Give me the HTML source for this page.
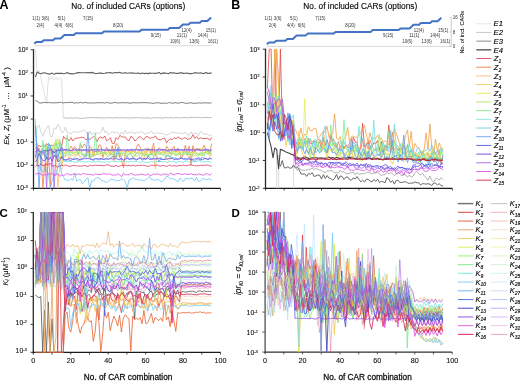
<!DOCTYPE html>
<html><head><meta charset="utf-8"><style>
html,body{margin:0;padding:0;background:#fff;width:520px;height:381px;overflow:hidden}
svg{display:block;will-change:transform}
text{font-family:"Liberation Sans", sans-serif;stroke:#000;stroke-width:0.3px;stroke-opacity:0.8}
</style></head><body>
<svg width="520" height="381" viewBox="0 0 520 381">
<text x="-0.60" y="8.80" font-size="12.5" font-weight="bold" style="stroke:none">A</text>
<text x="231.20" y="8.80" font-size="12.5" font-weight="bold" style="stroke:none">B</text>
<text x="-0.60" y="216.60" font-size="11.5" font-weight="bold" style="stroke:none">C</text>
<text x="231.50" y="216.60" font-size="11.5" font-weight="bold" style="stroke:none">D</text>
<text x="128.25" y="8.60" font-size="8.3" text-anchor="middle" style="stroke-width:0.15px">No. of included CARs (options)</text>
<text x="360.30" y="8.60" font-size="8.3" text-anchor="middle" style="stroke-width:0.15px">No. of included CARs (options)</text>
<line x1="34.60" y1="45.70" x2="212.50" y2="45.70" stroke="#d9d9d9" stroke-width="1" />
<polyline points="34.3,43.8 36.2,42.0 38.1,42.0 39.9,42.0 41.8,42.0 43.7,40.3 45.6,40.3 47.5,40.3 49.3,40.3 51.2,40.3 53.1,40.3 55.0,38.5 56.9,38.5 58.8,38.5 60.6,38.5 62.5,36.8 64.4,35.0 66.3,35.0 68.2,35.0 70.0,35.0 71.9,35.0 73.8,35.0 75.7,33.2 77.6,33.2 79.4,33.2 81.3,33.2 83.2,33.2 85.1,33.2 87.0,33.2 88.8,33.2 90.7,33.2 92.6,33.2 94.5,33.2 96.4,33.2 98.3,33.2 100.1,33.2 102.0,33.2 103.9,31.5 105.8,31.5 107.7,31.5 109.5,31.5 111.4,31.5 113.3,31.5 115.2,31.5 117.1,31.5 118.9,31.5 120.8,31.5 122.7,31.5 124.6,31.5 126.5,31.5 128.3,31.5 130.2,31.5 132.1,31.5 134.0,31.5 135.9,31.5 137.8,31.5 139.6,31.5 141.5,29.7 143.4,29.7 145.3,29.7 147.2,29.7 149.0,29.7 150.9,29.7 152.8,29.7 154.7,29.7 156.6,29.7 158.4,29.7 160.3,29.7 162.2,29.7 164.1,29.7 166.0,29.7 167.9,29.7 169.7,28.0 171.6,28.0 173.5,28.0 175.4,28.0 177.3,28.0 179.1,28.0 181.0,26.2 182.9,24.4 184.8,24.4 186.7,24.4 188.5,24.4 190.4,22.7 192.3,22.7 194.2,22.7 196.1,22.7 197.9,22.7 199.8,22.7 201.7,20.9 203.6,20.9 205.5,20.9 207.4,20.9 209.2,19.2 211.1,17.4" fill="none" stroke="#4472c4" stroke-width="2.0" stroke-opacity="1" stroke-linejoin="round" />
<text x="32.30" y="19.70" font-size="4.6" fill="#333" font-family='"Liberation Serif", serif' style="stroke:none" textLength="7.7" lengthAdjust="spacingAndGlyphs">1(1)</text>
<text x="41.50" y="19.70" font-size="4.6" fill="#333" font-family='"Liberation Serif", serif' style="stroke:none" textLength="7.7" lengthAdjust="spacingAndGlyphs">3(6)</text>
<text x="57.70" y="19.70" font-size="4.6" fill="#333" font-family='"Liberation Serif", serif' style="stroke:none" textLength="7.7" lengthAdjust="spacingAndGlyphs">5(1)</text>
<text x="83.00" y="19.70" font-size="4.6" fill="#333" font-family='"Liberation Serif", serif' style="stroke:none" textLength="10.2" lengthAdjust="spacingAndGlyphs">7(15)</text>
<text x="36.50" y="26.60" font-size="4.6" fill="#333" font-family='"Liberation Serif", serif' style="stroke:none" textLength="7.7" lengthAdjust="spacingAndGlyphs">2(4)</text>
<text x="54.60" y="26.60" font-size="4.6" fill="#333" font-family='"Liberation Serif", serif' style="stroke:none" textLength="7.7" lengthAdjust="spacingAndGlyphs">4(4)</text>
<text x="65.40" y="26.60" font-size="4.6" fill="#333" font-family='"Liberation Serif", serif' style="stroke:none" textLength="7.7" lengthAdjust="spacingAndGlyphs">6(6)</text>
<text x="113.00" y="26.60" font-size="4.6" fill="#333" font-family='"Liberation Serif", serif' style="stroke:none" textLength="10.2" lengthAdjust="spacingAndGlyphs">8(20)</text>
<text x="150.80" y="37.10" font-size="4.6" fill="#333" font-family='"Liberation Serif", serif' style="stroke:none" textLength="10.2" lengthAdjust="spacingAndGlyphs">9(15)</text>
<text x="181.50" y="31.90" font-size="4.6" fill="#333" font-family='"Liberation Serif", serif' style="stroke:none" textLength="10.2" lengthAdjust="spacingAndGlyphs">12(4)</text>
<text x="205.80" y="31.90" font-size="4.6" fill="#333" font-family='"Liberation Serif", serif' style="stroke:none" textLength="10.2" lengthAdjust="spacingAndGlyphs">15(1)</text>
<text x="176.80" y="37.30" font-size="4.6" fill="#333" font-family='"Liberation Serif", serif' style="stroke:none" textLength="10.2" lengthAdjust="spacingAndGlyphs">11(1)</text>
<text x="197.70" y="36.60" font-size="4.6" fill="#333" font-family='"Liberation Serif", serif' style="stroke:none" textLength="10.2" lengthAdjust="spacingAndGlyphs">14(4)</text>
<text x="170.00" y="42.70" font-size="4.6" fill="#333" font-family='"Liberation Serif", serif' style="stroke:none" textLength="10.2" lengthAdjust="spacingAndGlyphs">10(6)</text>
<text x="189.30" y="42.70" font-size="4.6" fill="#333" font-family='"Liberation Serif", serif' style="stroke:none" textLength="10.2" lengthAdjust="spacingAndGlyphs">13(6)</text>
<text x="207.80" y="42.70" font-size="4.6" fill="#333" font-family='"Liberation Serif", serif' style="stroke:none" textLength="10.2" lengthAdjust="spacingAndGlyphs">16(1)</text>
<line x1="266.00" y1="46.40" x2="451.20" y2="46.40" stroke="#d9d9d9" stroke-width="1" />
<polyline points="266.9,44.2 268.8,42.4 270.6,42.4 272.5,42.4 274.3,42.4 276.2,40.7 278.0,40.7 279.9,40.7 281.7,40.7 283.6,40.7 285.4,40.7 287.3,38.9 289.2,38.9 291.0,38.9 292.9,38.9 294.7,37.2 296.6,35.4 298.4,35.4 300.3,35.4 302.1,35.4 304.0,35.4 305.9,35.4 307.7,33.6 309.6,33.6 311.4,33.6 313.3,33.6 315.1,33.6 317.0,33.6 318.8,33.6 320.7,33.6 322.5,33.6 324.4,33.6 326.3,33.6 328.1,33.6 330.0,33.6 331.8,33.6 333.7,33.6 335.5,31.9 337.4,31.9 339.2,31.9 341.1,31.9 343.0,31.9 344.8,31.9 346.7,31.9 348.5,31.9 350.4,31.9 352.2,31.9 354.1,31.9 355.9,31.9 357.8,31.9 359.6,31.9 361.5,31.9 363.4,31.9 365.2,31.9 367.1,31.9 368.9,31.9 370.8,31.9 372.6,30.1 374.5,30.1 376.3,30.1 378.2,30.1 380.1,30.1 381.9,30.1 383.8,30.1 385.6,30.1 387.5,30.1 389.3,30.1 391.2,30.1 393.0,30.1 394.9,30.1 396.8,30.1 398.6,30.1 400.5,28.4 402.3,28.4 404.2,28.4 406.0,28.4 407.9,28.4 409.7,28.4 411.6,26.6 413.4,24.8 415.3,24.8 417.2,24.8 419.0,24.8 420.9,23.1 422.7,23.1 424.6,23.1 426.4,23.1 428.3,23.1 430.1,23.1 432.0,21.3 433.8,21.3 435.7,21.3 437.6,21.3 439.4,19.6 441.3,17.8" fill="none" stroke="#4472c4" stroke-width="2.0" stroke-opacity="1" stroke-linejoin="round" />
<text x="264.60" y="19.70" font-size="4.6" fill="#333" font-family='"Liberation Serif", serif' style="stroke:none" textLength="7.7" lengthAdjust="spacingAndGlyphs">1(1)</text>
<text x="273.80" y="19.70" font-size="4.6" fill="#333" font-family='"Liberation Serif", serif' style="stroke:none" textLength="7.7" lengthAdjust="spacingAndGlyphs">3(6)</text>
<text x="290.00" y="19.70" font-size="4.6" fill="#333" font-family='"Liberation Serif", serif' style="stroke:none" textLength="7.7" lengthAdjust="spacingAndGlyphs">5(1)</text>
<text x="315.30" y="19.70" font-size="4.6" fill="#333" font-family='"Liberation Serif", serif' style="stroke:none" textLength="10.2" lengthAdjust="spacingAndGlyphs">7(15)</text>
<text x="268.80" y="26.60" font-size="4.6" fill="#333" font-family='"Liberation Serif", serif' style="stroke:none" textLength="7.7" lengthAdjust="spacingAndGlyphs">2(4)</text>
<text x="286.90" y="26.60" font-size="4.6" fill="#333" font-family='"Liberation Serif", serif' style="stroke:none" textLength="7.7" lengthAdjust="spacingAndGlyphs">4(4)</text>
<text x="297.70" y="26.60" font-size="4.6" fill="#333" font-family='"Liberation Serif", serif' style="stroke:none" textLength="7.7" lengthAdjust="spacingAndGlyphs">6(6)</text>
<text x="345.30" y="26.60" font-size="4.6" fill="#333" font-family='"Liberation Serif", serif' style="stroke:none" textLength="10.2" lengthAdjust="spacingAndGlyphs">8(20)</text>
<text x="383.10" y="37.10" font-size="4.6" fill="#333" font-family='"Liberation Serif", serif' style="stroke:none" textLength="10.2" lengthAdjust="spacingAndGlyphs">9(15)</text>
<text x="413.80" y="31.90" font-size="4.6" fill="#333" font-family='"Liberation Serif", serif' style="stroke:none" textLength="10.2" lengthAdjust="spacingAndGlyphs">12(4)</text>
<text x="438.10" y="31.90" font-size="4.6" fill="#333" font-family='"Liberation Serif", serif' style="stroke:none" textLength="10.2" lengthAdjust="spacingAndGlyphs">15(1)</text>
<text x="409.10" y="37.30" font-size="4.6" fill="#333" font-family='"Liberation Serif", serif' style="stroke:none" textLength="10.2" lengthAdjust="spacingAndGlyphs">11(1)</text>
<text x="430.00" y="36.60" font-size="4.6" fill="#333" font-family='"Liberation Serif", serif' style="stroke:none" textLength="10.2" lengthAdjust="spacingAndGlyphs">14(4)</text>
<text x="402.30" y="42.70" font-size="4.6" fill="#333" font-family='"Liberation Serif", serif' style="stroke:none" textLength="10.2" lengthAdjust="spacingAndGlyphs">10(6)</text>
<text x="421.60" y="42.70" font-size="4.6" fill="#333" font-family='"Liberation Serif", serif' style="stroke:none" textLength="10.2" lengthAdjust="spacingAndGlyphs">13(6)</text>
<text x="440.10" y="42.70" font-size="4.6" fill="#333" font-family='"Liberation Serif", serif' style="stroke:none" textLength="10.2" lengthAdjust="spacingAndGlyphs">16(1)</text>
<line x1="451.20" y1="17.20" x2="451.20" y2="46.40" stroke="#bfbfbf" stroke-width="0.8" />
<line x1="449.10" y1="17.20" x2="451.20" y2="17.20" stroke="#bfbfbf" stroke-width="0.8" />
<text x="452.80" y="18.80" font-size="4.6" fill="#333" font-family='"Liberation Serif", serif' style="stroke:none">16</text>
<line x1="449.10" y1="32.00" x2="451.20" y2="32.00" stroke="#bfbfbf" stroke-width="0.8" />
<text x="452.80" y="33.60" font-size="4.6" fill="#333" font-family='"Liberation Serif", serif' style="stroke:none">8</text>
<line x1="449.10" y1="46.10" x2="451.20" y2="46.10" stroke="#bfbfbf" stroke-width="0.8" />
<text x="452.80" y="47.70" font-size="4.6" fill="#333" font-family='"Liberation Serif", serif' style="stroke:none">0</text>
<text x="0.00" y="0.00" font-size="5.6" text-anchor="middle" fill="#222" style="stroke-width:0.1px" transform="translate(464.3,32.3) rotate(-90)">No. of incl. CARs</text>
<line x1="33.50" y1="49.30" x2="33.50" y2="189.20" stroke="#2a2a2a" stroke-width="1.3" />
<line x1="30.70" y1="49.80" x2="33.50" y2="49.80" stroke="#2a2a2a" stroke-width="0.9" />
<text x="27.90" y="51.60" font-size="6.8" text-anchor="end" fill="#111" style="stroke-width:0.12px">10<tspan dy="-1.9" font-size="4.3">3</tspan></text>
<line x1="30.70" y1="72.88" x2="33.50" y2="72.88" stroke="#2a2a2a" stroke-width="0.9" />
<text x="27.90" y="74.68" font-size="6.8" text-anchor="end" fill="#111" style="stroke-width:0.12px">10<tspan dy="-1.9" font-size="4.3">2</tspan></text>
<line x1="30.70" y1="95.96" x2="33.50" y2="95.96" stroke="#2a2a2a" stroke-width="0.9" />
<text x="27.90" y="97.76" font-size="6.8" text-anchor="end" fill="#111" style="stroke-width:0.12px">10<tspan dy="-1.9" font-size="4.3">1</tspan></text>
<line x1="30.70" y1="119.04" x2="33.50" y2="119.04" stroke="#2a2a2a" stroke-width="0.9" />
<text x="27.90" y="120.84" font-size="6.8" text-anchor="end" fill="#111" style="stroke-width:0.12px">10<tspan dy="-1.9" font-size="4.3">0</tspan></text>
<line x1="30.70" y1="142.12" x2="33.50" y2="142.12" stroke="#2a2a2a" stroke-width="0.9" />
<text x="27.90" y="143.92" font-size="6.8" text-anchor="end" fill="#111" style="stroke-width:0.12px">10<tspan dy="-1.9" font-size="4.3">-1</tspan></text>
<line x1="30.70" y1="165.20" x2="33.50" y2="165.20" stroke="#2a2a2a" stroke-width="0.9" />
<text x="27.90" y="167.00" font-size="6.8" text-anchor="end" fill="#111" style="stroke-width:0.12px">10<tspan dy="-1.9" font-size="4.3">-2</tspan></text>
<line x1="30.70" y1="188.28" x2="33.50" y2="188.28" stroke="#2a2a2a" stroke-width="0.9" />
<text x="27.90" y="190.08" font-size="6.8" text-anchor="end" fill="#111" style="stroke-width:0.12px">10<tspan dy="-1.9" font-size="4.3">-3</tspan></text>
<line x1="32.90" y1="188.30" x2="220.50" y2="188.30" stroke="#1a1a1a" stroke-width="1.2" />
<line x1="33.50" y1="188.30" x2="33.50" y2="190.60" stroke="#1a1a1a" stroke-width="0.8" />
<line x1="52.20" y1="188.30" x2="52.20" y2="190.60" stroke="#1a1a1a" stroke-width="0.8" />
<line x1="70.90" y1="188.30" x2="70.90" y2="190.60" stroke="#1a1a1a" stroke-width="0.8" />
<line x1="89.60" y1="188.30" x2="89.60" y2="190.60" stroke="#1a1a1a" stroke-width="0.8" />
<line x1="108.30" y1="188.30" x2="108.30" y2="190.60" stroke="#1a1a1a" stroke-width="0.8" />
<line x1="127.00" y1="188.30" x2="127.00" y2="190.60" stroke="#1a1a1a" stroke-width="0.8" />
<line x1="145.70" y1="188.30" x2="145.70" y2="190.60" stroke="#1a1a1a" stroke-width="0.8" />
<line x1="164.40" y1="188.30" x2="164.40" y2="190.60" stroke="#1a1a1a" stroke-width="0.8" />
<line x1="183.10" y1="188.30" x2="183.10" y2="190.60" stroke="#1a1a1a" stroke-width="0.8" />
<line x1="201.80" y1="188.30" x2="201.80" y2="190.60" stroke="#1a1a1a" stroke-width="0.8" />
<line x1="220.50" y1="188.30" x2="220.50" y2="190.60" stroke="#1a1a1a" stroke-width="0.8" />
<line x1="265.50" y1="48.70" x2="265.50" y2="189.20" stroke="#2a2a2a" stroke-width="1.3" />
<line x1="262.70" y1="49.20" x2="265.50" y2="49.20" stroke="#2a2a2a" stroke-width="0.9" />
<text x="259.60" y="51.50" font-size="6.8" text-anchor="end" fill="#111" style="stroke-width:0.12px">10<tspan dy="-1.9" font-size="4.3">3</tspan></text>
<line x1="262.70" y1="77.02" x2="265.50" y2="77.02" stroke="#2a2a2a" stroke-width="0.9" />
<text x="259.60" y="79.32" font-size="6.8" text-anchor="end" fill="#111" style="stroke-width:0.12px">10<tspan dy="-1.9" font-size="4.3">2</tspan></text>
<line x1="262.70" y1="104.84" x2="265.50" y2="104.84" stroke="#2a2a2a" stroke-width="0.9" />
<text x="259.60" y="107.14" font-size="6.8" text-anchor="end" fill="#111" style="stroke-width:0.12px">10<tspan dy="-1.9" font-size="4.3">1</tspan></text>
<line x1="262.70" y1="132.66" x2="265.50" y2="132.66" stroke="#2a2a2a" stroke-width="0.9" />
<text x="259.60" y="134.96" font-size="6.8" text-anchor="end" fill="#111" style="stroke-width:0.12px">10<tspan dy="-1.9" font-size="4.3">0</tspan></text>
<line x1="262.70" y1="160.48" x2="265.50" y2="160.48" stroke="#2a2a2a" stroke-width="0.9" />
<text x="259.60" y="162.78" font-size="6.8" text-anchor="end" fill="#111" style="stroke-width:0.12px">10<tspan dy="-1.9" font-size="4.3">-1</tspan></text>
<line x1="262.70" y1="188.30" x2="265.50" y2="188.30" stroke="#2a2a2a" stroke-width="0.9" />
<text x="259.60" y="190.60" font-size="6.8" text-anchor="end" fill="#111" style="stroke-width:0.12px">10<tspan dy="-1.9" font-size="4.3">-2</tspan></text>
<line x1="264.90" y1="188.30" x2="452.30" y2="188.30" stroke="#1a1a1a" stroke-width="1.2" />
<line x1="265.50" y1="188.30" x2="265.50" y2="190.60" stroke="#1a1a1a" stroke-width="0.8" />
<line x1="284.18" y1="188.30" x2="284.18" y2="190.60" stroke="#1a1a1a" stroke-width="0.8" />
<line x1="302.86" y1="188.30" x2="302.86" y2="190.60" stroke="#1a1a1a" stroke-width="0.8" />
<line x1="321.54" y1="188.30" x2="321.54" y2="190.60" stroke="#1a1a1a" stroke-width="0.8" />
<line x1="340.22" y1="188.30" x2="340.22" y2="190.60" stroke="#1a1a1a" stroke-width="0.8" />
<line x1="358.90" y1="188.30" x2="358.90" y2="190.60" stroke="#1a1a1a" stroke-width="0.8" />
<line x1="377.58" y1="188.30" x2="377.58" y2="190.60" stroke="#1a1a1a" stroke-width="0.8" />
<line x1="396.26" y1="188.30" x2="396.26" y2="190.60" stroke="#1a1a1a" stroke-width="0.8" />
<line x1="414.94" y1="188.30" x2="414.94" y2="190.60" stroke="#1a1a1a" stroke-width="0.8" />
<line x1="433.62" y1="188.30" x2="433.62" y2="190.60" stroke="#1a1a1a" stroke-width="0.8" />
<line x1="452.30" y1="188.30" x2="452.30" y2="190.60" stroke="#1a1a1a" stroke-width="0.8" />
<line x1="33.30" y1="212.10" x2="33.30" y2="353.20" stroke="#2a2a2a" stroke-width="1.3" />
<line x1="30.50" y1="212.60" x2="33.30" y2="212.60" stroke="#2a2a2a" stroke-width="0.9" />
<text x="27.00" y="213.40" font-size="6.8" text-anchor="end" fill="#111" style="stroke-width:0.12px">10<tspan dy="-1.9" font-size="4.3">2</tspan></text>
<line x1="30.50" y1="240.54" x2="33.30" y2="240.54" stroke="#2a2a2a" stroke-width="0.9" />
<text x="27.00" y="241.34" font-size="6.8" text-anchor="end" fill="#111" style="stroke-width:0.12px">10<tspan dy="-1.9" font-size="4.3">1</tspan></text>
<line x1="30.50" y1="268.48" x2="33.30" y2="268.48" stroke="#2a2a2a" stroke-width="0.9" />
<text x="27.00" y="269.28" font-size="6.8" text-anchor="end" fill="#111" style="stroke-width:0.12px">10<tspan dy="-1.9" font-size="4.3">0</tspan></text>
<line x1="30.50" y1="296.42" x2="33.30" y2="296.42" stroke="#2a2a2a" stroke-width="0.9" />
<text x="27.00" y="297.22" font-size="6.8" text-anchor="end" fill="#111" style="stroke-width:0.12px">10<tspan dy="-1.9" font-size="4.3">-1</tspan></text>
<line x1="30.50" y1="324.36" x2="33.30" y2="324.36" stroke="#2a2a2a" stroke-width="0.9" />
<text x="27.00" y="325.16" font-size="6.8" text-anchor="end" fill="#111" style="stroke-width:0.12px">10<tspan dy="-1.9" font-size="4.3">-2</tspan></text>
<line x1="30.50" y1="352.30" x2="33.30" y2="352.30" stroke="#2a2a2a" stroke-width="0.9" />
<text x="27.00" y="353.10" font-size="6.8" text-anchor="end" fill="#111" style="stroke-width:0.12px">10<tspan dy="-1.9" font-size="4.3">-3</tspan></text>
<line x1="32.70" y1="352.30" x2="220.50" y2="352.30" stroke="#1a1a1a" stroke-width="1.2" />
<line x1="33.30" y1="352.30" x2="33.30" y2="354.60" stroke="#1a1a1a" stroke-width="0.8" />
<text x="33.30" y="362.70" font-size="7.2" text-anchor="middle" fill="#111" style="stroke-width:0.12px">0</text>
<line x1="52.02" y1="352.30" x2="52.02" y2="354.60" stroke="#1a1a1a" stroke-width="0.8" />
<line x1="70.74" y1="352.30" x2="70.74" y2="354.60" stroke="#1a1a1a" stroke-width="0.8" />
<text x="70.74" y="362.70" font-size="7.2" text-anchor="middle" fill="#111" style="stroke-width:0.12px">20</text>
<line x1="89.46" y1="352.30" x2="89.46" y2="354.60" stroke="#1a1a1a" stroke-width="0.8" />
<line x1="108.18" y1="352.30" x2="108.18" y2="354.60" stroke="#1a1a1a" stroke-width="0.8" />
<text x="108.18" y="362.70" font-size="7.2" text-anchor="middle" fill="#111" style="stroke-width:0.12px">40</text>
<line x1="126.90" y1="352.30" x2="126.90" y2="354.60" stroke="#1a1a1a" stroke-width="0.8" />
<line x1="145.62" y1="352.30" x2="145.62" y2="354.60" stroke="#1a1a1a" stroke-width="0.8" />
<text x="145.62" y="362.70" font-size="7.2" text-anchor="middle" fill="#111" style="stroke-width:0.12px">60</text>
<line x1="164.34" y1="352.30" x2="164.34" y2="354.60" stroke="#1a1a1a" stroke-width="0.8" />
<line x1="183.06" y1="352.30" x2="183.06" y2="354.60" stroke="#1a1a1a" stroke-width="0.8" />
<text x="183.06" y="362.70" font-size="7.2" text-anchor="middle" fill="#111" style="stroke-width:0.12px">80</text>
<line x1="201.78" y1="352.30" x2="201.78" y2="354.60" stroke="#1a1a1a" stroke-width="0.8" />
<line x1="220.50" y1="352.30" x2="220.50" y2="354.60" stroke="#1a1a1a" stroke-width="0.8" />
<text x="220.50" y="362.70" font-size="7.2" text-anchor="middle" fill="#111" style="stroke-width:0.12px">100</text>
<line x1="265.10" y1="211.60" x2="265.10" y2="353.00" stroke="#505050" stroke-width="1.3" />
<line x1="262.30" y1="212.10" x2="265.10" y2="212.10" stroke="#505050" stroke-width="0.9" />
<text x="258.00" y="215.30" font-size="6.8" text-anchor="end" fill="#111" style="stroke-width:0.12px">10<tspan dy="-1.9" font-size="4.3">4</tspan></text>
<line x1="262.30" y1="232.10" x2="265.10" y2="232.10" stroke="#505050" stroke-width="0.9" />
<text x="258.00" y="235.30" font-size="6.8" text-anchor="end" fill="#111" style="stroke-width:0.12px">10<tspan dy="-1.9" font-size="4.3">3</tspan></text>
<line x1="262.30" y1="252.10" x2="265.10" y2="252.10" stroke="#505050" stroke-width="0.9" />
<text x="258.00" y="255.30" font-size="6.8" text-anchor="end" fill="#111" style="stroke-width:0.12px">10<tspan dy="-1.9" font-size="4.3">2</tspan></text>
<line x1="262.30" y1="272.10" x2="265.10" y2="272.10" stroke="#505050" stroke-width="0.9" />
<text x="258.00" y="275.30" font-size="6.8" text-anchor="end" fill="#111" style="stroke-width:0.12px">10<tspan dy="-1.9" font-size="4.3">1</tspan></text>
<line x1="262.30" y1="292.10" x2="265.10" y2="292.10" stroke="#505050" stroke-width="0.9" />
<text x="258.00" y="295.30" font-size="6.8" text-anchor="end" fill="#111" style="stroke-width:0.12px">10<tspan dy="-1.9" font-size="4.3">0</tspan></text>
<line x1="262.30" y1="312.10" x2="265.10" y2="312.10" stroke="#505050" stroke-width="0.9" />
<text x="258.00" y="315.30" font-size="6.8" text-anchor="end" fill="#111" style="stroke-width:0.12px">10<tspan dy="-1.9" font-size="4.3">-1</tspan></text>
<line x1="262.30" y1="332.10" x2="265.10" y2="332.10" stroke="#505050" stroke-width="0.9" />
<text x="258.00" y="335.30" font-size="6.8" text-anchor="end" fill="#111" style="stroke-width:0.12px">10<tspan dy="-1.9" font-size="4.3">-2</tspan></text>
<line x1="262.30" y1="352.10" x2="265.10" y2="352.10" stroke="#505050" stroke-width="0.9" />
<text x="258.00" y="355.30" font-size="6.8" text-anchor="end" fill="#111" style="stroke-width:0.12px">10<tspan dy="-1.9" font-size="4.3">-3</tspan></text>
<line x1="264.50" y1="352.10" x2="452.20" y2="352.10" stroke="#303030" stroke-width="1.2" />
<line x1="265.10" y1="352.10" x2="265.10" y2="354.40" stroke="#303030" stroke-width="0.8" />
<text x="265.10" y="362.70" font-size="7.2" text-anchor="middle" fill="#111" style="stroke-width:0.12px">0</text>
<line x1="283.81" y1="352.10" x2="283.81" y2="354.40" stroke="#303030" stroke-width="0.8" />
<line x1="302.52" y1="352.10" x2="302.52" y2="354.40" stroke="#303030" stroke-width="0.8" />
<text x="302.52" y="362.70" font-size="7.2" text-anchor="middle" fill="#111" style="stroke-width:0.12px">20</text>
<line x1="321.23" y1="352.10" x2="321.23" y2="354.40" stroke="#303030" stroke-width="0.8" />
<line x1="339.94" y1="352.10" x2="339.94" y2="354.40" stroke="#303030" stroke-width="0.8" />
<text x="339.94" y="362.70" font-size="7.2" text-anchor="middle" fill="#111" style="stroke-width:0.12px">40</text>
<line x1="358.65" y1="352.10" x2="358.65" y2="354.40" stroke="#303030" stroke-width="0.8" />
<line x1="377.36" y1="352.10" x2="377.36" y2="354.40" stroke="#303030" stroke-width="0.8" />
<text x="377.36" y="362.70" font-size="7.2" text-anchor="middle" fill="#111" style="stroke-width:0.12px">60</text>
<line x1="396.07" y1="352.10" x2="396.07" y2="354.40" stroke="#303030" stroke-width="0.8" />
<line x1="414.78" y1="352.10" x2="414.78" y2="354.40" stroke="#303030" stroke-width="0.8" />
<text x="414.78" y="362.70" font-size="7.2" text-anchor="middle" fill="#111" style="stroke-width:0.12px">80</text>
<line x1="433.49" y1="352.10" x2="433.49" y2="354.40" stroke="#303030" stroke-width="0.8" />
<line x1="452.20" y1="352.10" x2="452.20" y2="354.40" stroke="#303030" stroke-width="0.8" />
<text x="452.20" y="362.70" font-size="7.2" text-anchor="middle" fill="#111" style="stroke-width:0.12px">100</text>
<text x="128.10" y="379.60" font-size="8.25" text-anchor="middle" fill="#111">No. of CAR combination</text>
<text x="367.50" y="379.60" font-size="8.25" text-anchor="middle" fill="#111">No. of CAR combination</text>
<text x="0.00" y="0.00" font-size="8.0" text-anchor="middle" fill="#111" style="stroke-width:0.12px" transform="translate(8.9,106) rotate(-90)"><tspan font-style="italic">Ex</tspan>, <tspan font-style="italic">Z<tspan font-size="5.4" dy="1.6">i</tspan></tspan><tspan dy="-1.6"> (μM</tspan><tspan font-size="4.8" dy="-2.8">-1</tspan><tspan dy="2.8">&#160;&#160;…&#160;&#160;μM</tspan><tspan font-size="4.8" dy="-2.8">-4</tspan><tspan dy="2.8"> )</tspan></text>
<text x="0.00" y="0.00" font-size="8.4" text-anchor="middle" fill="#111" style="stroke-width:0.12px" transform="translate(241.6,111.7) rotate(-90)"><tspan font-style="italic">ipr<tspan font-size="5.2" dy="1.6">i,rel</tspan><tspan dy="-1.6"> = σ</tspan><tspan font-size="5.2" dy="1.6">i,rel</tspan></tspan></text>
<text x="0.00" y="0.00" font-size="7.6" text-anchor="middle" fill="#111" style="stroke-width:0.12px" transform="translate(7.6,271.4) rotate(-90)"><tspan font-style="italic">K<tspan font-size="5" dy="1.6">i</tspan></tspan><tspan dy="-1.6"> (μM</tspan><tspan font-size="4.6" dy="-2.6">-1</tspan><tspan dy="2.6">)</tspan></text>
<text x="0.00" y="0.00" font-size="8.4" text-anchor="middle" fill="#111" style="stroke-width:0.12px" transform="translate(241.2,274.8) rotate(-90)"><tspan font-style="italic">ipr<tspan font-size="5.2" dy="1.6">Ki</tspan><tspan dy="-1.6"> = σ</tspan><tspan font-size="5.2" dy="1.6">Ki,rel</tspan></tspan></text>
<line x1="476.30" y1="23.75" x2="491.30" y2="23.75" stroke="#e6e6e6" stroke-width="1.0" />
<text x="493.60" y="26.45" font-size="7.6" font-style="italic" style="stroke-width:0.18px">E1</text>
<line x1="476.30" y1="32.44" x2="491.30" y2="32.44" stroke="#c8c8c8" stroke-width="1.0" />
<text x="493.60" y="35.14" font-size="7.6" font-style="italic" style="stroke-width:0.18px">E2</text>
<line x1="476.30" y1="41.13" x2="491.30" y2="41.13" stroke="#8c8c8c" stroke-width="1.0" />
<text x="493.60" y="43.83" font-size="7.6" font-style="italic" style="stroke-width:0.18px">E3</text>
<line x1="476.30" y1="49.82" x2="491.30" y2="49.82" stroke="#6e6e6e" stroke-width="1.6" />
<text x="493.60" y="52.52" font-size="7.6" font-style="italic" style="stroke-width:0.18px">E4</text>
<line x1="476.30" y1="58.51" x2="491.30" y2="58.51" stroke="#e05a6a" stroke-width="1.0" />
<text x="493.80" y="61.21" font-size="7.6" font-style="italic" style="stroke-width:0.18px">Z<tspan font-size="5" dy="1.8">1</tspan></text>
<line x1="476.30" y1="67.20" x2="491.30" y2="67.20" stroke="#ec8a5c" stroke-width="1.0" />
<text x="493.80" y="69.90" font-size="7.6" font-style="italic" style="stroke-width:0.18px">Z<tspan font-size="5" dy="1.8">2</tspan></text>
<line x1="476.30" y1="75.89" x2="491.30" y2="75.89" stroke="#f5c68a" stroke-width="1.0" />
<text x="493.80" y="78.59" font-size="7.6" font-style="italic" style="stroke-width:0.18px">Z<tspan font-size="5" dy="1.8">3</tspan></text>
<line x1="476.30" y1="84.58" x2="491.30" y2="84.58" stroke="#f2d060" stroke-width="1.0" />
<text x="493.80" y="87.28" font-size="7.6" font-style="italic" style="stroke-width:0.18px">Z<tspan font-size="5" dy="1.8">4</tspan></text>
<line x1="476.30" y1="93.27" x2="491.30" y2="93.27" stroke="#e8ec60" stroke-width="1.0" />
<text x="493.80" y="95.97" font-size="7.6" font-style="italic" style="stroke-width:0.18px">Z<tspan font-size="5" dy="1.8">5</tspan></text>
<line x1="476.30" y1="101.96" x2="491.30" y2="101.96" stroke="#b0ea70" stroke-width="1.0" />
<text x="493.80" y="104.66" font-size="7.6" font-style="italic" style="stroke-width:0.18px">Z<tspan font-size="5" dy="1.8">6</tspan></text>
<line x1="476.30" y1="110.65" x2="491.30" y2="110.65" stroke="#96ec9a" stroke-width="1.0" />
<text x="493.80" y="113.35" font-size="7.6" font-style="italic" style="stroke-width:0.18px">Z<tspan font-size="5" dy="1.8">7</tspan></text>
<line x1="476.30" y1="119.34" x2="491.30" y2="119.34" stroke="#8ee8e0" stroke-width="1.0" />
<text x="493.80" y="122.04" font-size="7.6" font-style="italic" style="stroke-width:0.18px">Z<tspan font-size="5" dy="1.8">8</tspan></text>
<line x1="476.30" y1="128.03" x2="491.30" y2="128.03" stroke="#80d0f4" stroke-width="1.0" />
<text x="493.80" y="130.73" font-size="7.6" font-style="italic" style="stroke-width:0.18px">Z<tspan font-size="5" dy="1.8">9</tspan></text>
<line x1="476.30" y1="136.72" x2="491.30" y2="136.72" stroke="#7aa8f0" stroke-width="1.0" />
<text x="493.80" y="139.42" font-size="7.6" font-style="italic" style="stroke-width:0.18px">Z<tspan font-size="5" dy="1.8">10</tspan></text>
<line x1="476.30" y1="145.41" x2="491.30" y2="145.41" stroke="#5c6ce8" stroke-width="1.0" />
<text x="493.80" y="148.11" font-size="7.6" font-style="italic" style="stroke-width:0.18px">Z<tspan font-size="5" dy="1.8">11</tspan></text>
<line x1="476.30" y1="154.10" x2="491.30" y2="154.10" stroke="#7a50e0" stroke-width="1.0" />
<text x="493.80" y="156.80" font-size="7.6" font-style="italic" style="stroke-width:0.18px">Z<tspan font-size="5" dy="1.8">12</tspan></text>
<line x1="476.30" y1="162.79" x2="491.30" y2="162.79" stroke="#b070f0" stroke-width="1.0" />
<text x="493.80" y="165.49" font-size="7.6" font-style="italic" style="stroke-width:0.18px">Z<tspan font-size="5" dy="1.8">13</tspan></text>
<line x1="476.30" y1="171.48" x2="491.30" y2="171.48" stroke="#e060ec" stroke-width="1.0" />
<text x="493.80" y="174.18" font-size="7.6" font-style="italic" style="stroke-width:0.18px">Z<tspan font-size="5" dy="1.8">14</tspan></text>
<line x1="476.30" y1="180.17" x2="491.30" y2="180.17" stroke="#d83a5a" stroke-width="1.0" />
<text x="493.80" y="182.87" font-size="7.6" font-style="italic" style="stroke-width:0.18px">Z<tspan font-size="5" dy="1.8">15</tspan></text>
<line x1="457.80" y1="203.60" x2="473.40" y2="203.60" stroke="#767676" stroke-width="1.5" />
<text x="475.60" y="206.20" font-size="7.4" font-style="italic" style="stroke-width:0.18px">K<tspan font-size="5" dy="1.8">1</tspan></text>
<line x1="490.80" y1="203.60" x2="507.30" y2="203.60" stroke="#767676" stroke-width="0.8" stroke-opacity="0.55"/>
<text x="509.70" y="206.20" font-size="7.4" font-style="italic" style="stroke-width:0.18px">K<tspan font-size="5" dy="1.8">17</tspan></text>
<line x1="457.80" y1="212.32" x2="473.40" y2="212.32" stroke="#e05060" stroke-width="1.1" />
<text x="475.60" y="214.92" font-size="7.4" font-style="italic" style="stroke-width:0.18px">K<tspan font-size="5" dy="1.8">2</tspan></text>
<line x1="490.80" y1="212.32" x2="507.30" y2="212.32" stroke="#e05060" stroke-width="0.8" stroke-opacity="0.55"/>
<text x="509.70" y="214.92" font-size="7.4" font-style="italic" style="stroke-width:0.18px">K<tspan font-size="5" dy="1.8">18</tspan></text>
<line x1="457.80" y1="221.04" x2="473.40" y2="221.04" stroke="#ec7050" stroke-width="1.1" />
<text x="475.60" y="223.64" font-size="7.4" font-style="italic" style="stroke-width:0.18px">K<tspan font-size="5" dy="1.8">3</tspan></text>
<line x1="490.80" y1="221.04" x2="507.30" y2="221.04" stroke="#ec7050" stroke-width="0.8" stroke-opacity="0.55"/>
<text x="509.70" y="223.64" font-size="7.4" font-style="italic" style="stroke-width:0.18px">K<tspan font-size="5" dy="1.8">19</tspan></text>
<line x1="457.80" y1="229.76" x2="473.40" y2="229.76" stroke="#eeb070" stroke-width="1.1" />
<text x="475.60" y="232.36" font-size="7.4" font-style="italic" style="stroke-width:0.18px">K<tspan font-size="5" dy="1.8">4</tspan></text>
<line x1="490.80" y1="229.76" x2="507.30" y2="229.76" stroke="#eeb070" stroke-width="0.8" stroke-opacity="0.55"/>
<text x="509.70" y="232.36" font-size="7.4" font-style="italic" style="stroke-width:0.18px">K<tspan font-size="5" dy="1.8">20</tspan></text>
<line x1="457.80" y1="238.48" x2="473.40" y2="238.48" stroke="#f2d070" stroke-width="1.1" />
<text x="475.60" y="241.08" font-size="7.4" font-style="italic" style="stroke-width:0.18px">K<tspan font-size="5" dy="1.8">5</tspan></text>
<line x1="490.80" y1="238.48" x2="507.30" y2="238.48" stroke="#f2d070" stroke-width="0.8" stroke-opacity="0.55"/>
<text x="509.70" y="241.08" font-size="7.4" font-style="italic" style="stroke-width:0.18px">K<tspan font-size="5" dy="1.8">21</tspan></text>
<line x1="457.80" y1="247.20" x2="473.40" y2="247.20" stroke="#e0f070" stroke-width="1.1" />
<text x="475.60" y="249.80" font-size="7.4" font-style="italic" style="stroke-width:0.18px">K<tspan font-size="5" dy="1.8">6</tspan></text>
<line x1="490.80" y1="247.20" x2="507.30" y2="247.20" stroke="#e0f070" stroke-width="0.8" stroke-opacity="0.55"/>
<text x="509.70" y="249.80" font-size="7.4" font-style="italic" style="stroke-width:0.18px">K<tspan font-size="5" dy="1.8">22</tspan></text>
<line x1="457.80" y1="255.92" x2="473.40" y2="255.92" stroke="#a8f080" stroke-width="1.1" />
<text x="475.60" y="258.52" font-size="7.4" font-style="italic" style="stroke-width:0.18px">K<tspan font-size="5" dy="1.8">7</tspan></text>
<line x1="490.80" y1="255.92" x2="507.30" y2="255.92" stroke="#a8f080" stroke-width="0.8" stroke-opacity="0.55"/>
<text x="509.70" y="258.52" font-size="7.4" font-style="italic" style="stroke-width:0.18px">K<tspan font-size="5" dy="1.8">23</tspan></text>
<line x1="457.80" y1="264.64" x2="473.40" y2="264.64" stroke="#90e8a0" stroke-width="1.1" />
<text x="475.60" y="267.24" font-size="7.4" font-style="italic" style="stroke-width:0.18px">K<tspan font-size="5" dy="1.8">8</tspan></text>
<line x1="490.80" y1="264.64" x2="507.30" y2="264.64" stroke="#90e8a0" stroke-width="0.8" stroke-opacity="0.55"/>
<text x="509.70" y="267.24" font-size="7.4" font-style="italic" style="stroke-width:0.18px">K<tspan font-size="5" dy="1.8">24</tspan></text>
<line x1="457.80" y1="273.36" x2="473.40" y2="273.36" stroke="#90ece0" stroke-width="1.1" />
<text x="475.60" y="275.96" font-size="7.4" font-style="italic" style="stroke-width:0.18px">K<tspan font-size="5" dy="1.8">9</tspan></text>
<line x1="490.80" y1="273.36" x2="507.30" y2="273.36" stroke="#90ece0" stroke-width="0.8" stroke-opacity="0.55"/>
<text x="509.70" y="275.96" font-size="7.4" font-style="italic" style="stroke-width:0.18px">K<tspan font-size="5" dy="1.8">25</tspan></text>
<line x1="457.80" y1="282.08" x2="473.40" y2="282.08" stroke="#8cd4f4" stroke-width="1.1" />
<text x="475.60" y="284.68" font-size="7.4" font-style="italic" style="stroke-width:0.18px">K<tspan font-size="5" dy="1.8">10</tspan></text>
<line x1="490.80" y1="282.08" x2="507.30" y2="282.08" stroke="#8cd4f4" stroke-width="0.8" stroke-opacity="0.55"/>
<text x="509.70" y="284.68" font-size="7.4" font-style="italic" style="stroke-width:0.18px">K<tspan font-size="5" dy="1.8">26</tspan></text>
<line x1="457.80" y1="290.80" x2="473.40" y2="290.80" stroke="#8cb8f0" stroke-width="1.1" />
<text x="475.60" y="293.40" font-size="7.4" font-style="italic" style="stroke-width:0.18px">K<tspan font-size="5" dy="1.8">11</tspan></text>
<line x1="490.80" y1="290.80" x2="507.30" y2="290.80" stroke="#8cb8f0" stroke-width="0.8" stroke-opacity="0.55"/>
<text x="509.70" y="293.40" font-size="7.4" font-style="italic" style="stroke-width:0.18px">K<tspan font-size="5" dy="1.8">27</tspan></text>
<line x1="457.80" y1="299.52" x2="473.40" y2="299.52" stroke="#6878ec" stroke-width="1.1" />
<text x="475.60" y="302.12" font-size="7.4" font-style="italic" style="stroke-width:0.18px">K<tspan font-size="5" dy="1.8">12</tspan></text>
<line x1="490.80" y1="299.52" x2="507.30" y2="299.52" stroke="#6878ec" stroke-width="0.8" stroke-opacity="0.55"/>
<text x="509.70" y="302.12" font-size="7.4" font-style="italic" style="stroke-width:0.18px">K<tspan font-size="5" dy="1.8">28</tspan></text>
<line x1="457.80" y1="308.24" x2="473.40" y2="308.24" stroke="#5858e0" stroke-width="1.1" />
<text x="475.60" y="310.84" font-size="7.4" font-style="italic" style="stroke-width:0.18px">K<tspan font-size="5" dy="1.8">13</tspan></text>
<line x1="490.80" y1="308.24" x2="507.30" y2="308.24" stroke="#5858e0" stroke-width="0.8" stroke-opacity="0.55"/>
<text x="509.70" y="310.84" font-size="7.4" font-style="italic" style="stroke-width:0.18px">K<tspan font-size="5" dy="1.8">29</tspan></text>
<line x1="457.80" y1="316.96" x2="473.40" y2="316.96" stroke="#a060f0" stroke-width="1.1" />
<text x="475.60" y="319.56" font-size="7.4" font-style="italic" style="stroke-width:0.18px">K<tspan font-size="5" dy="1.8">14</tspan></text>
<line x1="490.80" y1="316.96" x2="507.30" y2="316.96" stroke="#a060f0" stroke-width="0.8" stroke-opacity="0.55"/>
<text x="509.70" y="319.56" font-size="7.4" font-style="italic" style="stroke-width:0.18px">K<tspan font-size="5" dy="1.8">30</tspan></text>
<line x1="457.80" y1="325.68" x2="473.40" y2="325.68" stroke="#e070e8" stroke-width="1.1" />
<text x="475.60" y="328.28" font-size="7.4" font-style="italic" style="stroke-width:0.18px">K<tspan font-size="5" dy="1.8">15</tspan></text>
<line x1="490.80" y1="325.68" x2="507.30" y2="325.68" stroke="#e070e8" stroke-width="0.8" stroke-opacity="0.55"/>
<text x="509.70" y="328.28" font-size="7.4" font-style="italic" style="stroke-width:0.18px">K<tspan font-size="5" dy="1.8">31</tspan></text>
<line x1="457.80" y1="334.40" x2="473.40" y2="334.40" stroke="#d83a60" stroke-width="1.1" />
<text x="475.60" y="337.00" font-size="7.4" font-style="italic" style="stroke-width:0.18px">K<tspan font-size="5" dy="1.8">16</tspan></text>
<line x1="490.80" y1="334.40" x2="507.30" y2="334.40" stroke="#d83a60" stroke-width="0.8" stroke-opacity="0.55"/>
<text x="509.70" y="337.00" font-size="7.4" font-style="italic" style="stroke-width:0.18px">K<tspan font-size="5" dy="1.8">32</tspan></text>
<polyline points="35.4,135.1 37.2,127.8 39.1,125.2 41.0,132.3 42.9,136.2 44.8,130.6 46.6,128.2 48.5,125.5 50.4,136.4 52.2,136.9 54.1,127.8 56.0,129.1 57.9,124.3 59.8,127.0 61.6,132.2 63.5,132.2 65.4,127.0 67.2,132.3 69.1,133.3 71.0,133.9 72.9,131.8 74.8,131.7 76.6,132.6 78.5,132.1 80.4,131.6 82.2,130.9 84.1,130.2 86.0,131.8 87.9,135.3 89.8,131.1 91.6,134.7 93.5,132.6 95.4,134.9 97.2,132.4 99.1,133.8 101.0,132.1 102.9,127.0 104.8,132.6 106.6,131.2 108.5,134.8 110.4,133.2 112.2,131.6 114.1,132.9 116.0,132.2 117.9,132.7 119.8,134.5 121.6,132.0 123.5,134.2 125.4,130.1 127.2,133.8 129.1,132.0 131.0,133.1 132.9,131.7 134.8,134.1 136.6,131.7 138.5,133.4 140.4,131.4 142.2,132.4 144.1,133.2 146.0,134.5 147.9,132.3 149.8,132.8 151.6,131.2 153.5,134.1 155.4,132.8 157.2,132.9 159.1,133.3 161.0,133.4 162.9,133.5 164.8,134.6 166.6,135.2 168.5,134.4 170.4,133.1 172.2,131.9 174.1,132.7 176.0,132.6 177.9,133.0 179.8,133.2 181.6,133.9 183.5,133.2 185.4,131.9 187.2,134.7 189.1,135.2 191.0,131.9 192.9,134.1 194.8,133.2 196.6,133.4 198.5,135.8 200.4,131.6 202.2,132.4 204.1,134.4 206.0,133.7 207.9,134.5 209.8,135.7 211.6,134.9" fill="none" stroke="#d0d0d0" stroke-width="0.9" stroke-linejoin="round"/>
<polyline points="35.4,49.8 37.2,72.9 39.1,70.1 41.0,78.4 42.9,87.0 44.8,95.3 46.6,103.8 48.5,76.6 50.4,79.8 52.2,76.3 54.1,80.3 56.0,77.0 57.9,79.8 59.8,78.0 61.6,79.6 63.5,118.1" fill="none" stroke="#dcdcdc" stroke-width="0.9" stroke-linejoin="round"/>
<polyline points="63.5,118.1 65.4,118.0 67.2,118.2 69.1,118.2 71.0,117.8 72.9,118.1 74.8,118.2 76.6,117.6 78.5,118.2 80.4,118.4 82.2,118.4 84.1,118.2 86.0,117.9 87.9,117.8 89.8,117.7 91.6,117.5 93.5,117.5 95.4,117.8 97.2,117.6 99.1,117.8 101.0,118.1 102.9,117.8 104.8,118.0 106.6,118.0 108.5,117.4 110.4,117.7 112.2,118.1 114.1,118.0 116.0,117.3 117.9,118.0 119.8,117.7 121.6,117.7 123.5,117.8 125.4,117.7 127.2,118.0 129.1,118.0 131.0,117.9 132.9,118.0 134.8,117.7 136.6,117.4 138.5,118.1 140.4,117.7 142.2,118.1 144.1,118.0 146.0,117.9 147.9,117.8 149.8,118.0 151.6,118.6 153.5,117.4 155.4,117.9 157.2,118.0 159.1,117.6 161.0,118.0 162.9,118.2 164.8,117.6 166.6,117.7 168.5,118.0 170.4,117.5 172.2,117.7 174.1,118.1 176.0,117.3 177.9,117.7 179.8,118.1 181.6,117.6 183.5,117.7 185.4,117.4 187.2,118.1 189.1,117.4 191.0,117.4 192.9,117.5 194.8,117.5 196.6,117.3 198.5,117.5 200.4,117.6 202.2,117.9 204.1,117.4 206.0,117.4 207.9,117.6 209.8,117.6 211.6,117.4" fill="none" stroke="#b4b4b4" stroke-width="0.9" stroke-linejoin="round"/>
<polyline points="35.4,100.6 37.2,101.2 39.1,102.9 41.0,103.1 42.9,102.6 44.8,102.5 46.6,102.6 48.5,102.5 50.4,102.7 52.2,102.8 54.1,102.9 56.0,102.7 57.9,102.8 59.8,102.4 61.6,102.5 63.5,103.0 65.4,102.5 67.2,102.7 69.1,102.4 71.0,102.3 72.9,102.6 74.8,103.2 76.6,102.6 78.5,103.1 80.4,102.3 82.2,102.9 84.1,102.8 86.0,102.3 87.9,103.2 89.8,102.8 91.6,103.0 93.5,102.9 95.4,103.0 97.2,102.6 99.1,102.9 101.0,102.7 102.9,102.6 104.8,103.2 106.6,102.4 108.5,102.9 110.4,103.2 112.2,103.0 114.1,102.6 116.0,102.6 117.9,103.0 119.8,102.8 121.6,102.8 123.5,102.6 125.4,102.9 127.2,102.6 129.1,103.1 131.0,103.1 132.9,102.7 134.8,102.7 136.6,102.9 138.5,102.7 140.4,102.8 142.2,102.7 144.1,102.6 146.0,102.8 147.9,102.7 149.8,103.0 151.6,103.1 153.5,103.5 155.4,102.8 157.2,102.9 159.1,102.8 161.0,103.4 162.9,103.1 164.8,103.1 166.6,103.4 168.5,102.7 170.4,102.7 172.2,103.3 174.1,102.9 176.0,102.6 177.9,103.3 179.8,102.8 181.6,102.6 183.5,102.6 185.4,103.3 187.2,103.3 189.1,103.0 191.0,102.7 192.9,103.3 194.8,103.2 196.6,103.3 198.5,102.8 200.4,103.2 202.2,102.9 204.1,102.9 206.0,102.8 207.9,103.0 209.8,103.0 211.6,102.8" fill="none" stroke="#7c7c7c" stroke-width="1.0" stroke-linejoin="round"/>
<polyline points="35.4,77.0 37.2,72.0 39.1,73.2 41.0,73.7 42.9,73.0 44.8,72.8 46.6,73.4 48.5,74.1 50.4,73.9 52.2,73.1 54.1,74.4 56.0,73.2 57.9,73.4 59.8,73.4 61.6,73.2 63.5,73.8 65.4,73.5 67.2,72.6 69.1,73.6 71.0,73.5 72.9,73.9 74.8,73.5 76.6,72.9 78.5,72.6 80.4,72.8 82.2,72.8 84.1,72.8 86.0,72.8 87.9,72.5 89.8,72.9 91.6,72.4 93.5,72.9 95.4,73.6 97.2,73.5 99.1,73.0 101.0,73.1 102.9,73.5 104.8,73.3 106.6,72.9 108.5,72.8 110.4,72.6 112.2,73.3 114.1,72.8 116.0,72.5 117.9,72.8 119.8,72.2 121.6,73.2 123.5,73.0 125.4,72.9 127.2,73.2 129.1,73.0 131.0,72.9 132.9,73.1 134.8,73.3 136.6,73.2 138.5,73.1 140.4,73.7 142.2,73.0 144.1,73.6 146.0,73.2 147.9,73.6 149.8,73.1 151.6,73.3 153.5,73.2 155.4,73.4 157.2,73.1 159.1,72.5 161.0,73.9 162.9,72.9 164.8,73.1 166.6,73.3 168.5,73.7 170.4,72.5 172.2,73.1 174.1,72.8 176.0,73.4 177.9,73.5 179.8,72.8 181.6,72.9 183.5,73.4 185.4,73.3 187.2,73.0 189.1,73.6 191.0,73.6 192.9,73.3 194.8,72.9 196.6,72.9 198.5,73.2 200.4,72.7 202.2,73.4 204.1,73.5 206.0,72.4 207.9,73.5 209.8,73.1 211.6,73.1" fill="none" stroke="#5e5e5e" stroke-width="1.1" stroke-linejoin="round"/>
<polyline points="35.4,144.4 37.2,145.2 39.1,145.8 41.0,146.6 42.9,144.7 44.8,146.7 46.6,143.6 48.5,145.4 50.4,145.4 52.2,145.3 54.1,145.9 56.0,143.6 57.9,144.3 59.8,142.2 61.6,146.5 63.5,136.3 65.4,139.1 67.2,138.1 69.1,140.9 71.0,137.7 72.9,141.0 74.8,138.5 76.6,138.0 78.5,138.0 80.4,137.4 82.2,137.3 84.1,137.6 86.0,139.9 87.9,138.3 89.8,139.4 91.6,138.3 93.5,136.3 95.4,138.0 97.2,141.5 99.1,137.4 101.0,137.1 102.9,138.4 104.8,136.0 106.6,140.8 108.5,139.8 110.4,137.7 112.2,143.3 114.1,143.8 116.0,137.6 117.9,139.5 119.8,135.4 121.6,136.6 123.5,137.1 125.4,137.0 127.2,139.9 129.1,140.6 131.0,136.3 132.9,137.7 134.8,141.0 136.6,139.8 138.5,137.1 140.4,136.7 142.2,138.6 144.1,139.5 146.0,136.4 147.9,136.9 149.8,138.4 151.6,137.6 153.5,137.7 155.4,136.0 157.2,139.0 159.1,139.6 161.0,139.9 162.9,138.3 164.8,138.4 166.6,143.1 168.5,140.0 170.4,138.8 172.2,139.8 174.1,137.5 176.0,138.9 177.9,136.8 179.8,138.1 181.6,139.2 183.5,138.5 185.4,137.5 187.2,139.3 189.1,139.0 191.0,138.4 192.9,134.7 194.8,138.3 196.6,136.5 198.5,139.1 200.4,137.8 202.2,138.4 204.1,138.5 206.0,138.5 207.9,138.1 209.8,140.4 211.6,137.4" fill="none" stroke="#e04848" stroke-width="0.8" stroke-linejoin="round"/>
<polyline points="35.4,148.1 37.2,151.1 39.1,148.0 41.0,153.5 42.9,188.3 44.8,164.3 46.6,165.0 48.5,151.5 50.4,188.3 52.2,149.5 54.1,156.6 56.0,156.1 57.9,160.9 59.8,156.9 61.6,158.4 63.5,149.7 65.4,149.9 67.2,151.6 69.1,150.0 71.0,146.1 72.9,149.3 74.8,146.4 76.6,148.9 78.5,155.2 80.4,143.7 82.2,148.0 84.1,143.8 86.0,146.2 87.9,153.4 89.8,146.2 91.6,148.5 93.5,156.2 95.4,150.5 97.2,152.2 99.1,144.5 101.0,146.0 102.9,157.6 104.8,150.9 106.6,147.1 108.5,150.9 110.4,154.6 112.2,145.6 114.1,158.5 116.0,143.8 117.9,144.8 119.8,148.7 121.6,160.4 123.5,167.7 125.4,152.2 127.2,149.2 129.1,152.1 131.0,151.0 132.9,150.3 134.8,152.6 136.6,147.1 138.5,143.9 140.4,148.4 142.2,153.8 144.1,153.6 146.0,152.0 147.9,149.5 149.8,149.1 151.6,154.9 153.5,143.0 155.4,156.3 157.2,149.6 159.1,147.9 161.0,149.4 162.9,149.7 164.8,153.8 166.6,146.1 168.5,149.0 170.4,153.7 172.2,148.9 174.1,146.4 176.0,151.9 177.9,148.0 179.8,153.2 181.6,158.6 183.5,153.0 185.4,145.0 187.2,155.3 189.1,146.2 191.0,164.9 192.9,145.7 194.8,152.0 196.6,148.6 198.5,149.0 200.4,151.0 202.2,149.7 204.1,145.3 206.0,149.9 207.9,151.2 209.8,154.1 211.6,143.7" fill="none" stroke="#f08048" stroke-width="0.8" stroke-linejoin="round"/>
<polyline points="35.4,155.1 37.2,165.9 39.1,159.8 41.0,153.5 42.9,164.1 44.8,172.3 46.6,168.1 48.5,150.0 50.4,147.7 52.2,154.1 54.1,153.5 56.0,148.3 57.9,188.3 59.8,164.7 61.6,169.8 63.5,156.2 65.4,156.1 67.2,154.4 69.1,159.1 71.0,154.7 72.9,155.7 74.8,156.1 76.6,155.5 78.5,153.7 80.4,158.2 82.2,154.7 84.1,155.6 86.0,154.8 87.9,151.8 89.8,158.3 91.6,155.4 93.5,156.1 95.4,155.6 97.2,154.1 99.1,154.5 101.0,156.1 102.9,154.4 104.8,153.4 106.6,155.1 108.5,157.0 110.4,153.5 112.2,155.7 114.1,160.8 116.0,156.7 117.9,156.7 119.8,151.0 121.6,153.8 123.5,155.5 125.4,156.0 127.2,154.9 129.1,154.7 131.0,153.4 132.9,158.5 134.8,155.9 136.6,156.3 138.5,154.4 140.4,157.5 142.2,156.2 144.1,159.0 146.0,150.4 147.9,155.9 149.8,155.7 151.6,149.6 153.5,157.1 155.4,168.9 157.2,151.4 159.1,151.4 161.0,152.3 162.9,153.3 164.8,151.5 166.6,158.1 168.5,160.7 170.4,156.6 172.2,153.4 174.1,154.4 176.0,155.9 177.9,154.3 179.8,152.8 181.6,155.0 183.5,154.9 185.4,153.4 187.2,155.3 189.1,157.0 191.0,157.6 192.9,155.9 194.8,155.8 196.6,153.1 198.5,153.7 200.4,155.3 202.2,155.2 204.1,152.4 206.0,154.2 207.9,152.9 209.8,156.2 211.6,154.0" fill="none" stroke="#f8c070" stroke-width="0.8" stroke-linejoin="round"/>
<polyline points="35.4,139.7 37.2,143.1 39.1,152.3 41.0,151.4 42.9,147.6 44.8,156.7 46.6,145.3 48.5,156.0 50.4,150.7 52.2,158.9 54.1,150.5 56.0,146.9 57.9,146.7 59.8,150.8 61.6,165.7 63.5,153.3 65.4,152.5 67.2,150.9 69.1,152.5 71.0,151.2 72.9,151.8 74.8,153.0 76.6,150.1 78.5,151.0 80.4,151.9 82.2,150.9 84.1,149.2 86.0,151.5 87.9,153.2 89.8,150.5 91.6,154.6 93.5,151.5 95.4,150.0 97.2,151.0 99.1,151.3 101.0,152.8 102.9,153.0 104.8,151.3 106.6,153.3 108.5,148.8 110.4,151.5 112.2,149.6 114.1,149.5 116.0,151.2 117.9,149.7 119.8,150.6 121.6,150.9 123.5,151.4 125.4,151.9 127.2,150.7 129.1,151.5 131.0,153.4 132.9,151.0 134.8,151.6 136.6,153.7 138.5,150.8 140.4,152.8 142.2,153.0 144.1,150.6 146.0,154.9 147.9,147.8 149.8,153.1 151.6,148.3 153.5,153.8 155.4,152.3 157.2,153.9 159.1,153.0 161.0,152.5 162.9,151.1 164.8,153.0 166.6,150.6 168.5,152.6 170.4,149.2 172.2,151.4 174.1,151.9 176.0,151.8 177.9,150.8 179.8,154.1 181.6,150.7 183.5,152.9 185.4,151.3 187.2,151.0 189.1,153.8 191.0,152.3 192.9,152.8 194.8,152.2 196.6,149.6 198.5,148.8 200.4,148.5 202.2,151.9 204.1,152.4 206.0,151.9 207.9,151.5 209.8,150.1 211.6,150.3" fill="none" stroke="#f0cc40" stroke-width="0.8" stroke-linejoin="round"/>
<polyline points="35.4,152.1 37.2,148.7 39.1,152.9 41.0,151.7 42.9,155.3 44.8,149.6 46.6,151.3 48.5,153.4 50.4,148.0 52.2,150.7 54.1,142.3 56.0,146.6 57.9,138.8 59.8,151.3 61.6,148.7 63.5,153.3 65.4,152.4 67.2,151.8 69.1,152.7 71.0,152.0 72.9,153.1 74.8,151.7 76.6,153.7 78.5,150.9 80.4,152.4 82.2,153.3 84.1,154.6 86.0,153.0 87.9,150.0 89.8,152.1 91.6,153.9 93.5,153.2 95.4,154.8 97.2,151.3 99.1,154.0 101.0,153.0 102.9,152.0 104.8,152.9 106.6,155.3 108.5,152.2 110.4,151.7 112.2,154.4 114.1,152.3 116.0,153.3 117.9,153.4 119.8,153.9 121.6,149.6 123.5,152.8 125.4,154.4 127.2,151.5 129.1,153.5 131.0,151.8 132.9,153.2 134.8,155.1 136.6,152.6 138.5,153.5 140.4,150.2 142.2,151.6 144.1,154.2 146.0,153.1 147.9,153.6 149.8,155.4 151.6,153.0 153.5,154.3 155.4,154.4 157.2,152.2 159.1,152.9 161.0,154.2 162.9,151.7 164.8,153.0 166.6,149.6 168.5,155.1 170.4,152.8 172.2,153.9 174.1,153.8 176.0,152.9 177.9,152.1 179.8,154.6 181.6,152.3 183.5,151.7 185.4,152.7 187.2,153.4 189.1,152.7 191.0,154.2 192.9,152.2 194.8,151.8 196.6,152.3 198.5,153.1 200.4,156.1 202.2,152.2 204.1,153.2 206.0,150.8 207.9,155.0 209.8,151.3 211.6,151.0" fill="none" stroke="#e4ee58" stroke-width="0.8" stroke-linejoin="round"/>
<polyline points="35.4,158.1 37.2,148.4 39.1,156.6 41.0,152.6 42.9,149.8 44.8,154.3 46.6,145.8 48.5,152.2 50.4,145.2 52.2,147.0 54.1,149.7 56.0,139.1 57.9,152.6 59.8,154.2 61.6,147.4 63.5,153.9 65.4,153.5 67.2,153.7 69.1,154.2 71.0,151.8 72.9,153.9 74.8,152.4 76.6,152.2 78.5,152.5 80.4,153.0 82.2,154.6 84.1,154.5 86.0,155.2 87.9,155.1 89.8,158.0 91.6,154.9 93.5,154.0 95.4,155.8 97.2,153.4 99.1,149.7 101.0,153.7 102.9,153.9 104.8,153.1 106.6,152.8 108.5,154.0 110.4,154.0 112.2,154.4 114.1,155.9 116.0,153.7 117.9,152.4 119.8,154.0 121.6,155.9 123.5,152.5 125.4,154.3 127.2,153.7 129.1,154.2 131.0,152.8 132.9,153.6 134.8,155.7 136.6,152.3 138.5,152.8 140.4,153.3 142.2,156.3 144.1,154.0 146.0,155.5 147.9,157.1 149.8,153.4 151.6,154.7 153.5,153.4 155.4,154.1 157.2,152.4 159.1,154.6 161.0,153.0 162.9,155.6 164.8,151.7 166.6,153.2 168.5,153.1 170.4,153.5 172.2,152.8 174.1,151.1 176.0,153.9 177.9,153.6 179.8,153.7 181.6,154.7 183.5,155.6 185.4,153.3 187.2,152.6 189.1,155.1 191.0,153.8 192.9,155.1 194.8,152.7 196.6,153.1 198.5,156.0 200.4,151.9 202.2,155.5 204.1,152.9 206.0,151.9 207.9,153.6 209.8,151.9 211.6,155.8" fill="none" stroke="#a8e868" stroke-width="0.8" stroke-linejoin="round"/>
<polyline points="35.4,146.3 37.2,150.0 39.1,151.0 41.0,159.0 42.9,140.4 44.8,157.7 46.6,148.8 48.5,146.9 50.4,156.8 52.2,151.3 54.1,147.5 56.0,143.1 57.9,151.3 59.8,143.3 61.6,152.6 63.5,155.2 65.4,156.3 67.2,134.5 69.1,155.4 71.0,154.6 72.9,152.7 74.8,154.7 76.6,154.4 78.5,153.4 80.4,142.5 82.2,154.9 84.1,155.1 86.0,155.8 87.9,154.0 89.8,153.9 91.6,156.9 93.5,155.2 95.4,132.6 97.2,154.2 99.1,153.6 101.0,153.9 102.9,152.6 104.8,151.9 106.6,155.5 108.5,156.8 110.4,154.9 112.2,153.5 114.1,150.5 116.0,158.1 117.9,153.7 119.8,153.7 121.6,153.0 123.5,153.2 125.4,155.5 127.2,156.2 129.1,153.9 131.0,153.1 132.9,158.5 134.8,155.1 136.6,153.6 138.5,154.2 140.4,153.8 142.2,153.8 144.1,155.8 146.0,154.6 147.9,154.2 149.8,155.6 151.6,152.6 153.5,156.4 155.4,155.0 157.2,150.4 159.1,154.2 161.0,154.2 162.9,154.1 164.8,156.5 166.6,154.5 168.5,156.2 170.4,156.2 172.2,152.5 174.1,154.4 176.0,154.5 177.9,155.7 179.8,153.3 181.6,154.7 183.5,151.8 185.4,154.0 187.2,150.4 189.1,154.8 191.0,154.9 192.9,154.7 194.8,153.3 196.6,155.8 198.5,154.1 200.4,154.0 202.2,152.8 204.1,156.2 206.0,150.0 207.9,151.6 209.8,150.8 211.6,154.2" fill="none" stroke="#80ec98" stroke-width="0.8" stroke-linejoin="round"/>
<polyline points="35.4,119.0 37.2,154.0 39.1,150.7 41.0,157.6 42.9,148.1 44.8,144.9 46.6,159.7 48.5,144.9 50.4,152.3 52.2,155.6 54.1,156.6 56.0,150.4 57.9,160.9 59.8,139.3 61.6,151.6 63.5,161.3 65.4,161.6 67.2,161.5 69.1,161.6 71.0,161.7 72.9,161.6 74.8,162.4 76.6,162.2 78.5,161.1 80.4,161.4 82.2,161.9 84.1,161.9 86.0,161.9 87.9,161.9 89.8,161.3 91.6,162.4 93.5,161.6 95.4,162.0 97.2,161.4 99.1,161.6 101.0,162.2 102.9,162.0 104.8,162.5 106.6,161.5 108.5,161.9 110.4,161.7 112.2,161.0 114.1,161.9 116.0,161.2 117.9,162.1 119.8,160.8 121.6,162.0 123.5,161.7 125.4,161.7 127.2,161.8 129.1,161.9 131.0,161.1 132.9,162.2 134.8,161.1 136.6,161.2 138.5,161.8 140.4,162.9 142.2,161.7 144.1,162.2 146.0,162.3 147.9,162.5 149.8,162.0 151.6,161.6 153.5,161.9 155.4,161.7 157.2,161.6 159.1,161.7 161.0,161.4 162.9,162.1 164.8,161.4 166.6,162.4 168.5,162.0 170.4,161.5 172.2,161.7 174.1,160.9 176.0,163.1 177.9,161.4 179.8,161.6 181.6,162.2 183.5,162.0 185.4,161.2 187.2,161.0 189.1,162.1 191.0,162.0 192.9,161.8 194.8,161.5 196.6,161.5 198.5,160.5 200.4,161.3 202.2,161.9 204.1,161.8 206.0,161.8 207.9,161.5 209.8,161.9 211.6,162.1" fill="none" stroke="#70e0dc" stroke-width="0.8" stroke-linejoin="round"/>
<polyline points="35.4,123.7 37.2,166.2 39.1,166.3 41.0,170.0 42.9,172.2 44.8,167.7 46.6,170.9 48.5,174.5 50.4,188.3 52.2,180.3 54.1,174.3 56.0,174.5 57.9,167.0 59.8,161.6 61.6,174.3 63.5,176.9 65.4,180.3 67.2,179.8 69.1,180.6 71.0,178.7 72.9,180.3 74.8,173.2 76.6,181.2 78.5,179.9 80.4,179.5 82.2,183.8 84.1,182.1 86.0,179.3 87.9,177.7 89.8,188.3 91.6,180.8 93.5,181.2 95.4,178.3 97.2,177.7 99.1,177.6 101.0,180.3 102.9,180.8 104.8,181.7 106.6,182.5 108.5,181.2 110.4,179.3 112.2,179.8 114.1,179.6 116.0,181.2 117.9,180.4 119.8,180.5 121.6,178.6 123.5,179.9 125.4,181.4 127.2,188.3 129.1,179.8 131.0,179.4 132.9,177.8 134.8,179.1 136.6,179.4 138.5,180.2 140.4,179.7 142.2,180.3 144.1,180.8 146.0,179.7 147.9,177.9 149.8,176.4 151.6,179.9 153.5,179.6 155.4,180.3 157.2,179.3 159.1,179.9 161.0,181.9 162.9,180.8 164.8,179.1 166.6,176.0 168.5,177.1 170.4,179.4 172.2,178.0 174.1,179.4 176.0,180.2 177.9,181.9 179.8,178.2 181.6,179.2 183.5,181.6 185.4,178.5 187.2,178.8 189.1,178.9 191.0,178.0 192.9,178.7 194.8,180.9 196.6,177.2 198.5,181.7 200.4,181.0 202.2,178.9 204.1,178.7 206.0,179.8 207.9,179.3 209.8,178.6 211.6,180.9" fill="none" stroke="#70c4f8" stroke-width="0.8" stroke-linejoin="round"/>
<polyline points="35.4,126.0 37.2,151.9 39.1,188.3 41.0,152.6 42.9,154.1 44.8,154.8 46.6,158.6 48.5,143.2 50.4,145.9 52.2,154.0 54.1,150.6 56.0,148.9 57.9,157.4 59.8,151.0 61.6,147.7 63.5,158.6 65.4,160.9 67.2,159.7 69.1,160.2 71.0,160.9 72.9,158.9 74.8,157.9 76.6,159.4 78.5,160.8 80.4,159.1 82.2,159.0 84.1,156.5 86.0,157.1 87.9,132.2 89.8,157.6 91.6,159.5 93.5,160.7 95.4,158.8 97.2,158.9 99.1,160.0 101.0,159.0 102.9,159.3 104.8,159.9 106.6,157.6 108.5,159.7 110.4,158.2 112.2,156.7 114.1,156.7 116.0,156.7 117.9,147.4 119.8,158.2 121.6,158.9 123.5,160.1 125.4,159.1 127.2,156.1 129.1,159.7 131.0,159.1 132.9,157.3 134.8,159.6 136.6,160.0 138.5,157.9 140.4,157.9 142.2,160.4 144.1,158.7 146.0,159.9 147.9,155.5 149.8,157.9 151.6,158.8 153.5,157.8 155.4,159.0 157.2,157.4 159.1,162.1 161.0,157.5 162.9,159.6 164.8,159.3 166.6,155.8 168.5,155.7 170.4,157.2 172.2,157.6 174.1,158.5 176.0,157.8 177.9,159.9 179.8,157.5 181.6,157.8 183.5,159.4 185.4,159.9 187.2,158.9 189.1,157.1 191.0,160.2 192.9,160.0 194.8,161.7 196.6,159.5 198.5,157.0 200.4,160.7 202.2,157.0 204.1,158.0 206.0,158.9 207.9,159.1 209.8,157.6 211.6,159.4" fill="none" stroke="#5c9cf0" stroke-width="0.8" stroke-linejoin="round"/>
<polyline points="35.4,152.2 37.2,149.7 39.1,151.1 41.0,152.1 42.9,150.8 44.8,150.7 46.6,151.0 48.5,150.6 50.4,149.9 52.2,149.8 54.1,153.1 56.0,150.7 57.9,150.6 59.8,150.6 61.6,150.1 63.5,149.5 65.4,149.4 67.2,149.3 69.1,150.8 71.0,150.4 72.9,149.9 74.8,148.9 76.6,150.0 78.5,149.2 80.4,149.6 82.2,150.0 84.1,149.8 86.0,149.7 87.9,150.0 89.8,150.1 91.6,149.8 93.5,149.8 95.4,149.2 97.2,149.7 99.1,150.0 101.0,148.8 102.9,149.8 104.8,149.9 106.6,149.6 108.5,150.3 110.4,150.6 112.2,150.0 114.1,149.2 116.0,150.1 117.9,149.5 119.8,150.2 121.6,150.0 123.5,149.8 125.4,150.1 127.2,149.8 129.1,150.0 131.0,149.2 132.9,149.6 134.8,149.9 136.6,149.3 138.5,149.5 140.4,149.9 142.2,149.8 144.1,149.7 146.0,149.9 147.9,149.2 149.8,149.8 151.6,149.3 153.5,149.7 155.4,150.0 157.2,150.0 159.1,149.2 161.0,150.0 162.9,149.4 164.8,149.7 166.6,150.2 168.5,150.3 170.4,150.0 172.2,149.8 174.1,149.7 176.0,149.9 177.9,149.1 179.8,149.6 181.6,149.6 183.5,149.6 185.4,149.6 187.2,149.2 189.1,150.2 191.0,149.5 192.9,149.7 194.8,149.8 196.6,149.2 198.5,149.7 200.4,149.8 202.2,150.5 204.1,149.2 206.0,149.7 207.9,149.2 209.8,150.4 211.6,149.8" fill="none" stroke="#4a5ce6" stroke-width="0.8" stroke-linejoin="round"/>
<polyline points="35.4,161.8 37.2,159.8 39.1,153.5 41.0,157.6 42.9,160.5 44.8,160.8 46.6,157.1 48.5,160.0 50.4,157.2 52.2,161.6 54.1,155.8 56.0,155.6 57.9,161.8 59.8,160.7 61.6,156.6 63.5,159.6 65.4,159.8 67.2,159.6 69.1,158.8 71.0,158.7 72.9,159.4 74.8,159.5 76.6,158.3 78.5,159.1 80.4,159.9 82.2,159.2 84.1,158.7 86.0,158.7 87.9,158.2 89.8,159.1 91.6,159.3 93.5,159.4 95.4,158.6 97.2,158.8 99.1,158.9 101.0,158.6 102.9,159.2 104.8,158.9 106.6,158.9 108.5,159.2 110.4,158.4 112.2,159.0 114.1,159.0 116.0,158.6 117.9,159.1 119.8,159.6 121.6,158.3 123.5,160.0 125.4,159.1 127.2,158.4 129.1,159.2 131.0,158.7 132.9,159.0 134.8,158.5 136.6,159.7 138.5,158.9 140.4,158.0 142.2,159.1 144.1,158.7 146.0,158.8 147.9,158.0 149.8,159.5 151.6,159.3 153.5,159.0 155.4,158.9 157.2,158.9 159.1,158.2 161.0,159.2 162.9,159.6 164.8,159.2 166.6,159.3 168.5,158.5 170.4,158.8 172.2,158.2 174.1,159.4 176.0,159.4 177.9,158.9 179.8,158.9 181.6,158.2 183.5,158.9 185.4,158.4 187.2,159.3 189.1,159.0 191.0,159.4 192.9,159.3 194.8,158.9 196.6,158.9 198.5,159.0 200.4,158.7 202.2,159.9 204.1,158.8 206.0,158.3 207.9,159.8 209.8,158.6 211.6,158.7" fill="none" stroke="#6a44e0" stroke-width="0.8" stroke-linejoin="round"/>
<polyline points="35.4,157.6 37.2,146.6 39.1,151.6 41.0,152.3 42.9,152.9 44.8,151.9 46.6,188.3 48.5,149.9 50.4,148.0 52.2,151.6 54.1,188.3 56.0,152.5 57.9,149.4 59.8,150.1 61.6,147.0 63.5,150.1 65.4,150.2 67.2,150.0 69.1,150.1 71.0,150.3 72.9,150.7 74.8,150.0 76.6,150.6 78.5,149.9 80.4,150.6 82.2,150.6 84.1,150.6 86.0,150.5 87.9,150.9 89.8,151.1 91.6,149.6 93.5,150.8 95.4,151.4 97.2,151.0 99.1,150.6 101.0,151.1 102.9,150.3 104.8,150.4 106.6,150.5 108.5,149.5 110.4,149.7 112.2,150.9 114.1,150.7 116.0,150.4 117.9,151.2 119.8,149.6 121.6,150.4 123.5,149.5 125.4,150.9 127.2,150.8 129.1,150.4 131.0,150.1 132.9,150.4 134.8,149.6 136.6,150.0 138.5,150.3 140.4,150.6 142.2,150.7 144.1,149.5 146.0,148.6 147.9,150.9 149.8,149.2 151.6,151.1 153.5,150.7 155.4,150.9 157.2,150.1 159.1,151.2 161.0,150.0 162.9,150.1 164.8,150.1 166.6,150.9 168.5,151.3 170.4,149.4 172.2,149.9 174.1,150.1 176.0,150.2 177.9,150.7 179.8,150.2 181.6,150.3 183.5,150.6 185.4,150.8 187.2,150.0 189.1,150.4 191.0,150.6 192.9,151.2 194.8,150.9 196.6,150.0 198.5,150.4 200.4,150.2 202.2,150.5 204.1,150.6 206.0,149.9 207.9,150.5 209.8,151.0 211.6,150.1" fill="none" stroke="#a860f0" stroke-width="0.8" stroke-linejoin="round"/>
<polyline points="35.4,174.0 37.2,173.8 39.1,173.2 41.0,174.3 42.9,175.4 44.8,174.5 46.6,175.2 48.5,173.3 50.4,174.2 52.2,173.4 54.1,175.7 56.0,174.8 57.9,173.8 59.8,176.4 61.6,175.1 63.5,175.3 65.4,174.8 67.2,173.3 69.1,174.5 71.0,175.0 72.9,174.2 74.8,173.7 76.6,174.8 78.5,173.9 80.4,174.9 82.2,173.9 84.1,173.6 86.0,174.3 87.9,174.2 89.8,174.6 91.6,174.7 93.5,175.4 95.4,173.9 97.2,174.6 99.1,174.6 101.0,174.6 102.9,173.8 104.8,173.7 106.6,174.3 108.5,174.1 110.4,174.1 112.2,175.3 114.1,174.9 116.0,175.1 117.9,173.8 119.8,175.1 121.6,176.7 123.5,173.1 125.4,174.9 127.2,174.6 129.1,175.0 131.0,173.1 132.9,174.4 134.8,175.2 136.6,174.8 138.5,174.9 140.4,174.4 142.2,174.2 144.1,174.8 146.0,175.2 147.9,173.8 149.8,175.3 151.6,175.3 153.5,173.9 155.4,174.6 157.2,173.7 159.1,174.5 161.0,175.3 162.9,174.1 164.8,174.3 166.6,174.1 168.5,175.4 170.4,173.0 172.2,174.0 174.1,174.8 176.0,173.8 177.9,173.4 179.8,173.9 181.6,174.6 183.5,174.1 185.4,173.9 187.2,174.4 189.1,174.4 191.0,173.7 192.9,174.5 194.8,174.4 196.6,175.2 198.5,173.7 200.4,174.4 202.2,175.0 204.1,175.0 206.0,173.8 207.9,173.8 209.8,175.3 211.6,173.4" fill="none" stroke="#e048e4" stroke-width="0.8" stroke-linejoin="round"/>
<polyline points="35.4,166.3 37.2,165.3 39.1,165.6 41.0,163.8 42.9,166.0 44.8,164.9 46.6,164.4 48.5,165.0 50.4,163.0 52.2,166.5 54.1,165.6 56.0,166.0 57.9,167.2 59.8,165.8 61.6,165.1 63.5,165.8 65.4,164.8 67.2,165.7 69.1,166.4 71.0,166.2 72.9,165.4 74.8,165.6 76.6,165.9 78.5,166.0 80.4,166.1 82.2,166.2 84.1,165.4 86.0,165.9 87.9,166.7 89.8,165.2 91.6,165.7 93.5,165.6 95.4,165.2 97.2,165.4 99.1,165.6 101.0,165.2 102.9,165.8 104.8,165.6 106.6,164.8 108.5,164.9 110.4,166.1 112.2,166.1 114.1,166.5 116.0,165.3 117.9,166.5 119.8,166.1 121.6,165.2 123.5,165.5 125.4,165.2 127.2,165.7 129.1,165.3 131.0,166.0 132.9,165.1 134.8,166.1 136.6,165.6 138.5,165.5 140.4,165.4 142.2,165.3 144.1,165.2 146.0,166.0 147.9,166.4 149.8,166.0 151.6,164.8 153.5,165.7 155.4,165.2 157.2,165.1 159.1,165.9 161.0,166.1 162.9,165.3 164.8,165.9 166.6,166.5 168.5,165.5 170.4,165.2 172.2,166.2 174.1,165.6 176.0,166.0 177.9,166.0 179.8,165.4 181.6,165.7 183.5,165.0 185.4,165.8 187.2,165.6 189.1,165.0 191.0,164.9 192.9,165.4 194.8,165.7 196.6,165.6 198.5,166.0 200.4,165.2 202.2,165.5 204.1,165.3 206.0,165.2 207.9,165.1 209.8,165.9 211.6,166.1" fill="none" stroke="#e03868" stroke-width="0.8" stroke-linejoin="round"/>
<polyline points="276.7,154.9 276.7,188.3" fill="none" stroke="#d8d8d8" stroke-width="0.9" stroke-linejoin="round"/>
<polyline points="278.6,154.9 278.6,188.3" fill="none" stroke="#d8d8d8" stroke-width="0.9" stroke-linejoin="round"/>
<polyline points="293.5,154.9 293.5,188.3" fill="none" stroke="#d8d8d8" stroke-width="0.9" stroke-linejoin="round"/>
<polyline points="267.4,132.7 269.2,139.6 271.1,146.6 273.0,157.7 274.8,148.0 276.7,149.4 278.6,168.8 280.4,149.4 282.3,149.9 284.2,151.0 286.0,152.1 287.9,152.7 289.8,153.5 291.7,154.4 293.5,154.9 295.4,157.3 297.3,157.0 299.1,158.2 301.0,158.2 302.9,157.6 304.7,156.8 306.6,157.6 308.5,158.4 310.3,158.2 312.2,157.9 314.1,157.3 315.9,157.9 317.8,158.1 319.7,158.0 321.5,157.8 323.4,158.4 325.3,158.0 327.1,157.8 329.0,157.1 330.9,158.0 332.7,157.5 334.6,158.6 336.5,157.6 338.4,158.0 340.2,158.4 342.1,158.1 344.0,157.6 345.8,158.3 347.7,157.6 349.6,157.4 351.4,157.3 353.3,157.3 355.2,158.9 357.0,158.1 358.9,158.6 360.8,157.8 362.6,158.3 364.5,158.2 366.4,158.1 368.2,158.7 370.1,158.3 372.0,158.8 373.8,157.3 375.7,158.7 377.6,158.4 379.4,159.4 381.3,159.3 383.2,159.0 385.1,158.1 386.9,158.1 388.8,158.4 390.7,158.9 392.5,157.6 394.4,159.2 396.3,159.1 398.1,158.4 400.0,159.2 401.9,158.5 403.7,158.2 405.6,158.8 407.5,158.5 409.3,158.7 411.2,159.1 413.1,160.5 414.9,159.5 416.8,158.8 418.7,159.7 420.5,159.2 422.4,158.8 424.3,158.2 426.1,159.7 428.0,159.2 429.9,158.8 431.8,158.7 433.6,159.7 435.5,158.0 437.4,159.5 439.2,158.4 441.1,159.2 443.0,158.8" fill="none" stroke="#444444" stroke-width="1.1" stroke-linejoin="round"/>
<polyline points="278.6,163.6 280.4,166.3 282.3,160.5 284.2,167.8 286.0,167.9 287.9,166.8 289.8,168.2 291.7,168.0 293.5,165.0 295.4,168.0 297.3,166.7 299.1,169.8 301.0,173.9 302.9,174.1 304.7,173.8 306.6,176.4 308.5,173.4 310.3,174.4 312.2,172.7 314.1,176.5 315.9,175.9 317.8,175.0 319.7,175.3 321.5,179.0 323.4,174.6 325.3,178.5 327.1,175.5 329.0,178.2 330.9,178.6 332.7,180.1 334.6,178.4 336.5,174.3 338.4,179.5 340.2,176.0 342.1,176.5 344.0,179.5 345.8,177.2 347.7,176.9 349.6,179.7 351.4,180.2 353.3,177.8 355.2,179.1 357.0,176.5 358.9,179.3 360.8,181.8 362.6,180.2 364.5,182.0 366.4,179.2 368.2,179.4 370.1,181.1 372.0,181.9 373.8,179.4 375.7,181.3 377.6,179.1 379.4,182.4 381.3,181.4 383.2,181.9 385.1,182.7 386.9,177.6 388.8,179.1 390.7,182.4 392.5,180.6 394.4,184.1 396.3,180.2 398.1,180.5 400.0,182.4 401.9,182.5 403.7,181.9 405.6,181.7 407.5,182.8 409.3,183.5 411.2,182.9 413.1,183.2 414.9,181.8 416.8,182.8 418.7,182.7 420.5,185.0 422.4,183.7 424.3,183.8 426.1,184.1 428.0,183.8 429.9,184.1 431.8,185.6 433.6,183.0 435.5,183.2 437.4,184.8 439.2,183.8 441.1,185.5 443.0,186.0" fill="none" stroke="#666666" stroke-width="1.0" stroke-linejoin="round"/>
<polyline points="295.4,165.8 297.3,170.5 299.1,168.6 301.0,169.5 302.9,170.4 304.7,170.1 306.6,170.1 308.5,169.7 310.3,169.1 312.2,168.3 314.1,169.5 315.9,168.4 317.8,169.4 319.7,170.0 321.5,170.6 323.4,171.8 325.3,172.8 327.1,170.8 329.0,171.1 330.9,170.5 332.7,170.7 334.6,173.0 336.5,172.4 338.4,173.1 340.2,170.3 342.1,172.0 344.0,171.8 345.8,173.4 347.7,174.0 349.6,173.2 351.4,172.7 353.3,172.0 355.2,174.9 357.0,172.5 358.9,174.3 360.8,173.9 362.6,173.6 364.5,173.8 366.4,172.7 368.2,172.1 370.1,172.9 372.0,174.2 373.8,172.9 375.7,173.0 377.6,172.4 379.4,173.2 381.3,175.9 383.2,174.7 385.1,174.3 386.9,172.5 388.8,174.0 390.7,172.6 392.5,173.5 394.4,175.6 396.3,174.0 398.1,173.3 400.0,173.6 401.9,176.2 403.7,173.6 405.6,175.1 407.5,177.2 409.3,175.1 411.2,177.1 413.1,176.2 414.9,172.5 416.8,171.4 418.7,173.7 420.5,174.9 422.4,173.2 424.3,175.7 426.1,177.8 428.0,180.2 429.9,175.9 431.8,180.6 433.6,181.8 435.5,179.1 437.4,178.4 439.2,180.0 441.1,177.7 443.0,179.6" fill="none" stroke="#a8a8a8" stroke-width="0.9" stroke-linejoin="round"/>
<polyline points="267.4,88.1 269.2,49.2 271.1,49.2 273.0,127.1 274.8,49.2 276.7,110.4 278.6,128.8 280.4,49.2 282.3,121.5 284.2,139.4 286.0,124.9 287.9,131.8 289.8,138.4 291.7,128.4 293.5,129.9 295.4,141.8 297.3,144.3 299.1,140.2 301.0,140.2 302.9,140.1 304.7,138.9 306.6,144.2 308.5,138.7 310.3,143.9 312.2,143.5 314.1,140.3 315.9,142.1 317.8,142.4 319.7,141.9 321.5,150.8 323.4,137.5 325.3,145.3 327.1,139.6 329.0,146.8 330.9,134.8 332.7,142.5 334.6,146.0 336.5,144.7 338.4,150.8 340.2,147.6 342.1,144.3 344.0,149.0 345.8,144.9 347.7,147.7 349.6,147.1 351.4,149.5 353.3,137.2 355.2,142.1 357.0,142.0 358.9,150.8 360.8,146.4 362.6,123.3 364.5,146.8 366.4,145.2 368.2,141.8 370.1,149.6 372.0,146.8 373.8,142.8 375.7,143.9 377.6,140.4 379.4,150.3 381.3,141.4 383.2,151.3 385.1,145.3 386.9,147.7 388.8,124.9 390.7,145.8 392.5,147.7 394.4,149.2 396.3,147.5 398.1,150.9 400.0,148.2 401.9,149.1 403.7,145.6 405.6,149.8 407.5,145.5 409.3,152.9 411.2,151.4 413.1,157.0 414.9,158.8 416.8,155.5 418.7,157.0 420.5,161.8 422.4,158.5 424.3,160.4 426.1,157.9 428.0,161.7 429.9,155.8 431.8,157.0 433.6,161.9 435.5,159.2 437.4,159.8 439.2,159.0 441.1,162.6 443.0,164.1" fill="none" stroke="#e04848" stroke-width="0.8" stroke-linejoin="round"/>
<polyline points="267.4,116.6 269.2,119.5 271.1,109.2 273.0,94.3 274.8,117.2 276.7,49.2 278.6,82.6 280.4,104.8 282.3,109.2 284.2,124.1 286.0,124.5 287.9,124.4 289.8,127.7 291.7,136.2 293.5,144.7 295.4,142.2 297.3,153.3 299.1,142.1 301.0,147.1 302.9,142.1 304.7,143.7 306.6,144.1 308.5,141.1 310.3,141.5 312.2,141.7 314.1,142.2 315.9,141.3 317.8,140.0 319.7,139.2 321.5,144.2 323.4,137.5 325.3,149.6 327.1,152.7 329.0,144.8 330.9,141.9 332.7,138.3 334.6,140.8 336.5,147.6 338.4,141.9 340.2,148.0 342.1,143.6 344.0,147.9 345.8,145.3 347.7,146.4 349.6,143.1 351.4,153.0 353.3,142.2 355.2,144.3 357.0,145.6 358.9,150.3 360.8,149.6 362.6,138.5 364.5,154.2 366.4,143.0 368.2,149.3 370.1,140.2 372.0,146.2 373.8,148.7 375.7,150.7 377.6,149.3 379.4,146.7 381.3,157.5 383.2,154.6 385.1,147.5 386.9,150.7 388.8,129.8 390.7,152.7 392.5,132.3 394.4,142.7 396.3,145.0 398.1,146.6 400.0,151.6 401.9,148.8 403.7,153.0 405.6,156.0 407.5,149.9 409.3,151.1 411.2,151.7 413.1,156.0 414.9,154.0 416.8,153.8 418.7,158.4 420.5,156.9 422.4,151.8 424.3,154.4 426.1,155.4 428.0,152.9 429.9,159.8 431.8,153.3 433.6,152.2 435.5,153.7 437.4,158.4 439.2,150.5 441.1,164.9 443.0,155.3" fill="none" stroke="#f08048" stroke-width="0.8" stroke-linejoin="round"/>
<polyline points="267.4,111.7 269.2,107.2 271.1,118.6 273.0,95.7 274.8,112.4 276.7,117.1 278.6,99.3 280.4,125.9 282.3,104.4 284.2,116.2 286.0,124.7 287.9,122.3 289.8,132.5 291.7,119.0 293.5,126.9 295.4,129.6 297.3,134.3 299.1,136.7 301.0,128.0 302.9,138.3 304.7,134.4 306.6,134.6 308.5,126.8 310.3,130.6 312.2,130.8 314.1,128.1 315.9,128.4 317.8,138.6 319.7,136.7 321.5,133.7 323.4,131.8 325.3,132.0 327.1,126.4 329.0,137.6 330.9,134.4 332.7,133.9 334.6,113.6 336.5,138.0 338.4,139.9 340.2,136.7 342.1,146.8 344.0,138.6 345.8,136.4 347.7,127.4 349.6,143.1 351.4,136.5 353.3,136.1 355.2,137.3 357.0,137.8 358.9,135.0 360.8,132.6 362.6,128.6 364.5,125.4 366.4,135.2 368.2,142.1 370.1,132.7 372.0,140.6 373.8,138.2 375.7,138.4 377.6,135.3 379.4,139.0 381.3,138.3 383.2,142.2 385.1,140.8 386.9,141.8 388.8,145.0 390.7,132.9 392.5,149.9 394.4,128.7 396.3,133.7 398.1,139.2 400.0,144.2 401.9,146.7 403.7,144.9 405.6,135.4 407.5,129.9 409.3,146.4 411.2,131.3 413.1,152.9 414.9,143.4 416.8,147.0 418.7,148.1 420.5,151.0 422.4,154.7 424.3,148.7 426.1,132.9 428.0,149.2 429.9,123.9 431.8,147.5 433.6,154.8 435.5,139.1 437.4,151.5 439.2,143.1 441.1,147.6 443.0,150.4" fill="none" stroke="#f0a040" stroke-width="0.8" stroke-linejoin="round"/>
<polyline points="267.4,113.5 269.2,111.1 271.1,117.3 273.0,113.8 274.8,49.2 276.7,49.2 278.6,90.9 280.4,139.8 282.3,124.8 284.2,127.6 286.0,146.4 287.9,136.4 289.8,142.9 291.7,125.2 293.5,120.1 295.4,159.2 297.3,151.4 299.1,130.7 301.0,149.2 302.9,154.6 304.7,156.8 306.6,148.5 308.5,154.7 310.3,147.4 312.2,152.0 314.1,157.8 315.9,145.7 317.8,145.2 319.7,149.4 321.5,151.6 323.4,131.3 325.3,146.6 327.1,158.3 329.0,148.0 330.9,150.9 332.7,151.3 334.6,148.3 336.5,156.4 338.4,155.0 340.2,151.7 342.1,159.9 344.0,154.1 345.8,152.8 347.7,156.8 349.6,150.8 351.4,150.4 353.3,158.8 355.2,151.9 357.0,149.0 358.9,157.3 360.8,152.7 362.6,160.7 364.5,155.9 366.4,154.8 368.2,150.6 370.1,156.1 372.0,151.0 373.8,158.0 375.7,158.4 377.6,156.6 379.4,153.7 381.3,149.3 383.2,151.9 385.1,152.3 386.9,154.5 388.8,153.8 390.7,161.0 392.5,164.1 394.4,157.8 396.3,159.2 398.1,158.0 400.0,150.7 401.9,144.7 403.7,161.9 405.6,154.6 407.5,158.1 409.3,153.9 411.2,158.1 413.1,152.8 414.9,152.3 416.8,157.0 418.7,156.0 420.5,152.4 422.4,150.8 424.3,157.4 426.1,152.9 428.0,152.5 429.9,149.5 431.8,149.4 433.6,148.8 435.5,153.5 437.4,154.7 439.2,148.9 441.1,154.3 443.0,147.7" fill="none" stroke="#f0cc40" stroke-width="0.8" stroke-linejoin="round"/>
<polyline points="267.4,108.2 269.2,94.2 271.1,92.8 273.0,114.3 274.8,98.7 276.7,96.9 278.6,103.4 280.4,118.0 282.3,127.0 284.2,128.8 286.0,123.5 287.9,122.5 289.8,125.6 291.7,126.7 293.5,129.7 295.4,151.2 297.3,149.8 299.1,148.0 301.0,144.4 302.9,149.9 304.7,98.7 306.6,146.1 308.5,148.3 310.3,150.2 312.2,149.8 314.1,150.8 315.9,146.8 317.8,140.8 319.7,147.9 321.5,149.9 323.4,146.4 325.3,147.4 327.1,146.9 329.0,144.5 330.9,147.7 332.7,148.6 334.6,152.1 336.5,154.0 338.4,152.2 340.2,153.2 342.1,146.7 344.0,155.0 345.8,156.1 347.7,149.5 349.6,154.6 351.4,154.2 353.3,145.3 355.2,152.8 357.0,154.6 358.9,159.2 360.8,161.1 362.6,149.4 364.5,156.1 366.4,150.2 368.2,154.9 370.1,156.0 372.0,153.9 373.8,148.9 375.7,149.7 377.6,151.2 379.4,151.7 381.3,157.4 383.2,161.1 385.1,152.6 386.9,150.5 388.8,155.2 390.7,153.1 392.5,156.4 394.4,155.7 396.3,146.3 398.1,157.0 400.0,157.5 401.9,142.7 403.7,148.5 405.6,160.5 407.5,157.4 409.3,159.2 411.2,151.8 413.1,158.9 414.9,159.9 416.8,154.3 418.7,163.0 420.5,155.9 422.4,157.4 424.3,157.8 426.1,153.4 428.0,157.4 429.9,155.5 431.8,155.8 433.6,159.4 435.5,154.0 437.4,155.4 439.2,158.1 441.1,160.1 443.0,157.3" fill="none" stroke="#e4ee58" stroke-width="0.8" stroke-linejoin="round"/>
<polyline points="267.4,92.2 269.2,89.4 271.1,108.5 273.0,92.4 274.8,112.5 276.7,93.4 278.6,112.4 280.4,114.1 282.3,98.0 284.2,121.9 286.0,129.6 287.9,117.6 289.8,129.1 291.7,143.4 293.5,120.7 295.4,155.4 297.3,144.3 299.1,136.9 301.0,144.1 302.9,147.0 304.7,146.0 306.6,141.3 308.5,146.4 310.3,158.3 312.2,143.9 314.1,153.3 315.9,142.1 317.8,148.8 319.7,153.5 321.5,144.2 323.4,147.4 325.3,151.9 327.1,149.0 329.0,146.9 330.9,144.0 332.7,146.9 334.6,143.0 336.5,149.9 338.4,156.9 340.2,153.9 342.1,153.1 344.0,148.3 345.8,148.2 347.7,150.5 349.6,152.4 351.4,154.2 353.3,150.5 355.2,151.2 357.0,146.8 358.9,156.2 360.8,155.0 362.6,155.1 364.5,152.6 366.4,152.9 368.2,159.1 370.1,146.6 372.0,154.0 373.8,152.5 375.7,154.0 377.6,152.3 379.4,133.9 381.3,155.8 383.2,145.2 385.1,154.2 386.9,155.2 388.8,154.2 390.7,159.6 392.5,153.8 394.4,142.0 396.3,152.3 398.1,158.7 400.0,150.3 401.9,153.3 403.7,152.2 405.6,153.3 407.5,157.1 409.3,155.2 411.2,156.4 413.1,158.1 414.9,156.3 416.8,158.3 418.7,157.0 420.5,150.9 422.4,151.8 424.3,157.0 426.1,160.2 428.0,153.0 429.9,155.1 431.8,150.5 433.6,156.4 435.5,158.1 437.4,156.4 439.2,162.1 441.1,154.3 443.0,153.1" fill="none" stroke="#a8e868" stroke-width="0.8" stroke-linejoin="round"/>
<polyline points="267.4,117.5 269.2,130.3 271.1,127.7 273.0,115.0 274.8,123.6 276.7,117.2 278.6,139.2 280.4,128.5 282.3,124.6 284.2,137.1 286.0,124.4 287.9,131.2 289.8,115.6 291.7,132.2 293.5,130.0 295.4,145.0 297.3,148.0 299.1,147.9 301.0,139.8 302.9,149.0 304.7,139.0 306.6,143.2 308.5,138.2 310.3,139.3 312.2,143.0 314.1,148.6 315.9,143.4 317.8,145.9 319.7,147.0 321.5,145.2 323.4,144.6 325.3,153.0 327.1,151.8 329.0,146.6 330.9,124.8 332.7,145.5 334.6,142.9 336.5,144.2 338.4,151.5 340.2,152.5 342.1,149.4 344.0,119.6 345.8,147.7 347.7,149.9 349.6,150.3 351.4,147.4 353.3,151.0 355.2,144.3 357.0,152.5 358.9,147.0 360.8,154.9 362.6,149.5 364.5,151.0 366.4,152.8 368.2,153.4 370.1,146.6 372.0,149.3 373.8,150.7 375.7,148.4 377.6,149.2 379.4,152.4 381.3,150.6 383.2,142.1 385.1,148.4 386.9,147.1 388.8,131.3 390.7,147.9 392.5,152.6 394.4,152.1 396.3,152.0 398.1,152.0 400.0,155.2 401.9,154.9 403.7,152.8 405.6,150.9 407.5,143.8 409.3,154.9 411.2,149.4 413.1,157.0 414.9,162.0 416.8,157.7 418.7,152.0 420.5,157.9 422.4,156.7 424.3,153.7 426.1,160.0 428.0,164.1 429.9,157.7 431.8,158.4 433.6,157.1 435.5,152.5 437.4,157.2 439.2,159.0 441.1,149.9 443.0,155.9" fill="none" stroke="#80ec98" stroke-width="0.8" stroke-linejoin="round"/>
<polyline points="267.4,114.6 269.2,100.9 271.1,93.2 273.0,108.4 274.8,105.5 276.7,98.4 278.6,96.1 280.4,114.6 282.3,106.3 284.2,121.6 286.0,125.8 287.9,141.6 289.8,114.9 291.7,118.6 293.5,114.8 295.4,146.1 297.3,139.0 299.1,138.8 301.0,137.5 302.9,143.0 304.7,142.3 306.6,135.8 308.5,143.1 310.3,138.4 312.2,143.7 314.1,140.2 315.9,139.0 317.8,147.0 319.7,140.6 321.5,140.6 323.4,138.5 325.3,142.0 327.1,144.6 329.0,146.8 330.9,141.4 332.7,138.4 334.6,143.4 336.5,144.1 338.4,141.4 340.2,140.8 342.1,147.6 344.0,141.4 345.8,147.1 347.7,146.1 349.6,147.9 351.4,146.8 353.3,142.7 355.2,144.0 357.0,145.6 358.9,126.1 360.8,143.7 362.6,137.9 364.5,145.0 366.4,144.7 368.2,144.3 370.1,147.5 372.0,147.4 373.8,120.4 375.7,150.0 377.6,144.4 379.4,148.1 381.3,148.8 383.2,142.5 385.1,146.9 386.9,149.8 388.8,147.1 390.7,144.6 392.5,146.2 394.4,123.8 396.3,147.0 398.1,150.9 400.0,143.8 401.9,151.0 403.7,148.0 405.6,151.8 407.5,152.7 409.3,144.6 411.2,149.4 413.1,154.8 414.9,154.4 416.8,158.0 418.7,160.9 420.5,162.4 422.4,155.0 424.3,160.1 426.1,157.8 428.0,158.2 429.9,165.5 431.8,152.6 433.6,158.7 435.5,160.3 437.4,157.1 439.2,158.6 441.1,159.2 443.0,158.4" fill="none" stroke="#70e0dc" stroke-width="0.8" stroke-linejoin="round"/>
<polyline points="267.4,102.1 269.2,117.3 271.1,85.4 273.0,116.0 274.8,119.8 276.7,115.6 278.6,125.3 280.4,127.4 282.3,112.5 284.2,129.9 286.0,126.7 287.9,135.5 289.8,145.2 291.7,138.2 293.5,144.3 295.4,141.1 297.3,143.6 299.1,148.0 301.0,147.6 302.9,149.6 304.7,141.2 306.6,149.7 308.5,142.2 310.3,147.2 312.2,146.6 314.1,141.5 315.9,152.7 317.8,149.9 319.7,149.4 321.5,145.8 323.4,131.2 325.3,125.9 327.1,150.7 329.0,145.0 330.9,148.3 332.7,150.6 334.6,146.7 336.5,147.9 338.4,148.5 340.2,151.0 342.1,148.7 344.0,158.1 345.8,153.1 347.7,151.8 349.6,146.9 351.4,151.9 353.3,145.8 355.2,145.6 357.0,150.9 358.9,149.8 360.8,156.4 362.6,149.1 364.5,149.9 366.4,153.3 368.2,159.9 370.1,145.0 372.0,152.7 373.8,151.6 375.7,148.9 377.6,155.2 379.4,154.5 381.3,158.3 383.2,149.8 385.1,150.8 386.9,148.8 388.8,151.6 390.7,130.2 392.5,154.5 394.4,157.8 396.3,155.8 398.1,151.9 400.0,156.5 401.9,154.1 403.7,151.8 405.6,157.1 407.5,157.2 409.3,152.9 411.2,148.9 413.1,152.5 414.9,156.3 416.8,148.9 418.7,147.4 420.5,152.5 422.4,153.0 424.3,151.0 426.1,150.4 428.0,148.5 429.9,151.3 431.8,144.9 433.6,148.3 435.5,154.2 437.4,150.8 439.2,152.7 441.1,147.8 443.0,152.0" fill="none" stroke="#70c4f8" stroke-width="0.8" stroke-linejoin="round"/>
<polyline points="267.4,123.8 269.2,139.5 271.1,118.7 273.0,115.8 274.8,114.3 276.7,114.6 278.6,137.9 280.4,131.2 282.3,131.1 284.2,134.4 286.0,135.6 287.9,112.7 289.8,132.2 291.7,132.7 293.5,135.0 295.4,145.9 297.3,151.4 299.1,147.3 301.0,146.6 302.9,148.6 304.7,153.7 306.6,149.3 308.5,153.7 310.3,148.2 312.2,154.4 314.1,154.1 315.9,147.4 317.8,150.1 319.7,152.4 321.5,151.1 323.4,148.3 325.3,150.0 327.1,153.0 329.0,145.5 330.9,147.9 332.7,153.0 334.6,152.2 336.5,154.8 338.4,151.2 340.2,149.2 342.1,149.9 344.0,153.7 345.8,159.5 347.7,156.0 349.6,156.9 351.4,138.6 353.3,149.8 355.2,155.2 357.0,159.4 358.9,150.9 360.8,155.0 362.6,156.6 364.5,151.4 366.4,158.4 368.2,151.6 370.1,157.8 372.0,152.5 373.8,155.7 375.7,156.0 377.6,154.3 379.4,155.4 381.3,151.4 383.2,150.7 385.1,158.2 386.9,156.2 388.8,158.6 390.7,151.5 392.5,140.1 394.4,157.3 396.3,155.0 398.1,162.2 400.0,154.5 401.9,161.1 403.7,135.2 405.6,154.7 407.5,162.7 409.3,156.6 411.2,156.0 413.1,162.5 414.9,162.3 416.8,161.3 418.7,156.4 420.5,162.5 422.4,163.6 424.3,166.7 426.1,164.1 428.0,165.4 429.9,159.5 431.8,156.8 433.6,161.3 435.5,161.0 437.4,164.1 439.2,160.9 441.1,160.7 443.0,155.9" fill="none" stroke="#5c9cf0" stroke-width="0.8" stroke-linejoin="round"/>
<polyline points="267.4,122.9 269.2,130.4 271.1,119.5 273.0,131.2 274.8,121.7 276.7,129.2 278.6,112.6 280.4,141.3 282.3,134.8 284.2,136.6 286.0,121.4 287.9,118.4 289.8,113.7 291.7,148.6 293.5,138.1 295.4,159.8 297.3,159.9 299.1,162.2 301.0,162.4 302.9,160.2 304.7,159.0 306.6,159.8 308.5,160.4 310.3,162.5 312.2,163.5 314.1,162.2 315.9,161.2 317.8,164.7 319.7,163.1 321.5,163.5 323.4,163.9 325.3,163.1 327.1,164.6 329.0,162.1 330.9,163.0 332.7,162.7 334.6,162.8 336.5,162.5 338.4,163.0 340.2,162.8 342.1,163.4 344.0,163.4 345.8,164.0 347.7,165.5 349.6,163.2 351.4,164.3 353.3,165.1 355.2,164.7 357.0,162.9 358.9,166.0 360.8,164.9 362.6,164.9 364.5,164.4 366.4,167.2 368.2,164.9 370.1,164.7 372.0,166.4 373.8,166.2 375.7,167.4 377.6,166.5 379.4,168.8 381.3,166.5 383.2,169.1 385.1,168.6 386.9,167.7 388.8,167.4 390.7,166.4 392.5,169.4 394.4,167.7 396.3,169.7 398.1,167.9 400.0,167.8 401.9,167.3 403.7,168.1 405.6,168.7 407.5,168.1 409.3,170.0 411.2,169.6 413.1,165.2 414.9,164.7 416.8,162.8 418.7,163.4 420.5,164.2 422.4,163.3 424.3,165.2 426.1,166.4 428.0,164.3 429.9,165.0 431.8,163.4 433.6,165.1 435.5,165.0 437.4,164.5 439.2,167.7 441.1,163.3 443.0,163.0" fill="none" stroke="#4a5ce6" stroke-width="0.8" stroke-linejoin="round"/>
<polyline points="267.4,111.9 269.2,113.8 271.1,117.5 273.0,103.7 274.8,118.7 276.7,114.5 278.6,120.2 280.4,128.0 282.3,140.5 284.2,132.5 286.0,129.0 287.9,125.6 289.8,116.4 291.7,124.6 293.5,135.9 295.4,160.6 297.3,158.3 299.1,160.6 301.0,160.8 302.9,165.6 304.7,163.5 306.6,163.4 308.5,163.0 310.3,162.8 312.2,161.7 314.1,162.1 315.9,161.5 317.8,162.1 319.7,163.5 321.5,162.2 323.4,164.5 325.3,163.7 327.1,164.0 329.0,167.1 330.9,162.6 332.7,162.8 334.6,163.4 336.5,164.4 338.4,161.8 340.2,164.0 342.1,164.7 344.0,164.1 345.8,161.6 347.7,163.6 349.6,165.3 351.4,165.7 353.3,163.6 355.2,165.7 357.0,165.4 358.9,167.1 360.8,164.2 362.6,165.6 364.5,165.9 366.4,163.2 368.2,166.9 370.1,166.0 372.0,166.2 373.8,166.9 375.7,165.6 377.6,165.6 379.4,166.4 381.3,166.9 383.2,165.7 385.1,164.6 386.9,165.1 388.8,168.4 390.7,168.5 392.5,169.0 394.4,169.4 396.3,167.7 398.1,166.0 400.0,168.0 401.9,167.4 403.7,168.5 405.6,168.7 407.5,170.1 409.3,168.4 411.2,170.2 413.1,167.2 414.9,166.0 416.8,166.4 418.7,166.3 420.5,164.2 422.4,167.7 424.3,166.1 426.1,164.7 428.0,167.9 429.9,165.8 431.8,166.2 433.6,165.7 435.5,165.0 437.4,165.5 439.2,166.1 441.1,166.7 443.0,166.4" fill="none" stroke="#6a44e0" stroke-width="0.8" stroke-linejoin="round"/>
<polyline points="267.4,92.0 269.2,102.4 271.1,109.5 273.0,97.5 274.8,98.6 276.7,112.5 278.6,106.3 280.4,104.9 282.3,99.0 284.2,116.6 286.0,129.1 287.9,123.2 289.8,139.8 291.7,131.3 293.5,127.5 295.4,163.5 297.3,162.7 299.1,163.6 301.0,162.0 302.9,165.0 304.7,163.0 306.6,163.6 308.5,163.2 310.3,161.8 312.2,165.6 314.1,163.7 315.9,164.6 317.8,164.6 319.7,163.2 321.5,166.9 323.4,164.7 325.3,166.4 327.1,165.1 329.0,166.9 330.9,168.4 332.7,163.9 334.6,165.5 336.5,165.0 338.4,166.5 340.2,166.0 342.1,165.1 344.0,165.8 345.8,165.1 347.7,167.9 349.6,165.4 351.4,164.8 353.3,164.7 355.2,168.0 357.0,168.2 358.9,167.7 360.8,167.9 362.6,168.2 364.5,166.0 366.4,168.8 368.2,165.9 370.1,168.6 372.0,167.3 373.8,169.8 375.7,169.2 377.6,168.2 379.4,168.4 381.3,169.9 383.2,167.0 385.1,170.6 386.9,167.4 388.8,171.2 390.7,169.5 392.5,168.0 394.4,169.8 396.3,171.0 398.1,169.9 400.0,171.8 401.9,169.7 403.7,170.3 405.6,169.9 407.5,170.4 409.3,173.3 411.2,172.1 413.1,167.9 414.9,166.4 416.8,170.0 418.7,169.0 420.5,167.5 422.4,167.8 424.3,168.8 426.1,167.6 428.0,168.5 429.9,168.1 431.8,167.8 433.6,168.4 435.5,168.0 437.4,166.7 439.2,167.3 441.1,168.6 443.0,167.0" fill="none" stroke="#a860f0" stroke-width="0.8" stroke-linejoin="round"/>
<polyline points="267.4,86.8 269.2,92.6 271.1,104.8 273.0,104.9 274.8,103.2 276.7,102.0 278.6,98.8 280.4,100.4 282.3,108.9 284.2,124.2 286.0,121.7 287.9,138.2 289.8,133.1 291.7,131.1 293.5,124.9 295.4,164.8 297.3,163.5 299.1,166.5 301.0,164.6 302.9,164.7 304.7,164.3 306.6,164.9 308.5,164.5 310.3,165.1 312.2,167.1 314.1,166.7 315.9,166.1 317.8,166.8 319.7,165.4 321.5,167.4 323.4,167.5 325.3,166.5 327.1,165.5 329.0,167.4 330.9,166.9 332.7,167.4 334.6,167.8 336.5,167.0 338.4,167.0 340.2,167.7 342.1,167.3 344.0,169.2 345.8,169.0 347.7,165.6 349.6,170.1 351.4,170.2 353.3,170.5 355.2,169.3 357.0,169.2 358.9,169.5 360.8,170.2 362.6,170.5 364.5,170.7 366.4,169.1 368.2,170.1 370.1,171.2 372.0,167.9 373.8,171.8 375.7,172.6 377.6,170.8 379.4,171.2 381.3,169.8 383.2,172.3 385.1,171.0 386.9,171.7 388.8,170.3 390.7,170.2 392.5,171.2 394.4,169.5 396.3,173.8 398.1,172.5 400.0,173.0 401.9,171.2 403.7,175.3 405.6,170.8 407.5,173.1 409.3,173.3 411.2,172.6 413.1,169.7 414.9,169.4 416.8,169.6 418.7,170.3 420.5,168.4 422.4,168.6 424.3,171.3 426.1,171.1 428.0,171.0 429.9,168.5 431.8,170.6 433.6,170.5 435.5,170.5 437.4,169.5 439.2,166.7 441.1,168.4 443.0,170.0" fill="none" stroke="#e048e4" stroke-width="0.8" stroke-linejoin="round"/>
<polyline points="267.4,129.2 269.2,111.2 271.1,120.4 273.0,114.8 274.8,131.3 276.7,134.4 278.6,134.9 280.4,132.3 282.3,137.3 284.2,114.4 286.0,117.5 287.9,130.2 289.8,119.4 291.7,121.7 293.5,138.1 295.4,158.8" fill="none" stroke="#b82848" stroke-width="0.8" stroke-linejoin="round"/>
<polyline points="295.4,158.8 297.3,159.0 299.1,158.7 301.0,159.8 302.9,158.5 304.7,158.5 306.6,159.2 308.5,159.9 310.3,159.2 312.2,159.0 314.1,158.8 315.9,160.2 317.8,158.9 319.7,159.0 321.5,158.9 323.4,158.8 325.3,159.4 327.1,158.9 329.0,159.5 330.9,158.6 332.7,159.4 334.6,159.0 336.5,159.7 338.4,158.9 340.2,159.2 342.1,159.2 344.0,159.0 345.8,159.0 347.7,159.3 349.6,158.4 351.4,158.8 353.3,158.8 355.2,158.9 357.0,159.5 358.9,159.0 360.8,159.1 362.6,159.3 364.5,158.9 366.4,159.5 368.2,157.8 370.1,158.8 372.0,159.3 373.8,159.2 375.7,159.2 377.6,159.0 379.4,158.8 381.3,159.4 383.2,159.8 385.1,159.1 386.9,159.5 388.8,159.1 390.7,159.0 392.5,159.3 394.4,158.9 396.3,159.0 398.1,159.4 400.0,158.9 401.9,159.1 403.7,159.1 405.6,159.3 407.5,158.6 409.3,159.0 411.2,158.8 413.1,159.6 414.9,160.0 416.8,160.2 418.7,159.6 420.5,160.1 422.4,159.5 424.3,159.1 426.1,160.4 428.0,160.3 429.9,160.4 431.8,159.7 433.6,159.6 435.5,159.5 437.4,160.5 439.2,160.0 441.1,160.4 443.0,160.0" fill="none" stroke="#b82848" stroke-width="1.2" stroke-linejoin="round"/>
<polyline points="35.2,295.0 37.0,296.4 38.9,297.8 40.8,296.4 42.7,352.3 44.5,310.4 46.4,352.3 48.3,302.0 50.2,352.3 52.0,318.8 53.9,352.3 55.8,352.3 57.7,352.3 59.5,352.3 61.4,352.3 63.3,352.3 65.2,290.4 67.0,294.1 68.9,304.7 70.8,292.6 72.7,298.7 74.5,290.7 76.4,288.4 78.3,292.9 80.2,298.6 82.0,292.6 83.9,286.1 85.8,296.3 87.7,291.7 89.5,289.8 91.4,292.3 93.3,273.4 95.2,291.6 97.0,292.3 98.9,288.2 100.8,293.1 102.7,294.9 104.5,288.9 106.4,295.4 108.3,294.2 110.2,294.3 112.0,291.3 113.9,294.7 115.8,295.3 117.7,298.0 119.5,297.7 121.4,292.0 123.3,295.3 125.2,296.7 127.0,292.8 128.9,294.1 130.8,291.2 132.7,293.2 134.6,319.0 136.4,291.1 138.3,290.5 140.2,291.6 142.1,292.6 143.9,292.2 145.8,299.6 147.7,294.9 149.6,292.2 151.4,290.7 153.3,296.3 155.2,296.1 157.1,293.7 158.9,295.0 160.8,291.7 162.7,293.3 164.6,296.8 166.4,291.9 168.3,288.2 170.2,293.4 172.1,299.2 173.9,291.7 175.8,294.5 177.7,289.9 179.6,296.6 181.4,292.0 183.3,291.5 185.2,292.2 187.1,291.9 188.9,291.4 190.8,291.3 192.7,291.2 194.6,291.8 196.4,292.4 198.3,291.1 200.2,290.7 202.1,291.8 203.9,290.9 205.8,291.4 207.7,291.6 209.6,291.3 211.4,291.5" fill="none" stroke="#5a5a5a" stroke-width="0.85" stroke-linejoin="round"/>
<polyline points="35.2,276.9 37.0,272.3 38.9,276.3 40.8,225.7 42.7,212.6 44.5,261.4 46.4,212.6 48.3,250.3 50.2,254.3 52.0,212.6 53.9,212.6 55.8,212.6 57.7,352.3 59.5,212.6 61.4,352.3 63.3,324.4 65.2,294.7 67.0,303.7 68.9,304.4 70.8,306.3 72.7,298.7 74.5,296.0 76.4,309.5 78.3,289.7 80.2,292.1 82.0,311.6 83.9,303.4 85.8,303.8 87.7,294.9 89.5,294.5 91.4,300.7 93.3,295.0 95.2,295.9 97.0,298.2 98.9,320.0 100.8,298.4 102.7,300.0 104.5,299.6 106.4,296.6 108.3,304.7 110.2,295.1 112.0,300.4 113.9,300.3 115.8,303.4 117.7,293.3 119.5,304.1 121.4,312.7 123.3,303.6 125.2,300.4 127.0,299.5 128.9,302.4 130.8,298.7 132.7,298.7 134.6,301.3 136.4,305.6 138.3,293.9 140.2,298.9 142.1,300.1 143.9,304.5 145.8,301.1 147.7,294.4 149.6,299.8 151.4,299.8 153.3,301.8 155.2,299.1 157.1,299.1 158.9,306.6 160.8,299.7 162.7,301.3 164.6,292.8 166.4,293.2 168.3,295.5 170.2,300.3 172.1,298.6 173.9,299.0 175.8,295.5 177.7,299.0 179.6,301.8 181.4,285.1 183.3,285.0 185.2,285.4 187.1,284.6 188.9,284.7 190.8,283.8 192.7,284.9 194.6,284.3 196.4,285.2 198.3,284.7 200.2,284.9 202.1,285.4 203.9,284.5 205.8,284.8 207.7,284.4 209.6,284.0 211.4,284.6" fill="none" stroke="#e04850" stroke-width="0.85" stroke-linejoin="round"/>
<polyline points="35.2,352.3 37.0,352.3 38.9,352.3 40.8,352.3 42.7,352.3 44.5,352.3 46.4,352.3 48.3,352.3 50.2,352.3 52.0,352.3 53.9,352.3 55.8,352.3 57.7,352.3 59.5,352.3 61.4,352.3 63.3,352.3 65.2,314.7 67.0,312.1 68.9,328.1 70.8,332.1 72.7,321.7 74.5,304.0 76.4,313.8 78.3,325.7 80.2,333.2 82.0,326.5 83.9,324.1 85.8,316.7 87.7,317.8 89.5,321.9 91.4,320.7 93.3,341.4 95.2,331.6 97.0,308.3 98.9,321.9 100.8,352.3 102.7,333.8 104.5,310.1 106.4,318.0 108.3,312.3 110.2,330.7 112.0,322.6 113.9,316.2 115.8,320.2 117.7,326.0 119.5,315.2 121.4,332.1 123.3,318.2 125.2,314.7 127.0,317.1 128.9,318.7 130.8,351.0 132.7,315.9 134.6,319.8 136.4,318.3 138.3,319.7 140.2,317.5 142.1,323.7 143.9,310.2 145.8,323.7 147.7,322.8 149.6,318.1 151.4,313.4 153.3,323.2 155.2,317.2 157.1,319.3 158.9,320.6 160.8,317.9 162.7,321.5 164.6,301.5 166.4,319.9 168.3,316.9 170.2,326.6 172.1,311.0 173.9,321.2 175.8,331.4 177.7,312.6 179.6,313.2 181.4,313.0 183.3,312.4 185.2,312.8 187.1,312.7 188.9,312.1 190.8,313.2 192.7,312.9 194.6,312.8 196.4,312.1 198.3,312.5 200.2,311.6 202.1,312.9 203.9,312.0 205.8,313.5 207.7,312.7 209.6,313.0 211.4,312.6" fill="none" stroke="#ec6838" stroke-width="0.85" stroke-linejoin="round"/>
<polyline points="35.2,263.3 37.0,279.1 38.9,271.8 40.8,212.6 42.7,212.6 44.5,352.3 46.4,262.7 48.3,329.9 50.2,352.3 52.0,281.4 53.9,352.3 55.8,338.3 57.7,230.9 59.5,238.3 61.4,226.8 63.3,212.6 65.2,303.9 67.0,297.9 68.9,301.1 70.8,303.3 72.7,305.0 74.5,304.9 76.4,323.4 78.3,303.9 80.2,304.1 82.0,280.8 83.9,308.1 85.8,301.9 87.7,320.2 89.5,310.6 91.4,305.0 93.3,298.9 95.2,301.7 97.0,295.8 98.9,314.0 100.8,302.1 102.7,304.7 104.5,307.8 106.4,298.8 108.3,297.9 110.2,302.4 112.0,307.4 113.9,302.4 115.8,307.7 117.7,309.1 119.5,298.1 121.4,300.8 123.3,299.4 125.2,307.1 127.0,309.0 128.9,299.3 130.8,302.6 132.7,311.5 134.6,304.9 136.4,299.3 138.3,302.5 140.2,296.1 142.1,306.0 143.9,308.6 145.8,297.1 147.7,310.6 149.6,300.4 151.4,304.5 153.3,304.5 155.2,306.4 157.1,310.8 158.9,283.7 160.8,298.1 162.7,307.6 164.6,307.7 166.4,314.9 168.3,305.1 170.2,313.5 172.1,303.7 173.9,294.8 175.8,304.3 177.7,309.5 179.6,307.1 181.4,303.8 183.3,302.7 185.2,302.8 187.1,303.3 188.9,302.9 190.8,303.5 192.7,303.3 194.6,303.2 196.4,303.4 198.3,302.8 200.2,302.3 202.1,302.8 203.9,303.1 205.8,304.0 207.7,303.4 209.6,303.1 211.4,303.2" fill="none" stroke="#eea860" stroke-width="0.85" stroke-linejoin="round"/>
<polyline points="35.2,255.0 37.0,271.9 38.9,252.0 40.8,281.9 42.7,212.6 44.5,253.9 46.4,212.6 48.3,212.6 50.2,212.6 52.0,212.6 53.9,255.3 55.8,212.6 57.7,269.5 59.5,212.6 61.4,231.6 63.3,212.6 65.2,303.1 67.0,304.3 68.9,301.2 70.8,302.5 72.7,301.5 74.5,279.3 76.4,303.2 78.3,301.5 80.2,297.5 82.0,297.7 83.9,295.2 85.8,322.5 87.7,304.8 89.5,303.5 91.4,297.0 93.3,302.2 95.2,311.6 97.0,298.4 98.9,298.1 100.8,301.0 102.7,305.5 104.5,307.1 106.4,307.2 108.3,302.5 110.2,304.7 112.0,302.0 113.9,300.6 115.8,300.5 117.7,302.8 119.5,303.3 121.4,288.8 123.3,297.6 125.2,306.3 127.0,303.5 128.9,304.0 130.8,303.8 132.7,305.4 134.6,301.8 136.4,303.4 138.3,306.0 140.2,306.3 142.1,308.0 143.9,307.8 145.8,302.4 147.7,309.3 149.6,305.6 151.4,304.9 153.3,302.5 155.2,298.4 157.1,304.2 158.9,301.1 160.8,300.7 162.7,303.7 164.6,302.7 166.4,302.5 168.3,301.5 170.2,301.9 172.1,302.0 173.9,299.5 175.8,307.0 177.7,305.3 179.6,302.7 181.4,303.7 183.3,304.7 185.2,304.6 187.1,304.1 188.9,304.2 190.8,304.2 192.7,304.5 194.6,304.7 196.4,304.3 198.3,303.7 200.2,304.0 202.1,303.6 203.9,304.5 205.8,304.8 207.7,304.3 209.6,304.3 211.4,303.5" fill="none" stroke="#f2cc50" stroke-width="0.85" stroke-linejoin="round"/>
<polyline points="35.2,273.6 37.0,264.5 38.9,280.6 40.8,282.8 42.7,264.0 44.5,250.2 46.4,245.1 48.3,212.6 50.2,257.4 52.0,212.6 53.9,251.0 55.8,270.2 57.7,282.6 59.5,212.6 61.4,278.3 63.3,235.4 65.2,274.7 67.0,277.6 68.9,273.4 70.8,273.9 72.7,275.5 74.5,273.7 76.4,280.7 78.3,252.2 80.2,314.3 82.0,276.6 83.9,278.4 85.8,270.8 87.7,275.9 89.5,278.5 91.4,275.7 93.3,268.7 95.2,277.8 97.0,279.7 98.9,275.6 100.8,271.3 102.7,277.5 104.5,274.4 106.4,273.6 108.3,278.6 110.2,269.8 112.0,275.2 113.9,271.3 115.8,274.6 117.7,276.2 119.5,270.2 121.4,274.3 123.3,292.4 125.2,272.0 127.0,276.6 128.9,273.0 130.8,278.5 132.7,273.1 134.6,272.3 136.4,275.9 138.3,274.9 140.2,274.3 142.1,274.3 143.9,272.5 145.8,277.0 147.7,274.1 149.6,272.7 151.4,274.7 153.3,272.8 155.2,277.3 157.1,272.9 158.9,282.1 160.8,274.2 162.7,272.2 164.6,274.5 166.4,298.9 168.3,268.6 170.2,276.3 172.1,273.5 173.9,273.8 175.8,276.5 177.7,278.5 179.6,277.5 181.4,275.6 183.3,276.2 185.2,276.3 187.1,276.3 188.9,275.2 190.8,275.8 192.7,275.3 194.6,276.6 196.4,275.5 198.3,275.5 200.2,275.9 202.1,276.0 203.9,276.1 205.8,276.6 207.7,277.0 209.6,276.7 211.4,276.4" fill="none" stroke="#dcf050" stroke-width="0.85" stroke-linejoin="round"/>
<polyline points="35.2,251.9 37.0,282.7 38.9,275.8 40.8,212.6 42.7,212.6 44.5,212.6 46.4,212.6 48.3,212.6 50.2,212.6 52.0,244.9 53.9,212.6 55.8,212.6 57.7,242.1 59.5,252.6 61.4,212.6 63.3,240.8 65.2,272.0 67.0,276.4 68.9,271.7 70.8,272.4 72.7,269.9 74.5,279.8 76.4,256.4 78.3,257.7 80.2,276.1 82.0,275.7 83.9,270.8 85.8,274.2 87.7,273.4 89.5,269.4 91.4,274.5 93.3,272.1 95.2,274.2 97.0,274.7 98.9,272.2 100.8,274.7 102.7,268.3 104.5,272.8 106.4,281.2 108.3,272.9 110.2,269.7 112.0,274.9 113.9,280.5 115.8,273.2 117.7,272.9 119.5,270.5 121.4,272.4 123.3,270.7 125.2,267.8 127.0,277.7 128.9,270.8 130.8,271.1 132.7,287.4 134.6,271.1 136.4,273.1 138.3,272.2 140.2,269.3 142.1,273.2 143.9,268.7 145.8,270.8 147.7,272.7 149.6,271.2 151.4,273.1 153.3,270.2 155.2,272.7 157.1,269.0 158.9,270.3 160.8,269.2 162.7,271.5 164.6,273.6 166.4,272.6 168.3,272.0 170.2,275.7 172.1,271.4 173.9,271.9 175.8,273.8 177.7,272.1 179.6,268.2 181.4,271.4 183.3,271.4 185.2,271.3 187.1,271.1 188.9,271.3 190.8,271.5 192.7,270.5 194.6,271.5 196.4,271.4 198.3,270.6 200.2,270.8 202.1,271.1 203.9,271.2 205.8,271.8 207.7,270.9 209.6,270.8 211.4,271.5" fill="none" stroke="#a0ee70" stroke-width="0.85" stroke-linejoin="round"/>
<polyline points="35.2,283.4 37.0,275.7 38.9,261.9 40.8,212.6 42.7,212.6 44.5,212.6 46.4,271.7 48.3,212.6 50.2,212.6 52.0,253.7 53.9,212.6 55.8,252.7 57.7,212.6 59.5,212.6 61.4,212.6 63.3,232.3 65.2,276.1 67.0,284.2 68.9,276.9 70.8,277.2 72.7,285.4 74.5,285.8 76.4,277.7 78.3,282.9 80.2,282.0 82.0,279.5 83.9,277.9 85.8,280.9 87.7,275.2 89.5,261.5 91.4,276.6 93.3,275.0 95.2,279.4 97.0,279.5 98.9,281.3 100.8,283.7 102.7,279.3 104.5,281.0 106.4,277.5 108.3,272.4 110.2,280.7 112.0,279.7 113.9,284.7 115.8,281.8 117.7,286.1 119.5,285.2 121.4,280.8 123.3,284.6 125.2,280.7 127.0,280.8 128.9,281.6 130.8,281.2 132.7,285.3 134.6,282.0 136.4,281.5 138.3,277.6 140.2,283.0 142.1,280.2 143.9,279.9 145.8,283.1 147.7,277.6 149.6,278.8 151.4,281.8 153.3,282.3 155.2,298.5 157.1,278.0 158.9,281.5 160.8,278.8 162.7,280.1 164.6,280.9 166.4,284.2 168.3,280.7 170.2,283.4 172.1,281.0 173.9,283.1 175.8,283.1 177.7,285.0 179.6,285.4 181.4,276.0 183.3,276.1 185.2,276.3 187.1,276.1 188.9,276.3 190.8,275.9 192.7,276.3 194.6,275.6 196.4,276.1 198.3,276.2 200.2,275.4 202.1,275.9 203.9,276.0 205.8,275.7 207.7,276.2 209.6,276.7 211.4,276.5" fill="none" stroke="#80e890" stroke-width="0.85" stroke-linejoin="round"/>
<polyline points="35.2,256.9 37.0,283.7 38.9,263.8 40.8,225.9 42.7,228.7 44.5,212.6 46.4,212.6 48.3,212.6 50.2,276.3 52.0,212.6 53.9,212.6 55.8,212.6 57.7,212.6 59.5,247.6 61.4,267.8 63.3,212.6 65.2,277.6 67.0,277.4 68.9,277.2 70.8,277.0 72.7,277.7 74.5,275.5 76.4,277.0 78.3,279.2 80.2,277.7 82.0,276.0 83.9,277.4 85.8,309.8 87.7,280.9 89.5,276.9 91.4,281.3 93.3,273.0 95.2,288.1 97.0,276.9 98.9,269.6 100.8,279.7 102.7,281.4 104.5,283.2 106.4,280.6 108.3,282.0 110.2,280.2 112.0,275.3 113.9,278.0 115.8,276.5 117.7,275.0 119.5,276.9 121.4,280.1 123.3,273.7 125.2,281.2 127.0,277.8 128.9,284.0 130.8,279.5 132.7,274.6 134.6,280.9 136.4,274.2 138.3,275.2 140.2,278.2 142.1,276.9 143.9,276.5 145.8,277.5 147.7,281.7 149.6,276.4 151.4,277.8 153.3,272.1 155.2,282.2 157.1,278.6 158.9,275.7 160.8,274.0 162.7,279.2 164.6,275.4 166.4,274.2 168.3,277.5 170.2,279.3 172.1,281.4 173.9,276.4 175.8,275.9 177.7,276.6 179.6,272.9 181.4,274.0 183.3,272.6 185.2,273.6 187.1,274.2 188.9,273.8 190.8,273.7 192.7,273.9 194.6,274.7 196.4,273.9 198.3,272.9 200.2,273.5 202.1,272.8 203.9,273.5 205.8,272.8 207.7,273.3 209.6,273.9 211.4,272.9" fill="none" stroke="#80e8dc" stroke-width="0.85" stroke-linejoin="round"/>
<polyline points="35.2,271.9 37.0,277.3 38.9,275.5 40.8,212.6 42.7,253.6 44.5,212.6 46.4,236.0 48.3,281.3 50.2,261.3 52.0,212.6 53.9,252.8 55.8,212.6 57.7,249.7 59.5,212.6 61.4,212.6 63.3,268.8 65.2,309.6 67.0,308.1 68.9,308.2 70.8,327.3 72.7,312.9 74.5,310.9 76.4,304.0 78.3,303.5 80.2,311.4 82.0,305.5 83.9,311.2 85.8,288.4 87.7,309.0 89.5,306.1 91.4,307.1 93.3,303.9 95.2,304.7 97.0,308.3 98.9,290.9 100.8,306.0 102.7,304.8 104.5,301.7 106.4,304.3 108.3,304.2 110.2,307.7 112.0,309.0 113.9,305.8 115.8,311.3 117.7,306.9 119.5,307.1 121.4,306.5 123.3,312.1 125.2,304.4 127.0,308.5 128.9,307.3 130.8,305.0 132.7,307.6 134.6,312.1 136.4,304.0 138.3,304.7 140.2,307.8 142.1,305.6 143.9,303.8 145.8,308.6 147.7,311.3 149.6,304.3 151.4,303.8 153.3,310.4 155.2,305.6 157.1,307.8 158.9,307.4 160.8,309.5 162.7,308.5 164.6,303.3 166.4,304.9 168.3,307.4 170.2,306.4 172.1,304.3 173.9,305.8 175.8,307.1 177.7,307.7 179.6,306.9 181.4,305.5 183.3,305.6 185.2,305.2 187.1,305.4 188.9,306.7 190.8,305.9 192.7,306.1 194.6,305.5 196.4,305.7 198.3,305.5 200.2,305.9 202.1,305.1 203.9,305.6 205.8,305.7 207.7,305.1 209.6,305.9 211.4,305.5" fill="none" stroke="#78ccf4" stroke-width="0.85" stroke-linejoin="round"/>
<polyline points="35.2,270.1 37.0,264.6 38.9,281.2 40.8,277.2 42.7,212.6 44.5,212.6 46.4,281.4 48.3,278.2 50.2,212.6 52.0,233.0 53.9,261.8 55.8,212.6 57.7,212.6 59.5,212.6 61.4,247.8 63.3,212.6 65.2,258.5 67.0,261.5 68.9,298.6 70.8,257.3 72.7,300.1 74.5,259.6 76.4,259.3 78.3,260.4 80.2,265.0 82.0,259.1 83.9,253.9 85.8,258.9 87.7,254.3 89.5,258.9 91.4,257.8 93.3,256.1 95.2,259.0 97.0,259.4 98.9,254.9 100.8,263.8 102.7,255.4 104.5,258.3 106.4,261.7 108.3,261.1 110.2,253.5 112.0,257.0 113.9,258.7 115.8,257.9 117.7,260.4 119.5,241.0 121.4,258.6 123.3,255.4 125.2,258.4 127.0,257.4 128.9,257.7 130.8,259.2 132.7,266.1 134.6,258.0 136.4,257.2 138.3,258.4 140.2,262.1 142.1,262.1 143.9,255.5 145.8,263.4 147.7,258.0 149.6,238.0 151.4,259.9 153.3,259.8 155.2,253.8 157.1,264.5 158.9,256.0 160.8,264.1 162.7,252.5 164.6,256.8 166.4,261.9 168.3,258.6 170.2,258.2 172.1,259.3 173.9,259.0 175.8,260.2 177.7,254.7 179.6,258.9 181.4,255.6 183.3,255.9 185.2,257.0 187.1,256.6 188.9,256.0 190.8,256.4 192.7,256.2 194.6,256.4 196.4,256.3 198.3,255.9 200.2,256.2 202.1,257.4 203.9,256.7 205.8,256.0 207.7,256.5 209.6,256.0 211.4,256.0" fill="none" stroke="#78acf0" stroke-width="0.85" stroke-linejoin="round"/>
<polyline points="35.2,254.7 37.0,280.8 38.9,267.9 40.8,212.6 42.7,243.3 44.5,251.4 46.4,272.1 48.3,212.6 50.2,266.9 52.0,212.6 53.9,212.6 55.8,212.6 57.7,281.3 59.5,212.6 61.4,258.1 63.3,212.6 65.2,275.7 67.0,274.2 68.9,267.5 70.8,272.2 72.7,271.2 74.5,294.0 76.4,274.2 78.3,276.0 80.2,270.6 82.0,269.0 83.9,267.5 85.8,269.1 87.7,272.3 89.5,267.2 91.4,284.0 93.3,273.2 95.2,273.1 97.0,274.0 98.9,274.6 100.8,271.7 102.7,271.5 104.5,315.9 106.4,270.9 108.3,275.3 110.2,271.2 112.0,272.3 113.9,271.8 115.8,271.7 117.7,271.8 119.5,271.4 121.4,275.0 123.3,273.2 125.2,270.6 127.0,265.8 128.9,269.9 130.8,272.1 132.7,271.1 134.6,272.0 136.4,273.4 138.3,271.4 140.2,275.8 142.1,272.6 143.9,273.6 145.8,270.4 147.7,274.4 149.6,270.2 151.4,272.7 153.3,274.1 155.2,268.1 157.1,273.5 158.9,273.6 160.8,273.6 162.7,271.8 164.6,271.3 166.4,264.6 168.3,270.8 170.2,275.4 172.1,274.1 173.9,277.7 175.8,273.7 177.7,272.5 179.6,270.4 181.4,272.6 183.3,272.0 185.2,272.1 187.1,272.0 188.9,272.0 190.8,273.0 192.7,272.6 194.6,272.4 196.4,271.9 198.3,271.7 200.2,272.9 202.1,271.4 203.9,272.4 205.8,272.0 207.7,272.1 209.6,272.5 211.4,271.9" fill="none" stroke="#5068e8" stroke-width="0.85" stroke-linejoin="round"/>
<polyline points="35.2,255.4 37.0,266.5 38.9,267.4 40.8,212.6 42.7,246.8 44.5,253.3 46.4,212.6 48.3,265.8 50.2,231.2 52.0,212.6 53.9,212.6 55.8,212.6 57.7,212.6 59.5,212.6 61.4,212.6 63.3,212.6 65.2,287.2 67.0,284.9 68.9,296.3 70.8,289.9 72.7,287.5 74.5,286.7 76.4,288.4 78.3,288.8 80.2,285.5 82.0,281.7 83.9,280.8 85.8,286.2 87.7,280.4 89.5,287.9 91.4,283.3 93.3,287.9 95.2,285.6 97.0,282.9 98.9,275.1 100.8,284.8 102.7,289.0 104.5,288.7 106.4,285.7 108.3,291.0 110.2,291.8 112.0,286.3 113.9,288.8 115.8,288.3 117.7,283.6 119.5,288.6 121.4,287.3 123.3,288.4 125.2,289.0 127.0,286.4 128.9,282.1 130.8,283.4 132.7,287.3 134.6,287.3 136.4,284.9 138.3,290.3 140.2,281.8 142.1,285.4 143.9,284.5 145.8,287.2 147.7,287.8 149.6,291.3 151.4,280.2 153.3,284.9 155.2,290.7 157.1,287.4 158.9,289.4 160.8,289.2 162.7,288.0 164.6,293.1 166.4,287.2 168.3,286.2 170.2,289.7 172.1,288.1 173.9,275.7 175.8,288.5 177.7,284.6 179.6,284.5 181.4,282.8 183.3,282.7 185.2,283.6 187.1,283.4 188.9,282.4 190.8,283.1 192.7,282.7 194.6,283.1 196.4,282.7 198.3,283.2 200.2,283.3 202.1,282.9 203.9,283.8 205.8,282.0 207.7,282.8 209.6,283.2 211.4,284.4" fill="none" stroke="#4a48e0" stroke-width="0.85" stroke-linejoin="round"/>
<polyline points="35.2,269.2 37.0,251.9 38.9,274.0 40.8,261.6 42.7,239.6 44.5,212.6 46.4,228.3 48.3,212.6 50.2,212.6 52.0,273.2 53.9,212.6 55.8,212.6 57.7,212.6 59.5,282.4 61.4,212.6 63.3,212.6 65.2,278.9 67.0,277.2 68.9,279.5 70.8,281.1 72.7,277.1 74.5,280.2 76.4,275.2 78.3,281.0 80.2,283.3 82.0,275.5 83.9,281.7 85.8,277.6 87.7,276.6 89.5,280.9 91.4,279.7 93.3,280.5 95.2,281.1 97.0,283.4 98.9,259.8 100.8,276.0 102.7,277.8 104.5,281.1 106.4,281.1 108.3,282.3 110.2,282.5 112.0,279.4 113.9,281.9 115.8,279.9 117.7,280.0 119.5,276.2 121.4,280.5 123.3,279.3 125.2,279.9 127.0,277.8 128.9,279.7 130.8,274.9 132.7,276.0 134.6,278.8 136.4,282.1 138.3,278.1 140.2,277.9 142.1,278.7 143.9,277.2 145.8,280.5 147.7,277.4 149.6,280.5 151.4,278.4 153.3,274.9 155.2,282.4 157.1,276.4 158.9,279.9 160.8,272.9 162.7,284.7 164.6,280.9 166.4,280.2 168.3,273.7 170.2,282.3 172.1,306.2 173.9,278.9 175.8,276.5 177.7,277.6 179.6,276.3 181.4,277.7 183.3,276.8 185.2,277.2 187.1,277.2 188.9,277.3 190.8,277.3 192.7,277.4 194.6,275.9 196.4,276.7 198.3,277.8 200.2,276.4 202.1,276.6 203.9,277.3 205.8,276.6 207.7,277.2 209.6,277.2 211.4,277.3" fill="none" stroke="#9850f0" stroke-width="0.85" stroke-linejoin="round"/>
<polyline points="35.2,258.3 37.0,257.7 38.9,274.0 40.8,212.6 42.7,263.1 44.5,243.5 46.4,264.0 48.3,212.6 50.2,212.6 52.0,212.6 53.9,228.7 55.8,212.6 57.7,212.6 59.5,268.2 61.4,269.4 63.3,212.6 65.2,304.6 67.0,287.5 68.9,288.1 70.8,281.5 72.7,285.6 74.5,279.5 76.4,283.6 78.3,285.0 80.2,301.7 82.0,260.1 83.9,286.4 85.8,285.4 87.7,280.8 89.5,286.6 91.4,284.6 93.3,287.0 95.2,288.4 97.0,287.3 98.9,284.3 100.8,284.5 102.7,286.8 104.5,285.9 106.4,281.7 108.3,283.9 110.2,285.8 112.0,291.3 113.9,284.7 115.8,286.7 117.7,284.3 119.5,279.5 121.4,288.3 123.3,287.4 125.2,288.0 127.0,290.4 128.9,281.8 130.8,286.0 132.7,286.0 134.6,286.3 136.4,306.2 138.3,288.0 140.2,282.4 142.1,284.1 143.9,288.3 145.8,282.6 147.7,283.2 149.6,284.1 151.4,286.1 153.3,285.9 155.2,287.7 157.1,282.8 158.9,284.2 160.8,282.7 162.7,286.3 164.6,286.6 166.4,284.0 168.3,282.6 170.2,289.7 172.1,283.6 173.9,285.7 175.8,285.2 177.7,286.4 179.6,286.2 181.4,286.6 183.3,286.9 185.2,287.1 187.1,286.6 188.9,286.5 190.8,286.5 192.7,286.4 194.6,286.4 196.4,286.8 198.3,286.5 200.2,286.4 202.1,286.0 203.9,286.9 205.8,287.0 207.7,286.7 209.6,286.9 211.4,286.6" fill="none" stroke="#e050e0" stroke-width="0.85" stroke-linejoin="round"/>
<polyline points="35.2,240.5 37.0,257.4 38.9,271.0 40.8,212.6 42.7,212.6 44.5,256.3 46.4,212.6 48.3,279.8 50.2,247.5 52.0,242.6 53.9,259.2 55.8,258.8 57.7,236.7 59.5,212.6 61.4,212.6 63.3,274.3 65.2,311.6 67.0,295.4 68.9,291.0 70.8,291.9 72.7,295.2 74.5,293.5 76.4,291.8 78.3,294.4 80.2,292.1 82.0,297.0 83.9,292.8 85.8,294.3 87.7,307.5 89.5,298.5 91.4,297.7 93.3,296.7 95.2,293.6 97.0,289.0 98.9,294.1 100.8,294.4 102.7,298.9 104.5,296.0 106.4,295.8 108.3,295.2 110.2,295.1 112.0,293.4 113.9,294.1 115.8,300.1 117.7,294.6 119.5,295.9 121.4,294.6 123.3,292.4 125.2,298.9 127.0,297.1 128.9,291.5 130.8,291.3 132.7,296.2 134.6,295.6 136.4,296.0 138.3,298.4 140.2,292.9 142.1,303.6 143.9,296.2 145.8,294.1 147.7,298.3 149.6,299.2 151.4,298.9 153.3,293.7 155.2,292.7 157.1,290.4 158.9,293.4 160.8,291.2 162.7,293.0 164.6,295.3 166.4,296.5 168.3,297.1 170.2,293.7 172.1,323.0 173.9,289.8 175.8,293.8 177.7,293.4 179.6,291.9 181.4,294.5 183.3,294.4 185.2,294.6 187.1,294.0 188.9,294.2 190.8,294.0 192.7,294.5 194.6,294.4 196.4,294.9 198.3,294.3 200.2,293.9 202.1,294.1 203.9,293.7 205.8,294.0 207.7,294.6 209.6,294.6 211.4,294.2" fill="none" stroke="#d82858" stroke-width="0.85" stroke-linejoin="round"/>
<polyline points="35.2,248.1 37.0,255.2 38.9,265.9 40.8,263.2 42.7,267.2 44.5,285.0 46.4,275.5 48.3,269.2 50.2,212.6 52.0,258.6 53.9,282.5 55.8,247.8 57.7,212.6 59.5,267.1 61.4,212.6 63.3,261.1 65.2,290.2 67.0,288.0 68.9,288.4 70.8,290.5 72.7,290.1 74.5,287.2 76.4,288.4 78.3,292.0 80.2,290.1 82.0,290.3 83.9,285.6 85.8,287.3 87.7,291.1 89.5,287.1 91.4,288.5 93.3,288.3 95.2,288.8 97.0,291.0 98.9,288.1 100.8,291.0 102.7,288.2 104.5,291.3 106.4,289.4 108.3,290.6 110.2,290.1 112.0,289.8 113.9,285.8 115.8,287.6 117.7,291.0 119.5,288.2 121.4,290.4 123.3,289.1 125.2,289.0 127.0,288.6 128.9,289.5 130.8,289.9 132.7,288.1 134.6,290.4 136.4,287.6 138.3,289.6 140.2,289.2 142.1,290.1 143.9,292.4 145.8,288.9 147.7,287.8 149.6,290.3 151.4,289.0 153.3,289.6 155.2,290.7 157.1,288.8 158.9,291.9 160.8,288.5 162.7,289.3 164.6,289.0 166.4,288.4 168.3,291.0 170.2,290.6 172.1,292.5 173.9,290.0 175.8,288.2 177.7,287.5 179.6,289.7 181.4,285.2 183.3,285.7 185.2,284.9 187.1,284.9 188.9,285.7 190.8,285.6 192.7,285.0 194.6,285.8 196.4,285.1 198.3,285.2 200.2,285.5 202.1,285.6 203.9,285.5 205.8,285.8 207.7,285.4 209.6,285.5 211.4,285.1" fill="none" stroke="#5a5a5a" stroke-width="0.75" stroke-opacity="0.35" stroke-linejoin="round"/>
<polyline points="35.2,267.5 37.0,248.3 38.9,261.7 40.8,273.5 42.7,274.1 44.5,273.8 46.4,246.7 48.3,263.9 50.2,248.6 52.0,251.5 53.9,212.6 55.8,212.6 57.7,282.9 59.5,212.6 61.4,212.6 63.3,279.6 65.2,264.5 67.0,266.1 68.9,260.0 70.8,262.1 72.7,265.1 74.5,265.2 76.4,261.8 78.3,261.5 80.2,259.3 82.0,263.0 83.9,264.7 85.8,262.1 87.7,263.2 89.5,262.9 91.4,264.4 93.3,263.7 95.2,264.0 97.0,265.7 98.9,262.1 100.8,263.9 102.7,263.2 104.5,263.9 106.4,254.7 108.3,264.7 110.2,265.9 112.0,264.6 113.9,263.5 115.8,264.6 117.7,263.3 119.5,263.3 121.4,264.6 123.3,265.1 125.2,266.4 127.0,263.9 128.9,262.2 130.8,265.9 132.7,264.4 134.6,265.7 136.4,264.8 138.3,261.9 140.2,263.9 142.1,262.2 143.9,261.9 145.8,264.1 147.7,265.2 149.6,265.5 151.4,262.0 153.3,266.7 155.2,266.8 157.1,265.9 158.9,262.2 160.8,261.4 162.7,266.5 164.6,266.5 166.4,265.6 168.3,262.6 170.2,261.7 172.1,265.9 173.9,266.0 175.8,264.9 177.7,264.3 179.6,266.1 181.4,261.0 183.3,261.0 185.2,260.3 187.1,261.5 188.9,260.8 190.8,260.7 192.7,260.1 194.6,261.0 196.4,260.8 198.3,260.9 200.2,260.2 202.1,261.4 203.9,260.8 205.8,260.6 207.7,260.1 209.6,260.4 211.4,260.7" fill="none" stroke="#e04850" stroke-width="0.75" stroke-opacity="0.7" stroke-linejoin="round"/>
<polyline points="35.2,262.3 37.0,284.3 38.9,272.3 40.8,271.5 42.7,273.3 44.5,290.1 46.4,258.9 48.3,262.7 50.2,212.6 52.0,212.6 53.9,248.5 55.8,212.6 57.7,280.4 59.5,277.8 61.4,255.5 63.3,248.2 65.2,300.3 67.0,300.7 68.9,301.5 70.8,298.4 72.7,296.4 74.5,302.4 76.4,301.2 78.3,300.8 80.2,299.0 82.0,299.9 83.9,297.6 85.8,299.1 87.7,300.7 89.5,298.1 91.4,298.2 93.3,299.7 95.2,296.7 97.0,301.6 98.9,299.1 100.8,300.3 102.7,299.5 104.5,302.0 106.4,299.9 108.3,300.0 110.2,299.0 112.0,300.6 113.9,300.1 115.8,299.6 117.7,300.2 119.5,298.6 121.4,299.1 123.3,299.8 125.2,299.3 127.0,297.5 128.9,300.7 130.8,296.3 132.7,296.0 134.6,299.4 136.4,300.0 138.3,301.7 140.2,301.5 142.1,303.7 143.9,299.0 145.8,301.9 147.7,300.5 149.6,299.8 151.4,300.1 153.3,301.9 155.2,300.1 157.1,298.3 158.9,296.7 160.8,300.3 162.7,300.3 164.6,299.1 166.4,299.8 168.3,301.1 170.2,301.9 172.1,303.2 173.9,302.5 175.8,299.7 177.7,300.2 179.6,300.5 181.4,296.6 183.3,295.7 185.2,296.8 187.1,296.1 188.9,295.9 190.8,296.3 192.7,296.5 194.6,295.6 196.4,296.4 198.3,295.4 200.2,296.9 202.1,296.2 203.9,296.0 205.8,296.9 207.7,296.2 209.6,296.2 211.4,297.1" fill="none" stroke="#ec6838" stroke-width="0.75" stroke-opacity="0.35" stroke-linejoin="round"/>
<polyline points="35.2,257.9 37.0,265.8 38.9,284.4 40.8,269.7 42.7,273.0 44.5,212.6 46.4,250.3 48.3,212.6 50.2,286.8 52.0,279.8 53.9,251.6 55.8,212.6 57.7,212.6 59.5,248.6 61.4,212.6 63.3,276.4 65.2,248.1 67.0,244.2 68.9,246.3 70.8,246.8 72.7,244.2 74.5,246.9 76.4,246.1 78.3,245.9 80.2,253.8 82.0,245.5 83.9,247.0 85.8,245.2 87.7,244.6 89.5,245.7 91.4,245.4 93.3,244.5 95.2,247.5 97.0,243.1 98.9,247.7 100.8,245.3 102.7,243.0 104.5,243.5 106.4,244.4 108.3,231.7 110.2,245.7 112.0,243.4 113.9,247.2 115.8,244.4 117.7,244.0 119.5,246.8 121.4,243.0 123.3,243.0 125.2,245.0 127.0,246.1 128.9,245.8 130.8,245.1 132.7,243.3 134.6,246.6 136.4,245.7 138.3,245.0 140.2,245.5 142.1,248.6 143.9,243.7 145.8,245.4 147.7,247.0 149.6,246.9 151.4,249.2 153.3,244.6 155.2,244.3 157.1,247.5 158.9,246.3 160.8,244.7 162.7,243.9 164.6,245.4 166.4,245.1 168.3,247.1 170.2,243.3 172.1,246.1 173.9,246.3 175.8,246.0 177.7,247.8 179.6,244.8 181.4,242.1 183.3,242.2 185.2,242.8 187.1,242.5 188.9,243.1 190.8,241.9 192.7,241.4 194.6,241.4 196.4,242.0 198.3,241.3 200.2,242.0 202.1,241.5 203.9,241.7 205.8,241.6 207.7,242.2 209.6,241.1 211.4,243.0" fill="none" stroke="#eea860" stroke-width="0.75" stroke-opacity="0.85" stroke-linejoin="round"/>
<polyline points="35.2,272.6 37.0,282.5 38.9,267.6 40.8,212.6 42.7,287.0 44.5,251.5 46.4,280.2 48.3,212.6 50.2,283.3 52.0,262.1 53.9,282.1 55.8,212.6 57.7,287.2 59.5,212.6 61.4,264.3 63.3,284.4 65.2,297.9 67.0,297.9 68.9,298.1 70.8,300.5 72.7,298.5 74.5,298.5 76.4,299.4 78.3,297.9 80.2,295.8 82.0,296.3 83.9,297.1 85.8,302.0 87.7,298.4 89.5,302.2 91.4,297.1 93.3,300.0 95.2,298.3 97.0,297.9 98.9,300.8 100.8,298.8 102.7,296.4 104.5,294.0 106.4,295.1 108.3,299.7 110.2,298.7 112.0,296.8 113.9,298.4 115.8,299.5 117.7,298.8 119.5,297.8 121.4,299.4 123.3,297.3 125.2,297.9 127.0,298.3 128.9,296.4 130.8,298.9 132.7,297.8 134.6,297.3 136.4,301.3 138.3,300.9 140.2,298.6 142.1,301.5 143.9,301.4 145.8,298.6 147.7,301.0 149.6,298.8 151.4,301.9 153.3,297.7 155.2,298.9 157.1,298.6 158.9,303.0 160.8,298.4 162.7,296.7 164.6,301.6 166.4,299.7 168.3,297.2 170.2,297.4 172.1,297.0 173.9,300.4 175.8,297.3 177.7,298.1 179.6,295.8 181.4,299.0 183.3,299.4 185.2,299.6 187.1,299.3 188.9,299.2 190.8,300.1 192.7,299.3 194.6,298.7 196.4,299.1 198.3,299.2 200.2,299.3 202.1,298.4 203.9,299.1 205.8,298.7 207.7,299.8 209.6,298.9 211.4,299.3" fill="none" stroke="#f2cc50" stroke-width="0.75" stroke-opacity="0.35" stroke-linejoin="round"/>
<polyline points="35.2,275.3 37.0,263.8 38.9,261.5 40.8,261.9 42.7,212.6 44.5,281.2 46.4,275.9 48.3,256.3 50.2,272.2 52.0,286.3 53.9,253.6 55.8,212.6 57.7,266.3 59.5,261.6 61.4,261.4 63.3,250.1 65.2,258.4 67.0,258.0 68.9,255.9 70.8,256.2 72.7,259.8 74.5,254.9 76.4,257.4 78.3,256.9 80.2,256.1 82.0,255.6 83.9,252.6 85.8,258.1 87.7,256.4 89.5,257.4 91.4,258.5 93.3,257.3 95.2,255.6 97.0,259.9 98.9,255.3 100.8,261.0 102.7,258.3 104.5,261.0 106.4,255.4 108.3,256.9 110.2,255.7 112.0,256.2 113.9,257.4 115.8,258.6 117.7,256.6 119.5,256.8 121.4,258.0 123.3,263.0 125.2,258.0 127.0,258.6 128.9,253.5 130.8,256.6 132.7,250.1 134.6,255.2 136.4,258.9 138.3,258.6 140.2,254.7 142.1,255.0 143.9,258.0 145.8,257.4 147.7,260.7 149.6,258.1 151.4,256.8 153.3,257.3 155.2,256.5 157.1,255.0 158.9,258.3 160.8,257.3 162.7,256.7 164.6,256.8 166.4,254.6 168.3,255.3 170.2,257.9 172.1,257.3 173.9,259.4 175.8,255.6 177.7,257.0 179.6,253.4 181.4,252.9 183.3,253.2 185.2,252.5 187.1,253.4 188.9,252.7 190.8,252.7 192.7,252.7 194.6,252.8 196.4,253.1 198.3,253.1 200.2,252.8 202.1,252.4 203.9,252.5 205.8,252.1 207.7,252.9 209.6,252.2 211.4,252.7" fill="none" stroke="#dcf050" stroke-width="0.75" stroke-opacity="0.35" stroke-linejoin="round"/>
<polyline points="35.2,249.4 37.0,268.9 38.9,281.6 40.8,212.6 42.7,212.6 44.5,285.7 46.4,212.6 48.3,276.5 50.2,257.7 52.0,252.3 53.9,258.4 55.8,260.0 57.7,250.8 59.5,247.9 61.4,276.2 63.3,263.5 65.2,261.5 67.0,263.7 68.9,260.3 70.8,262.2 72.7,262.6 74.5,262.1 76.4,261.1 78.3,264.2 80.2,264.1 82.0,265.1 83.9,264.6 85.8,261.7 87.7,263.9 89.5,263.8 91.4,260.6 93.3,261.4 95.2,264.2 97.0,265.2 98.9,262.3 100.8,263.8 102.7,261.3 104.5,261.5 106.4,263.5 108.3,265.7 110.2,266.0 112.0,270.6 113.9,264.2 115.8,264.6 117.7,263.3 119.5,264.5 121.4,262.9 123.3,262.5 125.2,261.9 127.0,263.6 128.9,264.0 130.8,263.8 132.7,265.0 134.6,264.5 136.4,264.1 138.3,265.1 140.2,261.6 142.1,263.0 143.9,263.6 145.8,262.3 147.7,260.9 149.6,263.2 151.4,263.2 153.3,263.2 155.2,263.5 157.1,262.0 158.9,262.2 160.8,263.9 162.7,262.5 164.6,261.0 166.4,261.1 168.3,264.0 170.2,260.4 172.1,266.6 173.9,276.5 175.8,265.0 177.7,264.7 179.6,262.1 181.4,263.6 183.3,262.8 185.2,262.6 187.1,262.8 188.9,262.7 190.8,262.8 192.7,262.6 194.6,262.6 196.4,262.6 198.3,262.2 200.2,263.1 202.1,263.0 203.9,263.2 205.8,262.9 207.7,263.2 209.6,263.4 211.4,262.6" fill="none" stroke="#a0ee70" stroke-width="0.75" stroke-opacity="0.6" stroke-linejoin="round"/>
<polyline points="35.2,283.9 37.0,257.3 38.9,253.8 40.8,259.5 42.7,212.6 44.5,255.8 46.4,251.4 48.3,270.6 50.2,212.6 52.0,286.3 53.9,268.6 55.8,212.6 57.7,212.6 59.5,251.6 61.4,212.6 63.3,254.3 65.2,265.8 67.0,264.3 68.9,265.7 70.8,265.9 72.7,264.7 74.5,268.8 76.4,266.8 78.3,268.6 80.2,268.5 82.0,266.9 83.9,264.2 85.8,264.5 87.7,264.6 89.5,267.5 91.4,268.3 93.3,278.0 95.2,268.3 97.0,267.5 98.9,267.9 100.8,264.6 102.7,265.1 104.5,266.4 106.4,262.8 108.3,271.0 110.2,266.8 112.0,267.0 113.9,264.7 115.8,267.4 117.7,266.4 119.5,265.1 121.4,268.3 123.3,267.0 125.2,266.5 127.0,268.0 128.9,265.4 130.8,269.3 132.7,265.8 134.6,266.9 136.4,268.8 138.3,265.8 140.2,268.4 142.1,264.8 143.9,265.6 145.8,266.3 147.7,271.3 149.6,265.4 151.4,268.0 153.3,266.2 155.2,268.4 157.1,264.2 158.9,265.1 160.8,266.3 162.7,266.1 164.6,266.5 166.4,264.9 168.3,265.1 170.2,267.2 172.1,267.2 173.9,268.1 175.8,268.5 177.7,266.3 179.6,268.4 181.4,266.0 183.3,266.1 185.2,265.2 187.1,265.7 188.9,265.6 190.8,265.9 192.7,266.1 194.6,265.3 196.4,265.7 198.3,265.4 200.2,265.7 202.1,266.1 203.9,266.3 205.8,265.7 207.7,266.2 209.6,266.6 211.4,265.7" fill="none" stroke="#80e890" stroke-width="0.75" stroke-opacity="0.35" stroke-linejoin="round"/>
<polyline points="35.2,275.7 37.0,273.0 38.9,262.7 40.8,212.6 42.7,212.6 44.5,260.8 46.4,212.6 48.3,212.6 50.2,271.0 52.0,287.5 53.9,286.1 55.8,287.4 57.7,268.9 59.5,287.8 61.4,260.9 63.3,253.4 65.2,252.0 67.0,251.5 68.9,253.3 70.8,256.3 72.7,255.8 74.5,249.2 76.4,253.4 78.3,253.3 80.2,250.6 82.0,251.6 83.9,251.7 85.8,252.3 87.7,254.8 89.5,250.1 91.4,254.0 93.3,252.0 95.2,250.6 97.0,250.3 98.9,253.8 100.8,249.8 102.7,250.4 104.5,251.4 106.4,251.2 108.3,251.3 110.2,255.4 112.0,254.0 113.9,253.3 115.8,252.9 117.7,251.3 119.5,256.3 121.4,253.0 123.3,249.5 125.2,252.2 127.0,251.8 128.9,255.3 130.8,252.5 132.7,255.9 134.6,254.0 136.4,256.8 138.3,251.1 140.2,251.5 142.1,244.9 143.9,251.2 145.8,251.7 147.7,252.6 149.6,252.0 151.4,253.3 153.3,254.1 155.2,250.6 157.1,253.1 158.9,253.6 160.8,251.4 162.7,268.1 164.6,253.4 166.4,253.9 168.3,252.1 170.2,251.6 172.1,255.7 173.9,252.7 175.8,256.0 177.7,252.2 179.6,251.2 181.4,254.7 183.3,255.1 185.2,255.0 187.1,254.7 188.9,254.2 190.8,255.3 192.7,254.2 194.6,255.3 196.4,254.5 198.3,254.6 200.2,255.4 202.1,255.0 203.9,255.1 205.8,255.2 207.7,255.0 209.6,254.8 211.4,254.7" fill="none" stroke="#80e8dc" stroke-width="0.75" stroke-opacity="0.6" stroke-linejoin="round"/>
<polyline points="35.2,286.7 37.0,259.1 38.9,273.8 40.8,276.9 42.7,286.8 44.5,288.4 46.4,286.2 48.3,254.1 50.2,265.0 52.0,258.5 53.9,275.8 55.8,276.9 57.7,257.6 59.5,283.0 61.4,287.3 63.3,259.3 65.2,284.8 67.0,285.3 68.9,284.7 70.8,284.5 72.7,284.6 74.5,284.1 76.4,285.9 78.3,282.4 80.2,285.3 82.0,283.0 83.9,285.0 85.8,287.0 87.7,284.4 89.5,287.0 91.4,282.9 93.3,284.2 95.2,284.1 97.0,279.8 98.9,283.5 100.8,285.8 102.7,281.8 104.5,284.5 106.4,284.6 108.3,286.0 110.2,285.6 112.0,285.3 113.9,284.5 115.8,283.3 117.7,285.7 119.5,287.3 121.4,284.9 123.3,284.7 125.2,284.7 127.0,280.3 128.9,283.8 130.8,281.2 132.7,283.8 134.6,284.4 136.4,283.9 138.3,286.8 140.2,285.0 142.1,286.7 143.9,282.4 145.8,287.3 147.7,285.6 149.6,284.2 151.4,283.3 153.3,289.8 155.2,289.5 157.1,282.7 158.9,285.2 160.8,284.1 162.7,280.7 164.6,286.4 166.4,282.2 168.3,282.8 170.2,285.9 172.1,285.3 173.9,286.0 175.8,286.3 177.7,283.3 179.6,287.4 181.4,280.1 183.3,279.4 185.2,279.4 187.1,279.7 188.9,279.5 190.8,279.2 192.7,279.5 194.6,279.5 196.4,279.1 198.3,279.1 200.2,279.2 202.1,280.2 203.9,279.4 205.8,279.8 207.7,278.9 209.6,279.6 211.4,279.8" fill="none" stroke="#78ccf4" stroke-width="0.75" stroke-opacity="0.55" stroke-linejoin="round"/>
<polyline points="35.2,252.7 37.0,274.3 38.9,263.2 40.8,248.5 42.7,276.8 44.5,212.6 46.4,212.6 48.3,284.1 50.2,212.6 52.0,249.0 53.9,256.5 55.8,269.1 57.7,286.8 59.5,254.8 61.4,284.0 63.3,288.3 65.2,268.2 67.0,268.3 68.9,265.7 70.8,268.1 72.7,266.9 74.5,269.6 76.4,267.5 78.3,268.9 80.2,269.2 82.0,268.0 83.9,269.0 85.8,267.5 87.7,265.8 89.5,269.5 91.4,269.5 93.3,267.7 95.2,270.4 97.0,267.0 98.9,266.6 100.8,267.3 102.7,269.1 104.5,265.6 106.4,268.3 108.3,267.5 110.2,269.8 112.0,269.0 113.9,267.7 115.8,268.2 117.7,270.7 119.5,269.8 121.4,267.2 123.3,266.7 125.2,266.0 127.0,266.8 128.9,265.4 130.8,257.9 132.7,269.5 134.6,268.5 136.4,269.4 138.3,264.2 140.2,267.1 142.1,268.0 143.9,268.6 145.8,268.9 147.7,266.2 149.6,267.5 151.4,268.8 153.3,268.5 155.2,268.3 157.1,265.6 158.9,267.7 160.8,266.8 162.7,268.1 164.6,267.5 166.4,268.9 168.3,268.2 170.2,269.3 172.1,267.6 173.9,268.2 175.8,268.8 177.7,266.9 179.6,268.3 181.4,265.5 183.3,264.2 185.2,264.5 187.1,265.0 188.9,265.3 190.8,264.7 192.7,264.7 194.6,265.0 196.4,264.9 198.3,265.6 200.2,265.2 202.1,264.4 203.9,264.1 205.8,265.5 207.7,265.1 209.6,264.5 211.4,265.3" fill="none" stroke="#78acf0" stroke-width="0.75" stroke-opacity="0.35" stroke-linejoin="round"/>
<polyline points="35.2,285.1 37.0,282.3 38.9,273.7 40.8,261.5 42.7,260.9 44.5,212.6 46.4,212.6 48.3,254.8 50.2,272.0 52.0,268.5 53.9,212.6 55.8,266.0 57.7,261.2 59.5,212.6 61.4,212.6 63.3,212.6 65.2,274.4 67.0,277.5 68.9,276.0 70.8,274.1 72.7,275.7 74.5,275.0 76.4,274.5 78.3,275.5 80.2,277.6 82.0,276.8 83.9,273.3 85.8,274.1 87.7,276.3 89.5,275.9 91.4,276.6 93.3,274.5 95.2,276.8 97.0,274.9 98.9,275.6 100.8,275.3 102.7,275.3 104.5,277.1 106.4,263.6 108.3,275.9 110.2,270.8 112.0,276.0 113.9,276.0 115.8,275.4 117.7,276.9 119.5,274.6 121.4,272.1 123.3,271.7 125.2,277.5 127.0,272.7 128.9,275.8 130.8,275.8 132.7,273.1 134.6,277.0 136.4,271.7 138.3,274.1 140.2,272.6 142.1,278.3 143.9,275.3 145.8,275.8 147.7,277.2 149.6,274.8 151.4,277.5 153.3,274.7 155.2,272.5 157.1,274.6 158.9,273.4 160.8,274.8 162.7,276.0 164.6,275.0 166.4,275.8 168.3,276.2 170.2,276.1 172.1,273.5 173.9,277.1 175.8,274.1 177.7,271.4 179.6,274.8 181.4,276.9 183.3,277.0 185.2,277.4 187.1,276.9 188.9,276.6 190.8,276.2 192.7,277.1 194.6,276.7 196.4,276.8 198.3,277.5 200.2,276.5 202.1,276.0 203.9,277.0 205.8,276.6 207.7,276.3 209.6,276.9 211.4,276.8" fill="none" stroke="#5068e8" stroke-width="0.75" stroke-opacity="0.35" stroke-linejoin="round"/>
<polyline points="35.2,266.8 37.0,248.6 38.9,280.4 40.8,212.6 42.7,286.3 44.5,212.6 46.4,282.7 48.3,212.6 50.2,284.1 52.0,256.2 53.9,283.5 55.8,271.8 57.7,266.7 59.5,248.4 61.4,262.9 63.3,248.2 65.2,268.5 67.0,268.8 68.9,270.5 70.8,265.9 72.7,268.2 74.5,277.8 76.4,270.1 78.3,269.9 80.2,271.8 82.0,269.6 83.9,268.7 85.8,269.9 87.7,282.6 89.5,267.8 91.4,268.4 93.3,268.5 95.2,270.4 97.0,268.8 98.9,269.2 100.8,271.9 102.7,268.2 104.5,269.3 106.4,269.4 108.3,267.3 110.2,268.9 112.0,268.7 113.9,268.4 115.8,269.3 117.7,268.4 119.5,269.1 121.4,269.3 123.3,270.3 125.2,269.3 127.0,267.7 128.9,272.9 130.8,268.7 132.7,268.0 134.6,268.6 136.4,270.0 138.3,268.9 140.2,269.7 142.1,267.7 143.9,269.4 145.8,270.9 147.7,266.5 149.6,270.0 151.4,265.9 153.3,267.8 155.2,265.8 157.1,266.2 158.9,266.9 160.8,271.3 162.7,267.8 164.6,267.4 166.4,271.6 168.3,268.3 170.2,266.8 172.1,269.9 173.9,268.8 175.8,269.3 177.7,268.2 179.6,268.0 181.4,271.0 183.3,271.5 185.2,270.7 187.1,270.6 188.9,271.1 190.8,271.6 192.7,270.9 194.6,271.5 196.4,271.0 198.3,271.4 200.2,271.6 202.1,271.5 203.9,271.0 205.8,271.7 207.7,271.0 209.6,271.5 211.4,270.8" fill="none" stroke="#4a48e0" stroke-width="0.75" stroke-opacity="0.35" stroke-linejoin="round"/>
<polyline points="35.2,287.8 37.0,250.8 38.9,263.9 40.8,247.3 42.7,278.9 44.5,280.2 46.4,253.3 48.3,252.8 50.2,212.6 52.0,263.8 53.9,212.6 55.8,258.3 57.7,212.6 59.5,212.6 61.4,289.9 63.3,279.0 65.2,268.9 67.0,264.7 68.9,261.1 70.8,264.8 72.7,263.7 74.5,262.1 76.4,260.9 78.3,264.8 80.2,263.6 82.0,264.5 83.9,262.7 85.8,266.2 87.7,265.8 89.5,272.2 91.4,265.0 93.3,263.8 95.2,263.7 97.0,263.6 98.9,260.7 100.8,262.2 102.7,266.7 104.5,262.0 106.4,260.9 108.3,265.0 110.2,263.3 112.0,266.6 113.9,261.9 115.8,267.0 117.7,263.6 119.5,265.8 121.4,261.8 123.3,265.8 125.2,262.6 127.0,263.9 128.9,262.3 130.8,263.8 132.7,264.2 134.6,262.6 136.4,265.7 138.3,265.6 140.2,262.6 142.1,263.9 143.9,267.3 145.8,263.5 147.7,263.0 149.6,263.7 151.4,262.1 153.3,263.6 155.2,264.6 157.1,263.5 158.9,264.0 160.8,264.6 162.7,263.7 164.6,264.6 166.4,276.8 168.3,267.4 170.2,262.8 172.1,264.4 173.9,263.5 175.8,263.1 177.7,263.5 179.6,263.9 181.4,265.2 183.3,265.0 185.2,264.9 187.1,264.7 188.9,265.2 190.8,264.1 192.7,264.7 194.6,264.1 196.4,265.2 198.3,264.7 200.2,264.3 202.1,264.4 203.9,265.0 205.8,264.1 207.7,265.1 209.6,264.8 211.4,264.7" fill="none" stroke="#9850f0" stroke-width="0.75" stroke-opacity="0.35" stroke-linejoin="round"/>
<polyline points="35.2,255.2 37.0,256.8 38.9,265.8 40.8,212.6 42.7,212.6 44.5,283.2 46.4,246.3 48.3,277.5 50.2,212.6 52.0,276.4 53.9,286.5 55.8,212.6 57.7,276.5 59.5,260.3 61.4,258.2 63.3,281.7 65.2,284.8 67.0,286.7 68.9,285.4 70.8,287.1 72.7,286.1 74.5,287.2 76.4,280.4 78.3,286.7 80.2,285.5 82.0,286.8 83.9,285.4 85.8,286.4 87.7,286.2 89.5,283.8 91.4,293.6 93.3,284.7 95.2,284.5 97.0,290.2 98.9,285.5 100.8,286.5 102.7,287.7 104.5,283.3 106.4,284.9 108.3,285.9 110.2,286.3 112.0,286.2 113.9,281.8 115.8,287.0 117.7,287.6 119.5,284.3 121.4,286.9 123.3,285.4 125.2,283.6 127.0,285.8 128.9,289.4 130.8,282.2 132.7,285.2 134.6,285.4 136.4,286.7 138.3,288.1 140.2,285.6 142.1,285.2 143.9,282.9 145.8,286.2 147.7,287.1 149.6,283.2 151.4,283.8 153.3,285.7 155.2,284.6 157.1,287.6 158.9,286.9 160.8,284.4 162.7,285.6 164.6,286.5 166.4,284.7 168.3,283.4 170.2,286.6 172.1,288.0 173.9,283.9 175.8,286.2 177.7,286.0 179.6,282.9 181.4,282.5 183.3,282.5 185.2,282.1 187.1,282.1 188.9,282.3 190.8,282.7 192.7,282.1 194.6,282.2 196.4,282.3 198.3,282.5 200.2,282.5 202.1,283.4 203.9,282.7 205.8,282.0 207.7,282.5 209.6,282.7 211.4,281.9" fill="none" stroke="#e050e0" stroke-width="0.75" stroke-opacity="0.35" stroke-linejoin="round"/>
<polyline points="35.2,273.4 37.0,252.8 38.9,246.5 40.8,283.1 42.7,279.8 44.5,259.4 46.4,287.2 48.3,249.6 50.2,255.9 52.0,212.6 53.9,212.6 55.8,254.4 57.7,251.3 59.5,265.2 61.4,253.1 63.3,267.6 65.2,286.6 67.0,287.9 68.9,289.9 70.8,288.8 72.7,285.0 74.5,287.0 76.4,287.5 78.3,291.7 80.2,288.4 82.0,289.7 83.9,291.8 85.8,287.4 87.7,285.9 89.5,286.2 91.4,290.2 93.3,287.1 95.2,288.9 97.0,286.8 98.9,288.2 100.8,288.5 102.7,289.2 104.5,288.6 106.4,287.3 108.3,288.0 110.2,286.3 112.0,283.1 113.9,287.9 115.8,286.1 117.7,289.0 119.5,288.1 121.4,287.3 123.3,288.4 125.2,287.1 127.0,285.6 128.9,287.7 130.8,288.9 132.7,289.4 134.6,287.7 136.4,288.1 138.3,288.4 140.2,290.0 142.1,288.6 143.9,287.5 145.8,286.0 147.7,286.1 149.6,288.0 151.4,288.5 153.3,286.3 155.2,286.5 157.1,285.3 158.9,284.3 160.8,290.3 162.7,288.1 164.6,286.5 166.4,286.5 168.3,286.2 170.2,285.4 172.1,286.0 173.9,288.2 175.8,284.6 177.7,286.1 179.6,285.8 181.4,288.0 183.3,288.1 185.2,288.4 187.1,287.3 188.9,287.4 190.8,287.7 192.7,288.0 194.6,288.7 196.4,287.9 198.3,288.1 200.2,288.6 202.1,287.9 203.9,288.3 205.8,287.8 207.7,289.1 209.6,287.4 211.4,287.7" fill="none" stroke="#d82858" stroke-width="0.75" stroke-opacity="0.35" stroke-linejoin="round"/>
<polyline points="267.0,266.4 268.8,235.0 270.7,264.1 272.6,212.1 274.5,244.2 276.3,276.9 278.2,255.8 280.1,212.1 281.9,265.1 283.8,265.0 285.7,264.5 287.6,273.7 289.4,267.1 291.3,277.0 293.2,282.9 295.0,288.2 296.9,283.0 298.8,272.2 300.6,274.6 302.5,281.8 304.4,277.1 306.3,297.0 308.1,291.4 310.0,290.2 311.9,303.0 313.7,278.4 315.6,265.0 317.5,305.1 319.4,289.7 321.2,305.4 323.1,305.1 325.0,288.2 326.8,310.2 328.7,302.6 330.6,291.6 332.5,289.2 334.3,296.3 336.2,293.9 338.1,265.3 339.9,296.6 341.8,312.4 343.7,294.0 345.6,295.0 347.4,303.7 349.3,302.7 351.2,304.2 353.0,300.3 354.9,300.5 356.8,298.1 358.7,298.8 360.5,307.0 362.4,302.7 364.3,302.4 366.1,276.8 368.0,300.3 369.9,289.9 371.7,302.4 373.6,302.1 375.5,301.2 377.4,309.3 379.2,305.9 381.1,310.3 383.0,304.4 384.8,317.0 386.7,302.9 388.6,317.7 390.5,308.6 392.3,315.2 394.2,304.5 396.1,311.0 397.9,318.5 399.8,300.3 401.7,309.4 403.6,308.6 405.4,320.8 407.3,316.0 409.2,315.3 411.0,325.1 412.9,316.5 414.8,317.1 416.7,321.2 418.5,315.8 420.4,321.9 422.3,316.5 424.1,322.1 426.0,317.2 427.9,322.7 429.7,315.5 431.6,321.5 433.5,316.4 435.4,320.5 437.2,319.3 439.1,320.9 441.0,316.1 442.8,322.9" fill="none" stroke="#5a5a5a" stroke-width="0.85" stroke-linejoin="round"/>
<polyline points="267.0,247.4 268.8,246.3 270.7,228.5 272.6,212.1 274.5,234.7 276.3,255.3 278.2,269.3 280.1,263.2 281.9,268.5 283.8,212.1 285.7,263.5 287.6,260.0 289.4,271.0 291.3,274.1 293.2,263.7 295.0,284.5 296.9,260.3 298.8,288.6 300.6,295.9 302.5,234.9 304.4,290.5 306.3,247.3 308.1,288.2 310.0,295.2 311.9,287.4 313.7,277.3 315.6,279.8 317.5,279.2 319.4,288.1 321.2,295.1 323.1,288.2 325.0,274.7 326.8,296.5 328.7,280.6 330.6,298.5 332.5,301.1 334.3,296.9 336.2,298.6 338.1,304.6 339.9,286.1 341.8,286.8 343.7,300.7 345.6,311.2 347.4,286.5 349.3,313.0 351.2,312.8 353.0,298.4 354.9,310.9 356.8,308.1 358.7,296.3 360.5,303.5 362.4,310.1 364.3,305.8 366.1,318.3 368.0,313.7 369.9,296.6 371.7,293.3 373.6,299.6 375.5,300.2 377.4,311.1 379.2,317.9 381.1,299.2 383.0,312.6 384.8,303.6 386.7,308.0 388.6,307.0 390.5,307.5 392.3,309.2 394.2,313.5 396.1,315.1 397.9,287.4 399.8,315.2 401.7,314.0 403.6,312.6 405.4,310.2 407.3,329.6 409.2,317.6 411.0,318.7 412.9,320.7 414.8,325.3 416.7,332.8 418.5,326.2 420.4,328.9 422.3,327.3 424.1,331.8 426.0,327.5 427.9,331.8 429.7,328.3 431.6,330.2 433.5,324.9 435.4,331.8 437.2,328.6 439.1,330.7 441.0,326.2 442.8,330.8" fill="none" stroke="#e04850" stroke-width="0.85" stroke-linejoin="round"/>
<polyline points="267.0,243.5 268.8,256.7 270.7,243.9 272.6,262.4 274.5,234.7 276.3,212.1 278.2,212.1 280.1,258.4 281.9,261.7 283.8,250.4 285.7,261.7 287.6,267.5 289.4,266.7 291.3,292.5 293.2,272.7 295.0,264.2 296.9,261.7 298.8,259.0 300.6,273.4 302.5,288.2 304.4,275.9 306.3,273.2 308.1,261.0 310.0,268.8 311.9,264.9 313.7,272.4 315.6,258.8 317.5,276.1 319.4,266.3 321.2,352.1 323.1,263.7 325.0,278.5 326.8,281.8 328.7,274.5 330.6,286.9 332.5,276.1 334.3,276.3 336.2,281.7 338.1,290.8 339.9,251.0 341.8,284.4 343.7,289.0 345.6,283.5 347.4,258.8 349.3,277.2 351.2,285.1 353.0,286.9 354.9,293.2 356.8,288.9 358.7,281.1 360.5,294.1 362.4,286.6 364.3,291.7 366.1,290.1 368.0,295.8 369.9,294.8 371.7,296.9 373.6,255.7 375.5,295.8 377.4,296.3 379.2,303.1 381.1,303.6 383.0,298.4 384.8,309.7 386.7,289.1 388.6,293.2 390.5,286.3 392.3,308.5 394.2,295.1 396.1,306.8 397.9,307.4 399.8,294.4 401.7,310.6 403.6,303.7 405.4,311.1 407.3,303.2 409.2,315.6 411.0,311.0 412.9,307.7 414.8,313.1 416.7,309.1 418.5,312.4 420.4,310.8 422.3,314.5 424.1,307.2 426.0,313.0 427.9,307.9 429.7,313.2 431.6,308.9 433.5,312.8 435.4,307.4 437.2,314.0 439.1,306.1 441.0,313.0 442.8,308.5" fill="none" stroke="#ec6838" stroke-width="0.85" stroke-linejoin="round"/>
<polyline points="267.0,215.5 268.8,221.3 270.7,245.4 272.6,253.1 274.5,212.1 276.3,212.1 278.2,245.7 280.1,274.3 281.9,258.8 283.8,264.7 285.7,258.4 287.6,257.9 289.4,266.1 291.3,280.1 293.2,267.5 295.0,262.4 296.9,276.8 298.8,274.8 300.6,260.9 302.5,271.2 304.4,280.0 306.3,278.0 308.1,278.9 310.0,275.8 311.9,274.4 313.7,286.6 315.6,290.9 317.5,284.3 319.4,276.3 321.2,279.8 323.1,287.8 325.0,284.9 326.8,283.9 328.7,283.9 330.6,291.0 332.5,280.6 334.3,280.5 336.2,290.2 338.1,299.5 339.9,282.9 341.8,305.8 343.7,290.5 345.6,282.4 347.4,292.5 349.3,304.0 351.2,296.9 353.0,308.2 354.9,309.9 356.8,250.6 358.7,280.5 360.5,294.1 362.4,295.0 364.3,296.6 366.1,307.1 368.0,305.4 369.9,301.6 371.7,305.2 373.6,305.9 375.5,304.3 377.4,308.9 379.2,309.8 381.1,312.2 383.0,304.8 384.8,304.5 386.7,315.2 388.6,313.2 390.5,309.9 392.3,312.3 394.2,311.9 396.1,322.7 397.9,302.9 399.8,314.8 401.7,316.7 403.6,318.3 405.4,314.0 407.3,316.5 409.2,296.6 411.0,328.9 412.9,327.4 414.8,330.0 416.7,327.1 418.5,328.3 420.4,326.2 422.3,329.8 424.1,326.4 426.0,330.6 427.9,326.0 429.7,331.3 431.6,324.2 433.5,331.7 435.4,326.9 437.2,330.4 439.1,325.7 441.0,331.4 442.8,325.1" fill="none" stroke="#eea860" stroke-width="0.85" stroke-linejoin="round"/>
<polyline points="267.0,256.2 268.8,242.5 270.7,239.3 272.6,234.7 274.5,254.5 276.3,262.5 278.2,270.7 280.1,268.5 281.9,250.6 283.8,249.5 285.7,248.1 287.6,276.4 289.4,278.7 291.3,288.3 293.2,285.4 295.0,298.6 296.9,292.8 298.8,352.1 300.6,309.9 302.5,306.6 304.4,301.0 306.3,306.4 308.1,299.8 310.0,301.5 311.9,296.4 313.7,309.5 315.6,305.2 317.5,293.0 319.4,309.0 321.2,295.3 323.1,303.6 325.0,310.2 326.8,311.6 328.7,305.3 330.6,282.0 332.5,295.2 334.3,334.6 336.2,309.1 338.1,322.5 339.9,303.5 341.8,312.3 343.7,304.4 345.6,301.7 347.4,313.2 349.3,291.2 351.2,309.7 353.0,318.9 354.9,306.3 356.8,312.6 358.7,314.2 360.5,305.6 362.4,297.5 364.3,321.7 366.1,301.6 368.0,315.4 369.9,262.3 371.7,310.8 373.6,278.2 375.5,310.1 377.4,309.7 379.2,313.8 381.1,299.7 383.0,300.3 384.8,291.7 386.7,306.2 388.6,302.2 390.5,315.4 392.3,298.8 394.2,294.3 396.1,277.4 397.9,299.3 399.8,309.3 401.7,294.7 403.6,311.3 405.4,303.8 407.3,295.9 409.2,307.1 411.0,315.4 412.9,322.3 414.8,325.8 416.7,332.7 418.5,330.5 420.4,338.3 422.3,335.2 424.1,340.7 426.0,338.0 427.9,341.6 429.7,338.2 431.6,342.1 433.5,336.7 435.4,342.4 437.2,338.3 439.1,341.9 441.0,341.0 442.8,344.3" fill="none" stroke="#f2cc50" stroke-width="0.85" stroke-linejoin="round"/>
<polyline points="267.0,231.5 268.8,229.0 270.7,229.4 272.6,221.3 274.5,229.8 276.3,235.8 278.2,240.5 280.1,257.8 281.9,246.8 283.8,256.8 285.7,236.1 287.6,240.5 289.4,255.5 291.3,266.3 293.2,271.5 295.0,268.1 296.9,255.3 298.8,283.3 300.6,271.5 302.5,274.6 304.4,278.6 306.3,269.8 308.1,274.6 310.0,274.7 311.9,290.6 313.7,281.2 315.6,275.5 317.5,283.9 319.4,270.9 321.2,240.9 323.1,277.4 325.0,288.9 326.8,352.1 328.7,295.9 330.6,271.5 332.5,284.4 334.3,243.8 336.2,293.6 338.1,279.4 339.9,292.3 341.8,287.4 343.7,294.4 345.6,287.8 347.4,286.8 349.3,257.8 351.2,294.3 353.0,307.1 354.9,294.2 356.8,284.9 358.7,300.1 360.5,287.4 362.4,283.3 364.3,296.3 366.1,299.1 368.0,296.9 369.9,296.3 371.7,294.1 373.6,275.5 375.5,309.4 377.4,294.1 379.2,285.2 381.1,287.9 383.0,286.0 384.8,288.6 386.7,294.5 388.6,308.1 390.5,299.0 392.3,294.9 394.2,305.2 396.1,308.0 397.9,299.1 399.8,299.5 401.7,301.9 403.6,307.7 405.4,313.6 407.3,301.5 409.2,312.0 411.0,314.5 412.9,313.8 414.8,317.5 416.7,313.5 418.5,317.6 420.4,313.6 422.3,318.5 424.1,313.6 426.0,317.1 427.9,313.0 429.7,317.0 431.6,313.3 433.5,318.6 435.4,313.5 437.2,318.9 439.1,314.1 441.0,319.2 442.8,314.1" fill="none" stroke="#dcf050" stroke-width="0.85" stroke-linejoin="round"/>
<polyline points="267.0,244.2 268.8,244.1 270.7,236.9 272.6,252.5 274.5,253.6 276.3,253.8 278.2,254.4 280.1,245.7 281.9,254.6 283.8,249.5 285.7,263.1 287.6,273.5 289.4,272.0 291.3,277.9 293.2,277.9 295.0,300.9 296.9,309.7 298.8,299.0 300.6,319.3 302.5,267.0 304.4,302.0 306.3,297.0 308.1,306.7 310.0,318.7 311.9,311.1 313.7,309.7 315.6,303.7 317.5,304.2 319.4,316.0 321.2,304.7 323.1,314.5 325.0,274.9 326.8,322.5 328.7,308.6 330.6,309.5 332.5,313.1 334.3,313.9 336.2,311.8 338.1,322.5 339.9,303.0 341.8,298.6 343.7,283.8 345.6,312.6 347.4,302.9 349.3,303.7 351.2,304.8 353.0,294.9 354.9,311.1 356.8,301.9 358.7,299.4 360.5,304.5 362.4,309.0 364.3,300.1 366.1,298.8 368.0,311.6 369.9,306.7 371.7,311.9 373.6,271.0 375.5,300.1 377.4,293.8 379.2,273.7 381.1,320.2 383.0,300.2 384.8,301.2 386.7,301.2 388.6,305.8 390.5,293.8 392.3,306.5 394.2,305.9 396.1,302.3 397.9,291.6 399.8,302.3 401.7,311.2 403.6,300.6 405.4,314.9 407.3,304.2 409.2,303.2 411.0,312.1 412.9,311.2 414.8,307.3 416.7,314.7 418.5,309.1 420.4,313.5 422.3,310.0 424.1,312.8 426.0,307.7 427.9,311.9 429.7,308.5 431.6,313.0 433.5,308.0 435.4,312.7 437.2,309.7 439.1,313.3 441.0,310.0 442.8,314.1" fill="none" stroke="#a0ee70" stroke-width="0.85" stroke-linejoin="round"/>
<polyline points="267.0,247.4 268.8,238.6 270.7,240.2 272.6,212.1 274.5,250.4 276.3,272.9 278.2,266.2 280.1,274.5 281.9,273.3 283.8,270.8 285.7,267.3 287.6,274.2 289.4,294.1 291.3,272.6 293.2,279.3 295.0,307.7 296.9,294.3 298.8,300.5 300.6,309.1 302.5,283.9 304.4,312.0 306.3,316.6 308.1,313.7 310.0,292.2 311.9,309.9 313.7,302.1 315.6,274.4 317.5,296.9 319.4,268.9 321.2,310.4 323.1,323.0 325.0,304.3 326.8,299.9 328.7,307.7 330.6,294.6 332.5,303.8 334.3,291.8 336.2,310.2 338.1,301.5 339.9,311.2 341.8,305.6 343.7,304.9 345.6,303.3 347.4,300.0 349.3,315.3 351.2,309.8 353.0,319.4 354.9,290.9 356.8,301.1 358.7,302.1 360.5,275.9 362.4,314.5 364.3,308.9 366.1,294.2 368.0,296.2 369.9,286.6 371.7,308.0 373.6,299.3 375.5,287.5 377.4,297.0 379.2,301.5 381.1,284.0 383.0,294.8 384.8,312.8 386.7,295.0 388.6,294.8 390.5,318.3 392.3,302.3 394.2,298.3 396.1,302.2 397.9,289.9 399.8,296.3 401.7,293.1 403.6,298.9 405.4,284.9 407.3,348.1 409.2,299.5 411.0,300.0 412.9,310.3 414.8,316.2 416.7,313.3 418.5,316.2 420.4,312.8 422.3,316.7 424.1,311.4 426.0,318.1 427.9,311.5 429.7,315.4 431.6,312.5 433.5,315.9 435.4,312.7 437.2,316.3 439.1,311.7 441.0,318.0 442.8,311.9" fill="none" stroke="#80e890" stroke-width="0.85" stroke-linejoin="round"/>
<polyline points="267.0,235.6 268.8,257.1 270.7,253.1 272.6,250.3 274.5,254.9 276.3,267.4 278.2,242.9 280.1,271.0 281.9,241.1 283.8,268.5 285.7,274.6 287.6,267.7 289.4,272.4 291.3,286.5 293.2,292.1 295.0,266.6 296.9,280.6 298.8,271.5 300.6,289.5 302.5,284.8 304.4,289.4 306.3,289.0 308.1,276.9 310.0,246.5 311.9,266.5 313.7,289.2 315.6,278.5 317.5,287.0 319.4,274.9 321.2,281.7 323.1,280.8 325.0,300.7 326.8,287.6 328.7,277.3 330.6,278.3 332.5,278.3 334.3,299.3 336.2,283.7 338.1,252.1 339.9,288.3 341.8,289.8 343.7,292.0 345.6,288.5 347.4,288.4 349.3,297.7 351.2,286.8 353.0,283.9 354.9,304.9 356.8,290.9 358.7,277.7 360.5,296.5 362.4,278.9 364.3,287.8 366.1,293.7 368.0,294.9 369.9,295.6 371.7,287.0 373.6,295.9 375.5,284.0 377.4,291.5 379.2,268.0 381.1,297.0 383.0,307.2 384.8,303.6 386.7,293.6 388.6,296.4 390.5,307.4 392.3,287.6 394.2,298.8 396.1,313.2 397.9,296.8 399.8,299.5 401.7,304.4 403.6,307.2 405.4,300.5 407.3,300.1 409.2,300.9 411.0,298.1 412.9,307.6 414.8,307.9 416.7,303.8 418.5,307.1 420.4,304.3 422.3,307.8 424.1,301.9 426.0,306.1 427.9,301.9 429.7,307.9 431.6,305.1 433.5,307.6 435.4,302.7 437.2,308.1 439.1,304.1 441.0,307.5 442.8,303.2" fill="none" stroke="#80e8dc" stroke-width="0.85" stroke-linejoin="round"/>
<polyline points="267.0,225.5 268.8,212.1 270.7,248.2 272.6,212.1 274.5,249.8 276.3,229.8 278.2,252.3 280.1,228.8 281.9,252.7 283.8,212.1 285.7,253.2 287.6,252.0 289.4,262.6 291.3,267.6 293.2,286.5 295.0,268.6 296.9,285.8 298.8,347.0 300.6,259.5 302.5,270.2 304.4,268.0 306.3,273.0 308.1,290.8 310.0,273.8 311.9,277.7 313.7,273.6 315.6,272.1 317.5,279.3 319.4,290.6 321.2,283.8 323.1,277.9 325.0,280.1 326.8,290.2 328.7,267.2 330.6,292.0 332.5,233.0 334.3,289.7 336.2,276.5 338.1,280.8 339.9,302.6 341.8,289.8 343.7,299.8 345.6,292.1 347.4,286.0 349.3,289.6 351.2,304.1 353.0,291.8 354.9,294.4 356.8,296.4 358.7,286.0 360.5,297.9 362.4,295.7 364.3,268.0 366.1,297.0 368.0,299.8 369.9,307.3 371.7,305.8 373.6,290.1 375.5,293.7 377.4,304.3 379.2,316.0 381.1,296.4 383.0,297.8 384.8,307.1 386.7,307.2 388.6,313.1 390.5,309.2 392.3,319.5 394.2,298.5 396.1,303.3 397.9,301.9 399.8,287.4 401.7,316.3 403.6,315.6 405.4,316.0 407.3,317.8 409.2,315.2 411.0,315.8 412.9,326.0 414.8,330.1 416.7,327.0 418.5,335.0 420.4,334.0 422.3,338.5 424.1,339.3 426.0,342.1 427.9,339.5 429.7,341.8 431.6,338.9 433.5,343.0 435.4,337.3 437.2,343.1 439.1,339.5 441.0,345.3 442.8,342.5" fill="none" stroke="#78ccf4" stroke-width="0.85" stroke-linejoin="round"/>
<polyline points="267.0,212.1 268.8,212.1 270.7,222.1 272.6,214.0 274.5,258.2 276.3,225.0 278.2,238.8 280.1,219.8 281.9,238.5 283.8,232.2 285.7,253.7 287.6,241.5 289.4,268.4 291.3,255.3 293.2,274.3 295.0,266.0 296.9,279.7 298.8,286.9 300.6,270.5 302.5,241.3 304.4,279.0 306.3,272.0 308.1,278.4 310.0,286.7 311.9,281.2 313.7,277.8 315.6,278.0 317.5,304.6 319.4,283.6 321.2,352.1 323.1,224.6 325.0,284.9 326.8,278.4 328.7,277.2 330.6,283.9 332.5,284.1 334.3,279.6 336.2,292.6 338.1,297.1 339.9,282.7 341.8,290.1 343.7,292.3 345.6,288.2 347.4,291.0 349.3,273.4 351.2,280.7 353.0,292.0 354.9,282.9 356.8,280.5 358.7,297.3 360.5,306.6 362.4,284.7 364.3,302.0 366.1,276.9 368.0,292.3 369.9,265.1 371.7,299.9 373.6,300.2 375.5,279.0 377.4,300.8 379.2,294.3 381.1,289.3 383.0,293.4 384.8,302.3 386.7,291.1 388.6,297.1 390.5,296.3 392.3,298.9 394.2,310.7 396.1,293.5 397.9,293.2 399.8,299.9 401.7,298.9 403.6,290.9 405.4,293.9 407.3,294.0 409.2,290.5 411.0,307.9 412.9,309.9 414.8,319.2 416.7,314.2 418.5,317.6 420.4,314.9 422.3,319.6 424.1,314.5 426.0,318.7 427.9,315.0 429.7,319.7 431.6,315.4 433.5,321.6 435.4,314.2 437.2,319.9 439.1,313.9 441.0,320.0 442.8,315.7" fill="none" stroke="#78acf0" stroke-width="0.85" stroke-linejoin="round"/>
<polyline points="267.0,250.1 268.8,232.0 270.7,232.3 272.6,226.1 274.5,239.5 276.3,238.0 278.2,250.2 280.1,240.9 281.9,249.1 283.8,246.6 285.7,253.7 287.6,259.1 289.4,273.7 291.3,244.5 293.2,257.5 295.0,310.5 296.9,299.6 298.8,300.4 300.6,312.0 302.5,312.5 304.4,297.0 306.3,291.6 308.1,297.0 310.0,311.0 311.9,308.0 313.7,293.6 315.6,279.9 317.5,308.6 319.4,303.4 321.2,322.3 323.1,312.9 325.0,309.4 326.8,303.2 328.7,308.9 330.6,298.0 332.5,298.3 334.3,318.8 336.2,313.0 338.1,304.8 339.9,312.8 341.8,308.0 343.7,300.1 345.6,290.7 347.4,303.5 349.3,300.0 351.2,306.7 353.0,307.7 354.9,314.9 356.8,284.2 358.7,302.3 360.5,292.0 362.4,293.1 364.3,302.8 366.1,285.9 368.0,308.6 369.9,304.9 371.7,297.8 373.6,299.3 375.5,298.4 377.4,308.7 379.2,307.1 381.1,307.6 383.0,314.7 384.8,306.6 386.7,297.7 388.6,320.5 390.5,312.4 392.3,298.2 394.2,291.4 396.1,296.5 397.9,310.0 399.8,286.8 401.7,309.1 403.6,306.0 405.4,292.9 407.3,306.2 409.2,295.8 411.0,307.5 412.9,308.9 414.8,312.2 416.7,317.3 418.5,314.1 420.4,318.8 422.3,314.0 424.1,318.7 426.0,313.8 427.9,318.2 429.7,313.1 431.6,320.7 433.5,313.3 435.4,317.0 437.2,312.8 439.1,318.4 441.0,315.3 442.8,319.1" fill="none" stroke="#5068e8" stroke-width="0.85" stroke-linejoin="round"/>
<polyline points="267.0,219.3 268.8,224.9 270.7,212.1 272.6,235.5 274.5,232.1 276.3,212.1 278.2,238.1 280.1,254.1 281.9,228.5 283.8,236.4 285.7,236.5 287.6,271.9 289.4,265.3 291.3,260.8 293.2,278.0 295.0,310.2 296.9,308.1 298.8,304.8 300.6,306.5 302.5,297.3 304.4,313.5 306.3,313.5 308.1,301.5 310.0,311.0 311.9,298.1 313.7,302.0 315.6,308.4 317.5,298.1 319.4,311.1 321.2,298.7 323.1,297.6 325.0,304.6 326.8,352.1 328.7,307.3 330.6,310.7 332.5,304.5 334.3,308.2 336.2,302.7 338.1,310.9 339.9,308.8 341.8,271.1 343.7,315.2 345.6,326.7 347.4,298.3 349.3,294.8 351.2,310.5 353.0,306.8 354.9,310.4 356.8,300.5 358.7,298.6 360.5,261.5 362.4,298.6 364.3,302.8 366.1,305.4 368.0,312.1 369.9,284.8 371.7,304.6 373.6,309.7 375.5,318.1 377.4,308.4 379.2,315.1 381.1,310.5 383.0,299.8 384.8,300.4 386.7,299.1 388.6,314.6 390.5,294.6 392.3,296.6 394.2,307.9 396.1,307.1 397.9,305.8 399.8,313.3 401.7,306.7 403.6,298.3 405.4,305.2 407.3,296.9 409.2,322.2 411.0,317.1 412.9,315.2 414.8,316.3 416.7,319.5 418.5,317.4 420.4,321.3 422.3,317.9 424.1,322.0 426.0,316.3 427.9,319.5 429.7,318.7 431.6,322.1 433.5,316.8 435.4,320.6 437.2,318.0 439.1,322.0 441.0,315.3 442.8,320.4" fill="none" stroke="#4a48e0" stroke-width="0.85" stroke-linejoin="round"/>
<polyline points="267.0,228.0 268.8,243.4 270.7,231.7 272.6,236.2 274.5,251.3 276.3,248.4 278.2,255.1 280.1,272.2 281.9,240.1 283.8,251.0 285.7,242.5 287.6,248.6 289.4,271.8 291.3,254.5 293.2,265.7 295.0,318.5 296.9,318.0 298.8,318.7 300.6,318.5 302.5,318.6 304.4,318.2 306.3,318.4 308.1,318.6 310.0,318.8 311.9,318.0 313.7,319.0 315.6,319.0 317.5,318.2 319.4,317.5 321.2,318.5 323.1,318.6 325.0,319.2 326.8,318.9 328.7,318.3 330.6,318.6 332.5,318.4 334.3,318.3 336.2,318.1 338.1,319.1 339.9,318.2 341.8,319.2 343.7,317.9 345.6,317.5 347.4,317.4 349.3,319.1 351.2,318.8 353.0,318.3 354.9,318.9 356.8,318.3 358.7,319.0 360.5,318.7 362.4,318.8 364.3,318.4 366.1,319.7 368.0,318.7 369.9,319.0 371.7,319.1 373.6,318.9 375.5,318.4 377.4,317.9 379.2,317.4 381.1,319.5 383.0,318.5 384.8,319.6 386.7,318.7 388.6,319.5 390.5,319.3 392.3,318.2 394.2,318.3 396.1,318.8 397.9,318.4 399.8,319.0 401.7,318.8 403.6,318.5 405.4,318.4 407.3,319.0 409.2,318.2 411.0,319.4 412.9,321.8 414.8,326.6 416.7,320.6 418.5,326.0 420.4,320.4 422.3,325.6 424.1,321.0 426.0,325.5 427.9,321.2 429.7,325.3 431.6,320.7 433.5,325.4 435.4,319.9 437.2,325.6 439.1,320.7 441.0,325.9 442.8,319.5" fill="none" stroke="#9850f0" stroke-width="0.85" stroke-linejoin="round"/>
<polyline points="267.0,225.7 268.8,214.5 270.7,212.1 272.6,244.0 274.5,249.2 276.3,230.5 278.2,212.1 280.1,242.8 281.9,236.5 283.8,239.8 285.7,243.2 287.6,259.3 289.4,268.5 291.3,262.7 293.2,261.1 295.0,260.4 296.9,283.2 298.8,278.6 300.6,297.3 302.5,279.5 304.4,288.1 306.3,290.3 308.1,287.7 310.0,299.9 311.9,292.6 313.7,298.2 315.6,295.3 317.5,287.0 319.4,286.1 321.2,274.1 323.1,284.4 325.0,296.9 326.8,293.3 328.7,291.6 330.6,301.3 332.5,298.1 334.3,301.8 336.2,302.8 338.1,295.7 339.9,295.4 341.8,297.5 343.7,293.0 345.6,287.5 347.4,295.0 349.3,306.0 351.2,288.6 353.0,299.8 354.9,304.4 356.8,301.4 358.7,307.9 360.5,296.1 362.4,291.1 364.3,297.5 366.1,316.9 368.0,272.4 369.9,306.4 371.7,290.3 373.6,302.3 375.5,305.8 377.4,298.2 379.2,314.9 381.1,307.1 383.0,301.5 384.8,327.6 386.7,304.3 388.6,305.5 390.5,299.8 392.3,308.3 394.2,307.4 396.1,306.1 397.9,327.1 399.8,309.2 401.7,298.5 403.6,315.7 405.4,314.6 407.3,315.1 409.2,318.2 411.0,313.5 412.9,322.1 414.8,336.3 416.7,330.9 418.5,334.3 420.4,331.9 422.3,334.6 424.1,330.9 426.0,335.5 427.9,329.9 429.7,335.4 431.6,330.1 433.5,334.3 435.4,331.7 437.2,336.1 439.1,330.0 441.0,334.7 442.8,331.6" fill="none" stroke="#e050e0" stroke-width="0.85" stroke-linejoin="round"/>
<polyline points="267.0,239.9 268.8,255.6 270.7,212.1 272.6,246.0 274.5,212.1 276.3,253.8 278.2,259.1 280.1,264.3 281.9,243.0 283.8,267.6 285.7,276.9 287.6,275.1 289.4,253.8 291.3,267.7 293.2,266.8 295.0,292.7 296.9,311.4 298.8,308.3 300.6,285.0 302.5,306.4 304.4,307.1 306.3,297.9 308.1,309.3 310.0,294.1 311.9,297.0 313.7,270.9 315.6,293.7 317.5,294.5 319.4,307.5 321.2,310.6 323.1,295.1 325.0,283.3 326.8,300.8 328.7,299.3 330.6,308.2 332.5,290.1 334.3,300.4 336.2,302.1 338.1,308.5 339.9,309.1 341.8,298.5 343.7,300.0 345.6,320.1 347.4,312.1 349.3,276.9 351.2,308.9 353.0,309.6 354.9,314.3 356.8,311.4 358.7,317.5 360.5,313.9 362.4,303.1 364.3,323.2 366.1,310.9 368.0,307.1 369.9,323.5 371.7,329.3 373.6,316.6 375.5,315.2 377.4,321.3 379.2,313.8 381.1,308.2 383.0,326.6 384.8,314.9 386.7,316.3 388.6,302.4 390.5,311.6 392.3,315.2 394.2,319.6 396.1,321.7 397.9,319.6 399.8,320.0 401.7,312.3 403.6,321.7 405.4,331.0 407.3,315.2 409.2,321.6 411.0,323.0 412.9,327.7 414.8,328.5 416.7,331.3 418.5,327.7 420.4,332.5 422.3,329.9 424.1,332.5 426.0,329.2 427.9,332.9 429.7,327.4 431.6,331.4 433.5,327.7 435.4,331.6 437.2,328.5 439.1,332.8 441.0,327.2 442.8,331.3" fill="none" stroke="#d82858" stroke-width="0.85" stroke-linejoin="round"/>
<polyline points="267.0,304.6 268.8,315.0 270.7,285.3 272.6,315.8 274.5,302.2 276.3,284.9 278.2,296.4 280.1,301.7 281.9,300.5 283.8,295.0 285.7,309.9 287.6,296.8 289.4,299.0 291.3,291.1 293.2,294.5 295.0,262.3 296.9,264.1 298.8,261.6 300.6,270.9 302.5,274.1 304.4,275.9 306.3,276.9 308.1,285.6 310.0,284.1 311.9,274.9 313.7,278.0 315.6,281.6 317.5,279.8 319.4,283.0 321.2,269.4 323.1,268.4 325.0,239.3 326.8,274.1 328.7,256.4 330.6,273.6 332.5,282.4 334.3,280.6 336.2,291.5 338.1,290.4 339.9,294.1 341.8,295.5 343.7,283.0 345.6,289.8 347.4,278.1 349.3,298.9 351.2,281.3 353.0,289.0 354.9,286.4 356.8,281.6 358.7,288.7 360.5,302.8 362.4,254.1 364.3,326.4 366.1,309.1 368.0,299.6 369.9,295.0 371.7,297.6 373.6,288.3 375.5,300.7 377.4,299.1 379.2,290.5 381.1,295.8 383.0,302.3 384.8,291.7 386.7,287.0 388.6,306.9 390.5,308.7 392.3,295.2 394.2,313.2 396.1,294.6 397.9,313.9 399.8,314.8 401.7,299.0 403.6,307.3 405.4,299.6 407.3,300.7 409.2,302.2 411.0,305.9 412.9,307.7 414.8,319.3 416.7,316.8 418.5,318.9 420.4,318.0 422.3,320.2 424.1,317.2 426.0,318.9 427.9,319.1 429.7,318.6 431.6,315.5 433.5,317.7 435.4,316.2 437.2,319.9 439.1,317.1 441.0,320.0 442.8,318.1" fill="none" stroke="#5a5a5a" stroke-width="0.7" stroke-opacity="0.45" stroke-linejoin="round"/>
<polyline points="267.0,263.5 268.8,258.4 270.7,274.7 272.6,258.6 274.5,273.9 276.3,293.1 278.2,293.2 280.1,269.8 281.9,259.9 283.8,263.1 285.7,300.7 287.6,261.6 289.4,281.4 291.3,283.0 293.2,276.3 295.0,261.9 296.9,264.6 298.8,270.9 300.6,265.2 302.5,262.4 304.4,268.3 306.3,260.6 308.1,259.5 310.0,272.9 311.9,284.6 313.7,263.7 315.6,287.1 317.5,283.3 319.4,280.4 321.2,264.7 323.1,274.1 325.0,294.4 326.8,282.0 328.7,289.3 330.6,274.1 332.5,282.8 334.3,285.9 336.2,257.0 338.1,281.5 339.9,282.7 341.8,286.3 343.7,292.3 345.6,298.9 347.4,283.9 349.3,290.2 351.2,303.9 353.0,284.9 354.9,287.9 356.8,287.8 358.7,248.1 360.5,292.1 362.4,305.6 364.3,329.3 366.1,285.1 368.0,264.1 369.9,297.2 371.7,298.0 373.6,301.3 375.5,293.7 377.4,302.7 379.2,292.2 381.1,281.7 383.0,309.1 384.8,304.4 386.7,304.3 388.6,312.8 390.5,306.5 392.3,305.8 394.2,304.3 396.1,308.5 397.9,301.6 399.8,301.1 401.7,298.0 403.6,307.6 405.4,299.7 407.3,295.6 409.2,305.2 411.0,314.5 412.9,316.9 414.8,313.1 416.7,311.6 418.5,312.6 420.4,309.9 422.3,311.9 424.1,311.1 426.0,313.3 427.9,310.3 429.7,311.3 431.6,310.8 433.5,314.9 435.4,311.8 437.2,315.0 439.1,311.5 441.0,312.4 442.8,310.1" fill="none" stroke="#e04850" stroke-width="0.7" stroke-opacity="0.45" stroke-linejoin="round"/>
<polyline points="267.0,287.0 268.8,285.4 270.7,294.2 272.6,294.8 274.5,276.3 276.3,277.2 278.2,286.4 280.1,284.2 281.9,280.1 283.8,296.1 285.7,299.2 287.6,290.4 289.4,299.8 291.3,302.2 293.2,284.2 295.0,302.9 296.9,302.5 298.8,296.8 300.6,310.9 302.5,308.4 304.4,295.9 306.3,306.8 308.1,310.5 310.0,302.2 311.9,308.0 313.7,265.3 315.6,302.7 317.5,275.9 319.4,316.0 321.2,313.7 323.1,309.0 325.0,301.4 326.8,303.3 328.7,297.8 330.6,299.6 332.5,299.7 334.3,273.7 336.2,310.8 338.1,301.6 339.9,295.0 341.8,288.4 343.7,300.6 345.6,299.6 347.4,312.2 349.3,305.5 351.2,311.9 353.0,298.9 354.9,287.9 356.8,308.5 358.7,292.1 360.5,305.9 362.4,292.4 364.3,295.6 366.1,302.3 368.0,286.4 369.9,298.2 371.7,278.3 373.6,285.0 375.5,309.4 377.4,303.8 379.2,293.6 381.1,314.1 383.0,302.7 384.8,286.2 386.7,303.2 388.6,304.5 390.5,300.9 392.3,310.7 394.2,302.8 396.1,303.7 397.9,292.5 399.8,300.0 401.7,286.7 403.6,292.5 405.4,296.5 407.3,312.0 409.2,294.1 411.0,299.6 412.9,310.8 414.8,312.0 416.7,315.0 418.5,312.8 420.4,317.6 422.3,313.8 424.1,316.1 426.0,312.9 427.9,316.1 429.7,313.3 431.6,314.6 433.5,313.9 435.4,315.7 437.2,313.4 439.1,315.9 441.0,313.4 442.8,315.9" fill="none" stroke="#ec6838" stroke-width="0.7" stroke-opacity="0.45" stroke-linejoin="round"/>
<polyline points="267.0,270.2 268.8,297.1 270.7,274.9 272.6,283.9 274.5,294.1 276.3,298.8 278.2,258.7 280.1,285.5 281.9,277.0 283.8,311.2 285.7,285.3 287.6,299.9 289.4,290.3 291.3,273.8 293.2,280.7 295.0,273.9 296.9,257.5 298.8,263.4 300.6,273.2 302.5,275.7 304.4,278.0 306.3,256.9 308.1,274.1 310.0,280.5 311.9,267.8 313.7,268.9 315.6,274.6 317.5,271.7 319.4,271.5 321.2,269.8 323.1,272.7 325.0,242.0 326.8,268.8 328.7,278.6 330.6,281.1 332.5,284.7 334.3,278.4 336.2,269.3 338.1,274.5 339.9,283.2 341.8,276.9 343.7,290.5 345.6,277.9 347.4,259.8 349.3,280.5 351.2,274.5 353.0,273.1 354.9,278.7 356.8,279.9 358.7,270.5 360.5,266.4 362.4,280.4 364.3,270.9 366.1,276.2 368.0,271.8 369.9,275.9 371.7,275.6 373.6,285.9 375.5,290.6 377.4,291.0 379.2,285.2 381.1,289.8 383.0,276.6 384.8,285.0 386.7,273.9 388.6,293.0 390.5,290.1 392.3,282.3 394.2,290.2 396.1,283.3 397.9,286.9 399.8,280.1 401.7,291.9 403.6,283.0 405.4,286.1 407.3,282.6 409.2,293.4 411.0,289.5 412.9,291.3 414.8,302.0 416.7,299.2 418.5,301.0 420.4,297.5 422.3,300.7 424.1,296.9 426.0,300.3 427.9,299.0 429.7,300.9 431.6,298.5 433.5,300.9 435.4,299.3 437.2,300.4 439.1,299.3 441.0,300.8 442.8,298.3" fill="none" stroke="#eea860" stroke-width="0.7" stroke-opacity="0.8" stroke-linejoin="round"/>
<polyline points="267.0,294.5 268.8,294.2 270.7,286.7 272.6,315.7 274.5,314.6 276.3,286.1 278.2,304.4 280.1,294.2 281.9,297.9 283.8,288.6 285.7,286.9 287.6,276.1 289.4,300.0 291.3,298.0 293.2,279.4 295.0,272.2 296.9,296.0 298.8,279.1 300.6,289.0 302.5,282.6 304.4,278.3 306.3,280.4 308.1,266.1 310.0,291.0 311.9,255.5 313.7,267.3 315.6,283.5 317.5,256.5 319.4,276.7 321.2,283.8 323.1,281.5 325.0,284.0 326.8,292.1 328.7,286.1 330.6,288.1 332.5,274.2 334.3,293.7 336.2,282.7 338.1,292.1 339.9,291.7 341.8,291.1 343.7,296.8 345.6,261.1 347.4,292.6 349.3,274.0 351.2,294.1 353.0,287.8 354.9,294.5 356.8,296.9 358.7,296.5 360.5,290.2 362.4,276.1 364.3,281.7 366.1,296.3 368.0,283.3 369.9,285.2 371.7,287.0 373.6,268.9 375.5,283.7 377.4,303.6 379.2,285.7 381.1,288.1 383.0,282.9 384.8,287.0 386.7,274.8 388.6,303.4 390.5,287.8 392.3,292.7 394.2,300.3 396.1,276.5 397.9,303.4 399.8,289.9 401.7,294.9 403.6,284.5 405.4,289.2 407.3,285.1 409.2,300.9 411.0,297.8 412.9,300.1 414.8,308.6 416.7,309.9 418.5,307.3 420.4,309.9 422.3,308.4 424.1,308.4 426.0,307.6 427.9,309.1 429.7,305.5 431.6,309.3 433.5,306.5 435.4,307.9 437.2,307.9 439.1,308.3 441.0,307.5 442.8,308.6" fill="none" stroke="#f2cc50" stroke-width="0.7" stroke-opacity="0.45" stroke-linejoin="round"/>
<polyline points="267.0,253.8 268.8,284.8 270.7,275.4 272.6,271.0 274.5,289.1 276.3,292.8 278.2,276.3 280.1,273.2 281.9,276.5 283.8,264.7 285.7,272.4 287.6,282.0 289.4,272.1 291.3,295.9 293.2,288.4 295.0,287.3 296.9,264.8 298.8,352.1 300.6,285.3 302.5,279.5 304.4,273.8 306.3,286.1 308.1,267.4 310.0,283.0 311.9,284.7 313.7,277.0 315.6,290.0 317.5,279.5 319.4,281.5 321.2,282.6 323.1,278.4 325.0,288.2 326.8,280.7 328.7,282.0 330.6,295.1 332.5,288.1 334.3,289.6 336.2,255.7 338.1,269.0 339.9,295.4 341.8,290.6 343.7,288.2 345.6,290.0 347.4,300.3 349.3,299.9 351.2,297.5 353.0,293.2 354.9,296.9 356.8,290.9 358.7,293.3 360.5,305.6 362.4,302.0 364.3,305.7 366.1,269.2 368.0,290.5 369.9,300.6 371.7,298.5 373.6,293.8 375.5,307.7 377.4,294.5 379.2,305.2 381.1,315.3 383.0,299.3 384.8,299.8 386.7,295.3 388.6,303.6 390.5,303.5 392.3,304.0 394.2,295.2 396.1,305.5 397.9,312.8 399.8,309.1 401.7,298.0 403.6,279.1 405.4,303.2 407.3,309.4 409.2,303.6 411.0,308.2 412.9,312.6 414.8,317.9 416.7,313.5 418.5,317.2 420.4,315.6 422.3,316.3 424.1,313.6 426.0,317.4 427.9,314.9 429.7,318.0 431.6,314.4 433.5,317.3 435.4,315.1 437.2,317.3 439.1,316.5 441.0,316.0 442.8,314.9" fill="none" stroke="#dcf050" stroke-width="0.7" stroke-opacity="0.45" stroke-linejoin="round"/>
<polyline points="267.0,273.9 268.8,266.0 270.7,266.5 272.6,262.9 274.5,261.4 276.3,298.7 278.2,283.3 280.1,264.2 281.9,265.6 283.8,293.8 285.7,275.5 287.6,286.3 289.4,287.9 291.3,289.3 293.2,284.4 295.0,294.3 296.9,294.2 298.8,300.2 300.6,280.4 302.5,302.8 304.4,299.2 306.3,287.7 308.1,286.1 310.0,290.1 311.9,294.6 313.7,292.9 315.6,292.1 317.5,284.3 319.4,289.6 321.2,291.4 323.1,244.0 325.0,288.1 326.8,286.6 328.7,292.8 330.6,270.9 332.5,288.2 334.3,298.0 336.2,298.5 338.1,293.1 339.9,274.2 341.8,293.9 343.7,291.4 345.6,292.4 347.4,300.0 349.3,297.1 351.2,302.5 353.0,295.4 354.9,284.9 356.8,266.4 358.7,289.9 360.5,286.7 362.4,252.7 364.3,302.4 366.1,285.1 368.0,279.2 369.9,283.4 371.7,287.4 373.6,287.3 375.5,295.3 377.4,289.6 379.2,290.0 381.1,287.6 383.0,287.8 384.8,289.5 386.7,283.8 388.6,285.8 390.5,282.3 392.3,295.9 394.2,302.8 396.1,285.6 397.9,282.9 399.8,282.1 401.7,293.4 403.6,294.6 405.4,303.9 407.3,294.6 409.2,293.5 411.0,293.3 412.9,304.9 414.8,311.7 416.7,309.3 418.5,311.1 420.4,308.6 422.3,312.6 424.1,310.0 426.0,311.1 427.9,308.8 429.7,311.0 431.6,309.8 433.5,311.7 435.4,309.0 437.2,310.2 439.1,309.5 441.0,311.8 442.8,308.5" fill="none" stroke="#a0ee70" stroke-width="0.7" stroke-opacity="0.45" stroke-linejoin="round"/>
<polyline points="267.0,312.6 268.8,271.3 270.7,285.6 272.6,298.9 274.5,299.8 276.3,295.3 278.2,286.8 280.1,288.0 281.9,296.6 283.8,276.2 285.7,293.1 287.6,299.9 289.4,288.5 291.3,264.0 293.2,290.8 295.0,302.8 296.9,311.3 298.8,295.5 300.6,307.7 302.5,282.4 304.4,297.2 306.3,283.6 308.1,295.7 310.0,309.1 311.9,306.5 313.7,303.4 315.6,294.4 317.5,278.5 319.4,300.4 321.2,312.8 323.1,303.6 325.0,313.9 326.8,270.6 328.7,311.2 330.6,282.5 332.5,293.2 334.3,307.6 336.2,301.8 338.1,308.7 339.9,309.2 341.8,290.1 343.7,311.6 345.6,297.2 347.4,313.0 349.3,304.3 351.2,303.1 353.0,318.2 354.9,299.3 356.8,288.4 358.7,293.5 360.5,294.9 362.4,308.5 364.3,304.2 366.1,295.6 368.0,299.8 369.9,305.5 371.7,301.9 373.6,304.3 375.5,309.7 377.4,290.8 379.2,297.1 381.1,295.9 383.0,302.0 384.8,302.2 386.7,295.2 388.6,312.6 390.5,296.9 392.3,300.8 394.2,297.7 396.1,265.8 397.9,300.9 399.8,279.7 401.7,302.9 403.6,307.6 405.4,302.4 407.3,311.1 409.2,290.8 411.0,299.1 412.9,309.4 414.8,311.7 416.7,307.6 418.5,310.4 420.4,306.3 422.3,309.5 424.1,310.5 426.0,309.8 427.9,309.5 429.7,311.3 431.6,306.3 433.5,309.7 435.4,308.1 437.2,310.4 439.1,308.0 441.0,310.6 442.8,307.6" fill="none" stroke="#80e890" stroke-width="0.7" stroke-opacity="0.45" stroke-linejoin="round"/>
<polyline points="267.0,317.1 268.8,296.0 270.7,306.5 272.6,277.4 274.5,312.6 276.3,288.9 278.2,298.3 280.1,289.4 281.9,292.2 283.8,307.7 285.7,310.5 287.6,287.5 289.4,287.0 291.3,297.1 293.2,298.2 295.0,316.7 296.9,310.8 298.8,338.4 300.6,302.8 302.5,293.3 304.4,317.9 306.3,302.9 308.1,302.0 310.0,307.9 311.9,302.5 313.7,296.2 315.6,297.0 317.5,300.8 319.4,306.5 321.2,253.8 323.1,302.9 325.0,315.2 326.8,307.2 328.7,296.9 330.6,298.6 332.5,293.0 334.3,302.6 336.2,295.2 338.1,296.0 339.9,303.5 341.8,293.9 343.7,253.7 345.6,283.7 347.4,296.7 349.3,294.6 351.2,303.6 353.0,284.8 354.9,301.0 356.8,300.7 358.7,295.5 360.5,291.0 362.4,305.0 364.3,293.7 366.1,272.5 368.0,299.5 369.9,292.3 371.7,309.7 373.6,277.9 375.5,290.7 377.4,289.5 379.2,303.9 381.1,280.0 383.0,286.4 384.8,272.6 386.7,288.7 388.6,284.1 390.5,289.4 392.3,298.3 394.2,290.2 396.1,282.5 397.9,281.6 399.8,284.6 401.7,288.2 403.6,292.0 405.4,293.7 407.3,297.9 409.2,280.4 411.0,292.6 412.9,302.3 414.8,308.4 416.7,307.5 418.5,308.4 420.4,308.7 422.3,308.4 424.1,306.6 426.0,308.9 427.9,307.5 429.7,309.0 431.6,307.6 433.5,309.6 435.4,306.5 437.2,308.5 439.1,307.1 441.0,308.1 442.8,307.9" fill="none" stroke="#80e8dc" stroke-width="0.7" stroke-opacity="0.45" stroke-linejoin="round"/>
<polyline points="267.0,305.1 268.8,296.0 270.7,297.1 272.6,289.6 274.5,261.8 276.3,290.6 278.2,294.3 280.1,292.5 281.9,293.5 283.8,289.3 285.7,288.0 287.6,320.0 289.4,288.7 291.3,289.5 293.2,279.7 295.0,268.1 296.9,235.0 298.8,276.0 300.6,266.7 302.5,260.3 304.4,224.4 306.3,275.2 308.1,285.0 310.0,287.6 311.9,285.2 313.7,214.5 315.6,283.8 317.5,281.8 319.4,275.2 321.2,271.7 323.1,298.6 325.0,275.6 326.8,285.9 328.7,281.9 330.6,271.5 332.5,281.2 334.3,283.5 336.2,267.8 338.1,294.7 339.9,289.3 341.8,286.8 343.7,276.0 345.6,281.2 347.4,292.0 349.3,289.1 351.2,296.5 353.0,295.2 354.9,289.7 356.8,296.6 358.7,292.7 360.5,277.8 362.4,298.1 364.3,292.4 366.1,279.9 368.0,291.5 369.9,290.8 371.7,289.9 373.6,282.6 375.5,282.8 377.4,282.6 379.2,293.0 381.1,295.4 383.0,292.3 384.8,280.9 386.7,287.5 388.6,286.4 390.5,293.4 392.3,302.4 394.2,289.5 396.1,301.4 397.9,301.1 399.8,297.5 401.7,299.1 403.6,290.3 405.4,294.7 407.3,286.0 409.2,304.8 411.0,301.4 412.9,307.4 414.8,313.3 416.7,310.5 418.5,312.5 420.4,312.1 422.3,312.6 424.1,311.0 426.0,314.3 427.9,310.3 429.7,313.0 431.6,310.7 433.5,312.7 435.4,310.1 437.2,312.5 439.1,311.1 441.0,313.5 442.8,310.1" fill="none" stroke="#78ccf4" stroke-width="0.7" stroke-opacity="0.45" stroke-linejoin="round"/>
<polyline points="267.0,286.8 268.8,287.3 270.7,317.4 272.6,297.3 274.5,289.5 276.3,290.8 278.2,306.0 280.1,302.9 281.9,292.0 283.8,307.3 285.7,296.5 287.6,311.5 289.4,293.9 291.3,307.2 293.2,292.7 295.0,284.3 296.9,284.1 298.8,286.1 300.6,309.5 302.5,291.2 304.4,300.6 306.3,306.9 308.1,294.6 310.0,290.3 311.9,247.1 313.7,298.6 315.6,285.9 317.5,325.9 319.4,299.8 321.2,352.1 323.1,302.2 325.0,288.7 326.8,299.3 328.7,289.0 330.6,288.8 332.5,305.8 334.3,299.1 336.2,298.4 338.1,299.5 339.9,304.9 341.8,304.7 343.7,294.4 345.6,305.7 347.4,302.7 349.3,291.6 351.2,292.3 353.0,298.3 354.9,308.5 356.8,315.1 358.7,265.7 360.5,299.0 362.4,259.4 364.3,291.2 366.1,302.6 368.0,300.6 369.9,299.2 371.7,298.4 373.6,295.3 375.5,288.3 377.4,295.8 379.2,296.8 381.1,301.6 383.0,305.3 384.8,305.2 386.7,304.8 388.6,299.1 390.5,292.2 392.3,306.4 394.2,307.6 396.1,297.8 397.9,281.1 399.8,309.1 401.7,308.8 403.6,302.8 405.4,303.2 407.3,285.0 409.2,297.9 411.0,311.2 412.9,316.8 414.8,315.0 416.7,318.2 418.5,314.8 420.4,317.6 422.3,314.5 424.1,318.1 426.0,315.6 427.9,318.2 429.7,315.0 431.6,318.9 433.5,314.9 435.4,317.5 437.2,314.0 439.1,318.9 441.0,315.2 442.8,316.4" fill="none" stroke="#78acf0" stroke-width="0.7" stroke-opacity="0.45" stroke-linejoin="round"/>
<polyline points="267.0,261.7 268.8,264.5 270.7,263.6 272.6,273.3 274.5,294.4 276.3,263.2 278.2,274.3 280.1,271.9 281.9,285.9 283.8,284.6 285.7,282.5 287.6,285.6 289.4,287.4 291.3,291.0 293.2,285.3 295.0,287.9 296.9,286.9 298.8,307.7 300.6,306.8 302.5,299.3 304.4,302.7 306.3,309.3 308.1,305.5 310.0,298.0 311.9,307.2 313.7,301.5 315.6,301.1 317.5,310.5 319.4,271.8 321.2,310.2 323.1,296.4 325.0,314.9 326.8,250.4 328.7,314.5 330.6,296.2 332.5,280.7 334.3,310.7 336.2,305.8 338.1,297.1 339.9,305.3 341.8,316.9 343.7,310.7 345.6,305.9 347.4,302.7 349.3,302.3 351.2,315.6 353.0,306.0 354.9,314.8 356.8,301.2 358.7,304.0 360.5,300.2 362.4,305.0 364.3,312.5 366.1,313.1 368.0,305.3 369.9,305.9 371.7,314.0 373.6,314.3 375.5,307.8 377.4,306.2 379.2,297.3 381.1,305.7 383.0,313.4 384.8,314.2 386.7,321.2 388.6,308.0 390.5,321.0 392.3,305.0 394.2,311.6 396.1,305.2 397.9,313.7 399.8,307.8 401.7,297.8 403.6,307.0 405.4,309.5 407.3,277.8 409.2,312.5 411.0,313.6 412.9,317.8 414.8,316.3 416.7,319.2 418.5,315.2 420.4,320.0 422.3,315.8 424.1,320.1 426.0,317.5 427.9,316.7 429.7,317.8 431.6,319.2 433.5,317.5 435.4,318.4 437.2,317.3 439.1,320.0 441.0,317.4 442.8,320.4" fill="none" stroke="#5068e8" stroke-width="0.7" stroke-opacity="0.45" stroke-linejoin="round"/>
<polyline points="267.0,290.3 268.8,280.9 270.7,276.5 272.6,285.1 274.5,272.0 276.3,291.1 278.2,282.1 280.1,274.5 281.9,288.5 283.8,288.3 285.7,277.0 287.6,296.8 289.4,307.2 291.3,295.8 293.2,288.4 295.0,291.8 296.9,294.9 298.8,281.6 300.6,264.5 302.5,272.2 304.4,290.8 306.3,283.8 308.1,309.1 310.0,292.2 311.9,295.5 313.7,291.6 315.6,292.1 317.5,300.5 319.4,298.4 321.2,283.2 323.1,308.2 325.0,271.3 326.8,299.8 328.7,295.4 330.6,293.2 332.5,291.7 334.3,295.3 336.2,304.6 338.1,299.5 339.9,294.6 341.8,301.7 343.7,282.6 345.6,288.2 347.4,281.3 349.3,304.6 351.2,295.0 353.0,294.2 354.9,296.4 356.8,295.3 358.7,257.2 360.5,289.4 362.4,296.2 364.3,288.9 366.1,296.6 368.0,307.4 369.9,283.0 371.7,248.4 373.6,305.0 375.5,280.9 377.4,303.4 379.2,292.5 381.1,303.1 383.0,284.2 384.8,304.6 386.7,284.5 388.6,284.6 390.5,303.7 392.3,300.2 394.2,299.0 396.1,304.3 397.9,303.2 399.8,299.3 401.7,293.3 403.6,281.0 405.4,282.0 407.3,294.9 409.2,295.9 411.0,307.1 412.9,307.7 414.8,314.8 416.7,313.2 418.5,315.1 420.4,312.3 422.3,315.4 424.1,312.3 426.0,315.8 427.9,311.9 429.7,316.8 431.6,311.7 433.5,316.0 435.4,311.7 437.2,317.0 439.1,311.1 441.0,315.7 442.8,312.6" fill="none" stroke="#4a48e0" stroke-width="0.7" stroke-opacity="0.45" stroke-linejoin="round"/>
<polyline points="267.0,258.6 268.8,270.3 270.7,243.7 272.6,269.5 274.5,242.1 276.3,265.3 278.2,279.1 280.1,269.6 281.9,275.3 283.8,248.0 285.7,295.9 287.6,279.0 289.4,272.6 291.3,287.4 293.2,286.7 295.0,289.1 296.9,294.9 298.8,296.9 300.6,285.1 302.5,286.3 304.4,283.5 306.3,288.1 308.1,279.4 310.0,292.4 311.9,291.7 313.7,260.0 315.6,265.4 317.5,277.9 319.4,278.3 321.2,296.8 323.1,290.2 325.0,286.5 326.8,284.0 328.7,290.7 330.6,292.4 332.5,281.0 334.3,284.0 336.2,256.1 338.1,293.1 339.9,281.6 341.8,287.9 343.7,288.5 345.6,286.6 347.4,297.5 349.3,292.9 351.2,292.3 353.0,299.8 354.9,278.8 356.8,302.3 358.7,293.1 360.5,291.1 362.4,294.4 364.3,291.0 366.1,285.6 368.0,292.6 369.9,284.1 371.7,290.3 373.6,295.6 375.5,277.1 377.4,291.7 379.2,290.3 381.1,304.0 383.0,288.9 384.8,292.8 386.7,295.9 388.6,297.1 390.5,289.6 392.3,283.4 394.2,284.1 396.1,309.5 397.9,300.8 399.8,259.7 401.7,292.3 403.6,299.1 405.4,280.7 407.3,300.6 409.2,285.6 411.0,288.4 412.9,292.8 414.8,302.0 416.7,299.6 418.5,302.3 420.4,301.1 422.3,302.0 424.1,299.0 426.0,302.0 427.9,299.4 429.7,303.5 431.6,299.6 433.5,302.5 435.4,299.1 437.2,302.6 439.1,300.5 441.0,302.4 442.8,300.1" fill="none" stroke="#9850f0" stroke-width="0.7" stroke-opacity="0.8" stroke-linejoin="round"/>
<polyline points="267.0,297.5 268.8,284.7 270.7,307.0 272.6,294.7 274.5,305.6 276.3,291.4 278.2,286.1 280.1,309.0 281.9,295.3 283.8,289.5 285.7,290.4 287.6,294.8 289.4,304.7 291.3,294.4 293.2,287.3 295.0,270.0 296.9,255.2 298.8,267.5 300.6,277.5 302.5,257.7 304.4,271.9 306.3,267.6 308.1,266.2 310.0,254.6 311.9,277.6 313.7,282.1 315.6,278.8 317.5,263.7 319.4,272.4 321.2,289.4 323.1,275.0 325.0,287.8 326.8,286.8 328.7,267.4 330.6,278.8 332.5,286.9 334.3,289.3 336.2,284.8 338.1,285.3 339.9,281.1 341.8,283.1 343.7,287.2 345.6,283.3 347.4,267.0 349.3,276.5 351.2,305.3 353.0,275.5 354.9,295.4 356.8,295.1 358.7,294.6 360.5,274.0 362.4,297.6 364.3,293.2 366.1,294.1 368.0,248.9 369.9,278.1 371.7,312.8 373.6,294.1 375.5,283.6 377.4,299.5 379.2,305.8 381.1,288.3 383.0,296.6 384.8,302.9 386.7,290.0 388.6,321.3 390.5,306.8 392.3,321.4 394.2,298.0 396.1,303.4 397.9,305.0 399.8,312.8 401.7,313.3 403.6,299.9 405.4,307.7 407.3,314.9 409.2,313.1 411.0,312.9 412.9,323.8 414.8,320.3 416.7,323.2 418.5,322.1 420.4,323.0 422.3,321.4 424.1,324.4 426.0,321.5 427.9,324.7 429.7,318.5 431.6,323.9 433.5,322.0 435.4,323.3 437.2,320.8 439.1,321.2 441.0,321.8 442.8,323.7" fill="none" stroke="#e050e0" stroke-width="0.7" stroke-opacity="0.45" stroke-linejoin="round"/>
<polyline points="267.0,286.0 268.8,289.9 270.7,279.1 272.6,301.2 274.5,296.2 276.3,278.7 278.2,282.5 280.1,276.1 281.9,279.3 283.8,283.0 285.7,287.8 287.6,289.7 289.4,284.0 291.3,278.5 293.2,294.5 295.0,302.5 296.9,292.7 298.8,306.2 300.6,282.7 302.5,310.4 304.4,298.0 306.3,291.8 308.1,312.4 310.0,301.7 311.9,304.5 313.7,308.8 315.6,295.0 317.5,307.1 319.4,332.6 321.2,321.5 323.1,317.8 325.0,314.7 326.8,319.5 328.7,300.9 330.6,352.1 332.5,311.0 334.3,301.3 336.2,320.0 338.1,305.2 339.9,310.1 341.8,317.4 343.7,315.7 345.6,297.5 347.4,316.1 349.3,310.6 351.2,304.6 353.0,311.4 354.9,276.9 356.8,320.4 358.7,305.5 360.5,308.0 362.4,324.7 364.3,309.0 366.1,275.1 368.0,313.9 369.9,318.6 371.7,313.0 373.6,310.3 375.5,311.9 377.4,319.6 379.2,318.0 381.1,321.7 383.0,314.6 384.8,323.5 386.7,313.7 388.6,314.4 390.5,318.3 392.3,316.7 394.2,315.0 396.1,301.9 397.9,300.0 399.8,314.5 401.7,322.4 403.6,318.6 405.4,307.5 407.3,325.0 409.2,326.0 411.0,320.7 412.9,325.3 414.8,324.8 416.7,323.0 418.5,324.9 420.4,323.6 422.3,325.9 424.1,323.2 426.0,326.2 427.9,321.8 429.7,324.4 431.6,323.3 433.5,325.6 435.4,322.5 437.2,325.8 439.1,322.3 441.0,326.2 442.8,323.2" fill="none" stroke="#d82858" stroke-width="0.7" stroke-opacity="0.45" stroke-linejoin="round"/>
</svg></body></html>
